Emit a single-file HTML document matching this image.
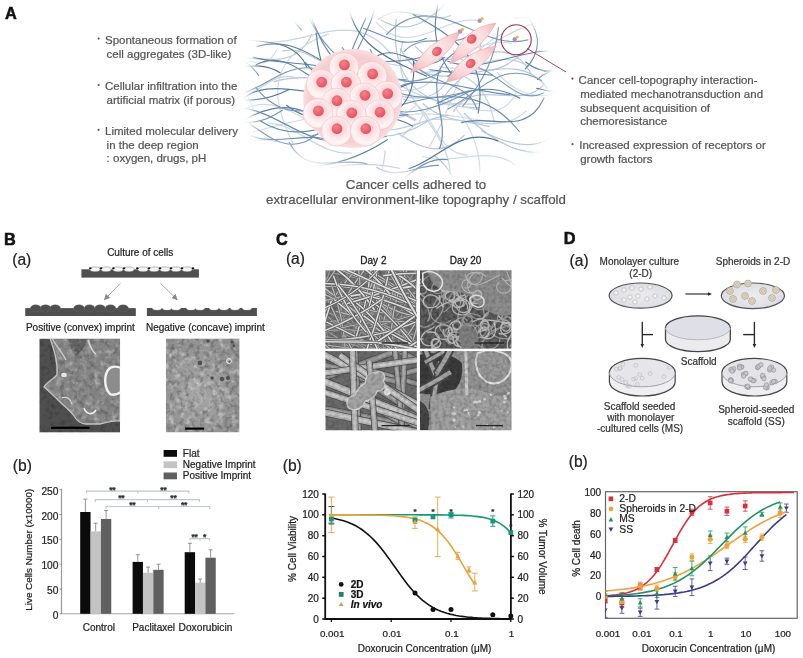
<!DOCTYPE html>
<html><head><meta charset="utf-8"><title>Figure</title>
<style>html,body{margin:0;padding:0;background:#fff;width:803px;height:658px;overflow:hidden}svg{display:block;font-family:"Liberation Sans",Arial,sans-serif}</style></head>
<body>
<svg width="803" height="658" viewBox="0 0 803 658">
<defs><filter id="fblur" x="-10%" y="-10%" width="120%" height="120%"><feGaussianBlur stdDeviation="5"/></filter>
<mask id="cloudmask" maskUnits="userSpaceOnUse" x="0" y="0" width="803" height="230"><polygon points="254,46 290,30 330,22 380,16 420,9 470,10 515,18 540,32 546,70 546,110 540,145 510,165 470,172 420,172 370,168 320,160 285,150 256,138 250,95" fill="#fff" filter="url(#fblur)"/></mask>
<filter id="glow" x="-5%" y="-5%" width="110%" height="110%"><feGaussianBlur stdDeviation="1.2"/></filter>

<radialGradient id="cellg" cx="0.55" cy="0.4" r="0.6">
 <stop offset="0" stop-color="#f9cdd0"/>
 <stop offset="0.45" stop-color="#fbdfe1"/>
 <stop offset="0.8" stop-color="#fff6f6"/>
 <stop offset="1" stop-color="#fde8e9"/>
</radialGradient>
<radialGradient id="nucg" cx="0.4" cy="0.35" r="0.7">
 <stop offset="0" stop-color="#f6828c"/>
 <stop offset="1" stop-color="#e44c5a"/>
</radialGradient>
<radialGradient id="clg" cx="0.5" cy="0.5" r="0.5">
 <stop offset="0" stop-color="#f8d3d5"/>
 <stop offset="0.85" stop-color="#f6cdd0"/>
 <stop offset="1" stop-color="#f9dfe0"/>
</radialGradient>
<radialGradient id="spg" cx="0.45" cy="0.4" r="0.65">
 <stop offset="0" stop-color="#fef0f0"/>
 <stop offset="0.6" stop-color="#fad6d7"/>
 <stop offset="1" stop-color="#f4b8bc"/>
</radialGradient>

<marker id="arrg" markerWidth="6" markerHeight="6" refX="5" refY="3" orient="auto" markerUnits="userSpaceOnUse"><path d="M0,0 L6,3 L0,6 Z" fill="#888"/></marker>

<filter id="semB1" x="0" y="0" width="100%" height="100%">
 <feTurbulence type="fractalNoise" baseFrequency="0.22" numOctaves="3" seed="3" result="n"/>
 <feColorMatrix in="n" type="matrix" values="0 0 0 0 0.5  0 0 0 0 0.5  0 0 0 0 0.5  0.9 0.9 0.9 0 -1.05" result="m"/>
 <feComposite in="m" in2="SourceGraphic" operator="in" result="c"/>
 <feMerge><feMergeNode in="SourceGraphic"/><feMergeNode in="c"/></feMerge>
</filter>
<filter id="semNoise" x="0" y="0" width="100%" height="100%">
 <feTurbulence type="fractalNoise" baseFrequency="0.35" numOctaves="2" seed="9" result="n"/>
 <feColorMatrix in="n" type="saturate" values="0" result="g"/>
 <feComponentTransfer in="g" result="g2"><feFuncA type="linear" slope="0" intercept="0.35"/></feComponentTransfer>
 <feBlend in="SourceGraphic" in2="g2" mode="overlay"/>
</filter>
<clipPath id="cB1"><rect x="39.3" y="338.6" width="80.8" height="94"/></clipPath>
<clipPath id="cB2"><rect x="165.8" y="338.4" width="73.8" height="94"/></clipPath>

<filter id="mottW" x="0" y="0" width="100%" height="100%">
 <feTurbulence type="fractalNoise" baseFrequency="0.16" numOctaves="3" seed="17" result="n"/>
 <feColorMatrix in="n" type="matrix" values="0 0 0 0 1  0 0 0 0 1  0 0 0 0 1  2.6 0 0 0 -1.25" result="m"/>
 <feComposite in="m" in2="SourceGraphic" operator="in"/>
</filter>
<filter id="mottK" x="0" y="0" width="100%" height="100%">
 <feTurbulence type="fractalNoise" baseFrequency="0.2" numOctaves="3" seed="29" result="n"/>
 <feColorMatrix in="n" type="matrix" values="0 0 0 0 0  0 0 0 0 0  0 0 0 0 0  2.4 0 0 0 -1.1" result="m"/>
 <feComposite in="m" in2="SourceGraphic" operator="in"/>
</filter>
<filter id="soft2" x="-2%" y="-2%" width="104%" height="104%"><feGaussianBlur stdDeviation="0.7"/></filter>
<clipPath id="cB1b"><path d="M50,338 C54,350 58,362 57,375 C52,380 46,383 44,387 C50,392 54,396 58,400 C64,406 70,410 74,416 C77,421 80,424 86,424 L100,424 C108,422 114,420 120,421 L121,338 Z"/></clipPath>
<radialGradient id="gB2" cx="0.45" cy="0.55" r="0.6">
 <stop offset="0" stop-color="#a8a8a8"/><stop offset="1" stop-color="#8e8e8e"/></radialGradient>
<clipPath id="cTL"><rect x="325.3" y="270.2" width="91.6" height="78.6"/></clipPath>
<clipPath id="cTR"><rect x="419.8" y="270.2" width="91.8" height="78.6"/></clipPath>
<clipPath id="cBL"><rect x="325.3" y="351.1" width="91.6" height="79.4"/></clipPath>
<clipPath id="cBR"><rect x="419.8" y="351.1" width="91.8" height="79.4"/></clipPath>
<filter id="semN" x="0" y="0" width="100%" height="100%">
 <feTurbulence type="fractalNoise" baseFrequency="0.28" numOctaves="2" seed="4" result="n"/>
 <feColorMatrix in="n" type="matrix" values="0 0 0 0 0  0 0 0 0 0  0 0 0 0 0  0 0 0 -1.2 0.75" result="m"/>
 <feComposite in="m" in2="SourceGraphic" operator="in"/>
</filter>
<filter id="soft" x="-2%" y="-2%" width="104%" height="104%"><feGaussianBlur stdDeviation="0.5"/></filter>
<radialGradient id="dishg" cx="0.5" cy="0.5" r="0.6">
 <stop offset="0" stop-color="#ececf0"/><stop offset="1" stop-color="#dadbe2"/></radialGradient>
<clipPath id="cDb"><rect x="605.5" y="491.7" width="191.7" height="126.6"/></clipPath></defs>
<rect width="803" height="658" fill="#fff"/>
<text x="4.9" y="18.5" font-size="16.3" fill="#111" font-weight="bold" stroke="#111" stroke-width="0.55">A</text>
<circle cx="98.6" cy="38.6" r="1.1" fill="#555"/>
<text x="105.0" y="43.8" font-size="11.5" fill="#555" stroke="#555" stroke-width="0.22">Spontaneous formation of</text>
<text x="106.6" y="57.6" font-size="11.5" fill="#555" stroke="#555" stroke-width="0.22">cell aggregates (3D-like)</text>
<circle cx="98.6" cy="85.0" r="1.1" fill="#555"/>
<text x="105.0" y="90.2" font-size="11.5" fill="#555" stroke="#555" stroke-width="0.22">Cellular infiltration into the</text>
<text x="106.6" y="104.2" font-size="11.5" fill="#555" stroke="#555" stroke-width="0.22">artificial matrix (if porous)</text>
<circle cx="98.6" cy="129.8" r="1.1" fill="#555"/>
<text x="105.0" y="135.0" font-size="11.5" fill="#555" stroke="#555" stroke-width="0.22">Limited molecular delivery</text>
<text x="106.6" y="148.8" font-size="11.5" fill="#555" stroke="#555" stroke-width="0.22">in the deep region</text>
<text x="106.6" y="162.4" font-size="11.5" fill="#555" stroke="#555" stroke-width="0.22">: oxygen, drugs, pH</text>
<circle cx="572.5" cy="78.6" r="1.1" fill="#555"/>
<text x="578.6" y="83.8" font-size="11.5" fill="#555" stroke="#555" stroke-width="0.22">Cancer cell-topography interaction-</text>
<text x="580.2" y="97.8" font-size="11.5" fill="#555" stroke="#555" stroke-width="0.22">mediated mechanotransduction and</text>
<text x="580.2" y="111.5" font-size="11.5" fill="#555" stroke="#555" stroke-width="0.22">subsequent acquisition of</text>
<text x="580.2" y="125.2" font-size="11.5" fill="#555" stroke="#555" stroke-width="0.22">chemoresistance</text>
<circle cx="572.5" cy="144.2" r="1.1" fill="#555"/>
<text x="579.2" y="149.4" font-size="11.5" fill="#555" stroke="#555" stroke-width="0.22">Increased expression of receptors or</text>
<text x="580.2" y="163.1" font-size="11.5" fill="#555" stroke="#555" stroke-width="0.22">growth factors</text>
<text x="416.0" y="188.7" font-size="13.3" fill="#555" text-anchor="middle" stroke="#555" stroke-width="0.22">Cancer cells adhered to</text>
<text x="416.0" y="203.8" font-size="13.3" fill="#555" text-anchor="middle" stroke="#555" stroke-width="0.22">extracellular environment-like topography / scaffold</text>
<g id="fibers" mask="url(#cloudmask)">
<path d="M530.6,72.8 C502.2,21.5 447.7,84.9 415.3,46.4" fill="none" stroke="#b2c4d8" stroke-width="1.2" stroke-opacity="0.95" stroke-linecap="round"/>
<path d="M378.4,19.5 C401.3,0.2 426.5,25.2 450.6,15.6" fill="none" stroke="#c3d2e2" stroke-width="1.2" stroke-opacity="0.95" stroke-linecap="round"/>
<path d="M420.8,73.1 C461.1,66.0 486.6,80.8 494.4,123.1" fill="none" stroke="#c3d2e2" stroke-width="1.2" stroke-opacity="0.95" stroke-linecap="round"/>
<path d="M415.8,119.8 C393.5,105.4 370.1,113.5 346.2,116.4" fill="none" stroke="#b2c4d8" stroke-width="1.2" stroke-opacity="0.95" stroke-linecap="round"/>
<path d="M311.0,119.6 C343.0,96.3 383.5,138.2 415.4,105.9" fill="none" stroke="#cfd9e4" stroke-width="1.2" stroke-opacity="0.95" stroke-linecap="round"/>
<path d="M480.8,21.4 C446.2,11.3 411.7,61.9 375.9,21.8" fill="none" stroke="#cfd9e4" stroke-width="1.2" stroke-opacity="0.95" stroke-linecap="round"/>
<path d="M373.8,132.2 C331.7,102.3 290.0,124.5 246.9,133.2" fill="none" stroke="#cfd9e4" stroke-width="1.2" stroke-opacity="0.95" stroke-linecap="round"/>
<path d="M350.7,65.4 C325.3,74.8 308.4,43.9 282.8,51.1" fill="none" stroke="#b2c4d8" stroke-width="1.2" stroke-opacity="0.95" stroke-linecap="round"/>
<path d="M268.0,123.0 C298.5,124.4 318.4,155.4 351.2,153.0" fill="none" stroke="#c3d2e2" stroke-width="1.2" stroke-opacity="0.95" stroke-linecap="round"/>
<path d="M528.4,66.3 C499.1,47.4 469.9,74.7 439.7,66.7" fill="none" stroke="#c3d2e2" stroke-width="1.2" stroke-opacity="0.95" stroke-linecap="round"/>
<path d="M273.9,81.7 C328.2,66.3 370.0,96.5 415.0,120.5" fill="none" stroke="#b2c4d8" stroke-width="1.2" stroke-opacity="0.95" stroke-linecap="round"/>
<path d="M452.1,70.4 C428.2,135.3 361.7,58.4 331.6,106.6" fill="none" stroke="#b2c4d8" stroke-width="1.2" stroke-opacity="0.95" stroke-linecap="round"/>
<path d="M374.0,68.6 C405.3,91.3 438.4,108.3 480.0,103.3" fill="none" stroke="#c3d2e2" stroke-width="1.2" stroke-opacity="0.95" stroke-linecap="round"/>
<path d="M385.2,150.8 C382.5,185.0 363.6,213.1 350.2,244.3" fill="none" stroke="#c3d2e2" stroke-width="1.2" stroke-opacity="0.95" stroke-linecap="round"/>
<path d="M311.8,34.6 C296.5,67.9 267.5,58.7 240.3,57.8" fill="none" stroke="#b2c4d8" stroke-width="1.2" stroke-opacity="0.95" stroke-linecap="round"/>
<path d="M270.8,42.1 C310.6,43.0 353.7,8.1 390.5,53.4" fill="none" stroke="#c3d2e2" stroke-width="1.2" stroke-opacity="0.95" stroke-linecap="round"/>
<path d="M544.0,84.4 C519.9,112.4 476.4,75.5 453.6,111.4" fill="none" stroke="#b2c4d8" stroke-width="1.2" stroke-opacity="0.95" stroke-linecap="round"/>
<path d="M402.8,41.7 C384.6,100.0 459.6,128.4 449.2,185.8" fill="none" stroke="#c3d2e2" stroke-width="1.2" stroke-opacity="0.95" stroke-linecap="round"/>
<path d="M505.5,122.2 C460.1,122.4 412.2,96.3 368.9,135.0" fill="none" stroke="#cfd9e4" stroke-width="1.2" stroke-opacity="0.95" stroke-linecap="round"/>
<path d="M438.4,108.6 C445.7,80.8 485.9,72.0 480.2,35.8" fill="none" stroke="#b2c4d8" stroke-width="1.2" stroke-opacity="0.95" stroke-linecap="round"/>
<path d="M403.2,66.3 C371.6,61.4 338.1,51.3 322.0,94.2" fill="none" stroke="#c3d2e2" stroke-width="1.2" stroke-opacity="0.95" stroke-linecap="round"/>
<path d="M489.3,126.6 C466.8,120.8 442.2,121.2 423.0,103.7" fill="none" stroke="#b2c4d8" stroke-width="1.2" stroke-opacity="0.95" stroke-linecap="round"/>
<path d="M434.7,155.7 C489.9,198.4 420.4,249.1 443.7,295.3" fill="none" stroke="#b2c4d8" stroke-width="1.2" stroke-opacity="0.95" stroke-linecap="round"/>
<path d="M481.6,131.0 C517.2,148.8 550.4,155.9 572.5,110.2" fill="none" stroke="#b2c4d8" stroke-width="1.2" stroke-opacity="0.95" stroke-linecap="round"/>
<path d="M387.1,129.9 C408.4,130.0 426.9,118.2 448.1,115.1" fill="none" stroke="#b2c4d8" stroke-width="1.2" stroke-opacity="0.95" stroke-linecap="round"/>
<path d="M293.3,143.5 C268.5,95.8 268.5,56.0 328.3,34.1" fill="none" stroke="#cfd9e4" stroke-width="1.2" stroke-opacity="0.95" stroke-linecap="round"/>
<path d="M442.3,94.4 C486.4,134.9 488.7,182.2 465.0,235.2" fill="none" stroke="#cfd9e4" stroke-width="1.2" stroke-opacity="0.95" stroke-linecap="round"/>
<path d="M398.3,133.2 C419.7,148.2 441.2,158.2 464.4,135.3" fill="none" stroke="#b2c4d8" stroke-width="1.2" stroke-opacity="0.95" stroke-linecap="round"/>
<path d="M422.7,156.3 C457.7,169.4 508.3,130.9 531.0,188.9" fill="none" stroke="#cfd9e4" stroke-width="1.2" stroke-opacity="0.95" stroke-linecap="round"/>
<path d="M479.8,107.8 C421.9,107.1 389.7,82.3 396.2,19.1" fill="none" stroke="#b2c4d8" stroke-width="1.2" stroke-opacity="0.95" stroke-linecap="round"/>
<path d="M403.4,99.1 C435.7,104.8 431.7,151.7 467.1,155.2" fill="none" stroke="#cfd9e4" stroke-width="1.2" stroke-opacity="0.95" stroke-linecap="round"/>
<path d="M514.6,18.4 C544.8,11.8 564.3,36.1 590.2,44.4" fill="none" stroke="#cfd9e4" stroke-width="1.2" stroke-opacity="0.95" stroke-linecap="round"/>
<path d="M400.3,48.6 C434.8,113.7 507.9,35.4 547.3,88.2" fill="none" stroke="#b2c4d8" stroke-width="1.2" stroke-opacity="0.95" stroke-linecap="round"/>
<path d="M380.9,19.9 C439.1,53.7 455.5,-48.1 513.1,-20.8" fill="none" stroke="#b2c4d8" stroke-width="1.2" stroke-opacity="0.95" stroke-linecap="round"/>
<path d="M440.5,68.1 C409.8,126.8 342.7,45.2 310.1,101.9" fill="none" stroke="#cfd9e4" stroke-width="1.2" stroke-opacity="0.95" stroke-linecap="round"/>
<path d="M297.8,78.8 C265.6,63.9 242.0,125.1 206.5,89.1" fill="none" stroke="#c3d2e2" stroke-width="1.2" stroke-opacity="0.95" stroke-linecap="round"/>
<path d="M385.8,123.3 C333.6,177.1 283.5,63.3 229.7,121.4" fill="none" stroke="#cfd9e4" stroke-width="1.2" stroke-opacity="0.95" stroke-linecap="round"/>
<path d="M480.6,52.4 C525.7,19.0 571.7,2.5 622.3,44.6" fill="none" stroke="#c3d2e2" stroke-width="1.2" stroke-opacity="0.95" stroke-linecap="round"/>
<path d="M418.9,122.9 C439.1,75.0 495.7,140.8 516.5,91.6" fill="none" stroke="#cfd9e4" stroke-width="1.2" stroke-opacity="0.95" stroke-linecap="round"/>
<path d="M276.2,50.7 C259.0,86.5 223.3,28.4 205.4,64.7" fill="none" stroke="#cfd9e4" stroke-width="1.2" stroke-opacity="0.95" stroke-linecap="round"/>
<path d="M524.3,51.9 C500.5,73.1 476.9,79.8 453.4,50.6" fill="none" stroke="#b2c4d8" stroke-width="1.2" stroke-opacity="0.95" stroke-linecap="round"/>
<path d="M525.9,111.1 C490.2,145.4 436.6,94.2 401.4,137.1" fill="none" stroke="#c3d2e2" stroke-width="1.2" stroke-opacity="0.95" stroke-linecap="round"/>
<path d="M399.7,168.4 C355.8,159.0 314.8,165.7 275.8,190.7" fill="none" stroke="#b2c4d8" stroke-width="1.2" stroke-opacity="0.95" stroke-linecap="round"/>
<path d="M497.0,72.5 C524.2,104.5 556.4,98.0 590.5,84.8" fill="none" stroke="#cfd9e4" stroke-width="1.2" stroke-opacity="0.95" stroke-linecap="round"/>
<path d="M254.2,110.6 C233.9,71.6 241.1,28.1 233.3,-14.2" fill="none" stroke="#cfd9e4" stroke-width="1.2" stroke-opacity="0.95" stroke-linecap="round"/>
<path d="M427.2,121.6 C409.4,133.2 390.4,139.4 368.3,134.8" fill="none" stroke="#b2c4d8" stroke-width="1.2" stroke-opacity="0.95" stroke-linecap="round"/>
<path d="M511.2,43.7 C481.0,34.8 455.9,70.2 423.9,53.8" fill="none" stroke="#cfd9e4" stroke-width="1.2" stroke-opacity="0.95" stroke-linecap="round"/>
<path d="M276.9,142.0 C247.9,129.7 215.6,172.0 187.1,136.5" fill="none" stroke="#c3d2e2" stroke-width="1.2" stroke-opacity="0.95" stroke-linecap="round"/>
<path d="M502.6,33.5 C455.3,56.5 454.1,109.4 428.3,147.9" fill="none" stroke="#cfd9e4" stroke-width="1.2" stroke-opacity="0.95" stroke-linecap="round"/>
<path d="M464.4,113.5 C497.7,148.0 535.1,165.9 583.7,142.0" fill="none" stroke="#b2c4d8" stroke-width="1.2" stroke-opacity="0.95" stroke-linecap="round"/>
<path d="M519.3,131.5 C487.2,90.9 445.9,91.4 400.5,105.0" fill="none" stroke="#6a8db2" stroke-width="1.15" stroke-opacity="1" stroke-linecap="round"/>
<path d="M438.6,165.4 C418.2,164.3 398.4,180.9 376.9,167.5" fill="none" stroke="#6a8db2" stroke-width="1.15" stroke-opacity="1" stroke-linecap="round"/>
<path d="M471.5,90.5 C426.9,113.8 383.3,129.3 346.0,76.4" fill="none" stroke="#7896b8" stroke-width="1.15" stroke-opacity="1" stroke-linecap="round"/>
<path d="M319.5,132.1 C269.4,178.9 235.4,72.6 184.1,117.8" fill="none" stroke="#7896b8" stroke-width="1.15" stroke-opacity="1" stroke-linecap="round"/>
<path d="M477.0,109.2 C466.6,78.1 424.9,87.0 411.7,58.2" fill="none" stroke="#7896b8" stroke-width="1.15" stroke-opacity="1" stroke-linecap="round"/>
<path d="M329.6,118.2 C338.4,84.0 350.5,51.0 365.9,18.1" fill="none" stroke="#6a8db2" stroke-width="1.15" stroke-opacity="1" stroke-linecap="round"/>
<path d="M544.0,98.0 C526.2,137.6 489.4,113.8 461.5,122.7" fill="none" stroke="#5b7fa6" stroke-width="1.15" stroke-opacity="1" stroke-linecap="round"/>
<path d="M544.2,71.4 C571.2,68.9 569.7,31.6 596.9,28.2" fill="none" stroke="#4f7399" stroke-width="1.15" stroke-opacity="1" stroke-linecap="round"/>
<path d="M289.3,142.5 C307.2,177.5 340.9,155.8 367.1,164.1" fill="none" stroke="#7896b8" stroke-width="1.15" stroke-opacity="1" stroke-linecap="round"/>
<path d="M451.8,74.5 C436.6,53.7 431.6,30.8 437.9,5.0" fill="none" stroke="#5b7fa6" stroke-width="1.15" stroke-opacity="1" stroke-linecap="round"/>
<path d="M498.4,27.7 C495.6,57.6 482.4,82.8 462.8,106.1" fill="none" stroke="#7896b8" stroke-width="1.15" stroke-opacity="1" stroke-linecap="round"/>
<path d="M356.8,78.2 C322.5,116.8 255.5,55.6 228.3,120.2" fill="none" stroke="#5b7fa6" stroke-width="1.15" stroke-opacity="1" stroke-linecap="round"/>
<path d="M537.4,79.5 C577.3,44.7 596.8,114.7 634.1,98.3" fill="none" stroke="#6a8db2" stroke-width="1.15" stroke-opacity="1" stroke-linecap="round"/>
<path d="M412.6,126.0 C373.7,102.8 325.4,136.6 286.5,105.3" fill="none" stroke="#4f7399" stroke-width="1.15" stroke-opacity="1" stroke-linecap="round"/>
<path d="M519.9,98.2 C491.5,82.0 464.6,90.1 437.1,103.2" fill="none" stroke="#5b7fa6" stroke-width="1.15" stroke-opacity="1" stroke-linecap="round"/>
<path d="M444.2,57.3 C421.1,78.7 393.1,33.8 369.8,62.8" fill="none" stroke="#4f7399" stroke-width="1.15" stroke-opacity="1" stroke-linecap="round"/>
<path d="M412.9,82.3 C372.9,100.5 336.2,100.7 305.4,62.6" fill="none" stroke="#4f7399" stroke-width="1.15" stroke-opacity="1" stroke-linecap="round"/>
<path d="M344.5,68.4 C305.4,40.7 314.0,-22.9 261.2,-42.0" fill="none" stroke="#5b7fa6" stroke-width="1.15" stroke-opacity="1" stroke-linecap="round"/>
<path d="M361.6,63.5 C384.8,60.0 409.4,64.4 432.0,52.4" fill="none" stroke="#6a8db2" stroke-width="1.15" stroke-opacity="1" stroke-linecap="round"/>
<path d="M363.8,113.9 C405.5,58.6 458.8,91.4 509.7,94.6" fill="none" stroke="#6a8db2" stroke-width="1.15" stroke-opacity="1" stroke-linecap="round"/>
<path d="M536.6,88.3 C571.4,95.9 605.8,104.7 639.3,120.2" fill="none" stroke="#4f7399" stroke-width="1.15" stroke-opacity="1" stroke-linecap="round"/>
<path d="M316.2,32.9 C321.0,88.6 347.7,119.7 408.1,114.9" fill="none" stroke="#5b7fa6" stroke-width="1.15" stroke-opacity="1" stroke-linecap="round"/>
<path d="M413.2,14.5 C452.1,35.6 489.1,57.8 478.2,113.1" fill="none" stroke="#5b7fa6" stroke-width="1.15" stroke-opacity="1" stroke-linecap="round"/>
<path d="M406.4,79.7 C343.9,79.1 313.5,41.2 296.4,-14.6" fill="none" stroke="#7896b8" stroke-width="1.15" stroke-opacity="1" stroke-linecap="round"/>
<path d="M253.1,57.4 C297.8,69.0 351.0,54.9 385.5,101.5" fill="none" stroke="#5b7fa6" stroke-width="1.15" stroke-opacity="1" stroke-linecap="round"/>
<path d="M258.7,75.5 C231.7,33.8 153.0,65.2 144.7,-5.2" fill="none" stroke="#6a8db2" stroke-width="1.15" stroke-opacity="1" stroke-linecap="round"/>
<path d="M447.5,159.7 C411.8,154.8 394.9,205.6 354.8,191.1" fill="none" stroke="#6a8db2" stroke-width="1.15" stroke-opacity="1" stroke-linecap="round"/>
<path d="M468.8,90.8 C416.5,107.2 374.4,94.0 342.2,47.6" fill="none" stroke="#7896b8" stroke-width="1.15" stroke-opacity="1" stroke-linecap="round"/>
<path d="M282.3,110.3 C221.7,151.9 195.5,73.0 145.8,71.4" fill="none" stroke="#7896b8" stroke-width="1.15" stroke-opacity="1" stroke-linecap="round"/>
<path d="M426.5,76.1 C384.5,57.5 341.2,40.0 348.0,-20.0" fill="none" stroke="#4f7399" stroke-width="1.15" stroke-opacity="1" stroke-linecap="round"/>
<path d="M525.8,62.0 C542.7,77.1 567.4,67.9 585.7,80.9" fill="none" stroke="#5b7fa6" stroke-width="1.15" stroke-opacity="1" stroke-linecap="round"/>
<path d="M541.6,80.6 C500.8,57.5 478.2,94.2 448.0,109.0" fill="none" stroke="#7896b8" stroke-width="1.15" stroke-opacity="1" stroke-linecap="round"/>
<path d="M362.5,134.1 C315.6,158.5 283.8,112.4 241.8,108.0" fill="none" stroke="#6a8db2" stroke-width="1.15" stroke-opacity="1" stroke-linecap="round"/>
<path d="M307.1,67.7 C287.1,17.3 203.5,67.3 194.7,-3.3" fill="none" stroke="#4f7399" stroke-width="1.15" stroke-opacity="1" stroke-linecap="round"/>
<path d="M387.4,139.7 C353.4,161.6 317.1,172.4 275.5,164.0" fill="none" stroke="#5b7fa6" stroke-width="1.15" stroke-opacity="1" stroke-linecap="round"/>
<path d="M327.6,125.5 C278.4,84.7 241.7,123.5 201.2,145.6" fill="none" stroke="#5b7fa6" stroke-width="1.15" stroke-opacity="1" stroke-linecap="round"/>
<path d="M257.2,46.4 C293.5,36.0 318.4,60.3 347.2,76.1" fill="none" stroke="#5b7fa6" stroke-width="1.15" stroke-opacity="1" stroke-linecap="round"/>
<path d="M289.3,89.4 C239.3,114.1 203.6,93.2 172.5,53.1" fill="none" stroke="#4f7399" stroke-width="1.15" stroke-opacity="1" stroke-linecap="round"/>
<path d="M386.4,136.5 C361.8,142.5 337.4,126.1 312.0,135.9" fill="none" stroke="#7896b8" stroke-width="1.15" stroke-opacity="1" stroke-linecap="round"/>
<path d="M413.6,61.4 C416.2,103.2 396.0,122.1 354.3,120.8" fill="none" stroke="#4f7399" stroke-width="1.15" stroke-opacity="1" stroke-linecap="round"/>
<path d="M301.3,29.8 C274.0,-5.6 239.2,-14.0 196.8,0.5" fill="none" stroke="#4f7399" stroke-width="1.15" stroke-opacity="1" stroke-linecap="round"/>
<path d="M337.0,101.0 C307.1,115.1 279.2,117.3 255.8,87.3" fill="none" stroke="#7896b8" stroke-width="1.15" stroke-opacity="1" stroke-linecap="round"/>
<path d="M346.6,73.0 C364.7,29.0 404.8,-15.0 345.9,-59.8" fill="none" stroke="#6a8db2" stroke-width="1.15" stroke-opacity="1" stroke-linecap="round"/>
<path d="M318.4,81.5 C299.4,70.3 282.3,52.0 256.1,64.7" fill="none" stroke="#5b7fa6" stroke-width="1.15" stroke-opacity="1" stroke-linecap="round"/>
<path d="M525.3,69.0 C571.6,19.9 468.7,-10.2 508.8,-59.9" fill="none" stroke="#6a8db2" stroke-width="1.15" stroke-opacity="1" stroke-linecap="round"/>
<path d="M314.4,68.5 C274.4,61.0 247.1,113.7 202.9,91.9" fill="none" stroke="#7896b8" stroke-width="1.15" stroke-opacity="1" stroke-linecap="round"/>
<path d="M492.4,75.1 C471.7,73.6 451.0,72.5 429.8,69.8" fill="none" stroke="#5b7fa6" stroke-width="1.15" stroke-opacity="1" stroke-linecap="round"/>
<path d="M280.0,72.8 C256.7,57.3 230.3,74.1 205.6,65.6" fill="none" stroke="#4f7399" stroke-width="1.15" stroke-opacity="1" stroke-linecap="round"/>
<path d="M447.7,76.5 C486.5,40.5 506.9,110.5 543.5,93.1" fill="none" stroke="#7896b8" stroke-width="1.15" stroke-opacity="1" stroke-linecap="round"/>
<path d="M440.8,72.1 C409.6,89.2 385.9,83.2 370.2,49.5" fill="none" stroke="#7896b8" stroke-width="1.15" stroke-opacity="1" stroke-linecap="round"/>
<path d="M386.4,34.7 C435.1,-16.1 479.4,53.6 528.2,39.8" fill="none" stroke="#7896b8" stroke-width="1.15" stroke-opacity="1" stroke-linecap="round"/>
<path d="M468.2,36.2 C448.7,48.0 422.3,31.7 404.0,51.6" fill="none" stroke="#7896b8" stroke-width="1.15" stroke-opacity="1" stroke-linecap="round"/>
<path d="M339.3,145.3 C307.0,121.0 254.6,164.7 229.3,112.6" fill="none" stroke="#6a8db2" stroke-width="1.15" stroke-opacity="1" stroke-linecap="round"/>
<path d="M439.5,148.5 C452.8,116.8 413.0,73.2 461.9,48.4" fill="none" stroke="#6a8db2" stroke-width="1.15" stroke-opacity="1" stroke-linecap="round"/>
<path d="M363.5,28.2 C383.7,35.0 402.7,49.3 426.4,38.2" fill="none" stroke="#6a8db2" stroke-width="1.15" stroke-opacity="1" stroke-linecap="round"/>
<path d="M447.7,61.2 C491.1,77.3 532.8,36.1 577.7,57.1" fill="none" stroke="#5b7fa6" stroke-width="1.15" stroke-opacity="1" stroke-linecap="round"/>
<path d="M376.0,116.1 C337.9,118.8 300.9,146.9 260.4,121.0" fill="none" stroke="#6a8db2" stroke-width="1.15" stroke-opacity="1" stroke-linecap="round"/>
<path d="M497.6,140.9 C460.8,126.0 439.0,158.9 409.0,168.6" fill="none" stroke="#4f7399" stroke-width="1.15" stroke-opacity="1" stroke-linecap="round"/>
</g>
<circle cx="352.7" cy="98.5" r="49.5" fill="url(#clg)"/>
<circle cx="343.9" cy="67.4" r="15" fill="url(#cellg)" stroke="#f0b8bc" stroke-width="0.6"/>
<circle cx="372.1" cy="76.4" r="15" fill="url(#cellg)" stroke="#f0b8bc" stroke-width="0.6"/>
<circle cx="321.2" cy="84.6" r="15" fill="url(#cellg)" stroke="#f0b8bc" stroke-width="0.6"/>
<circle cx="345.9" cy="84.6" r="15" fill="url(#cellg)" stroke="#f0b8bc" stroke-width="0.6"/>
<circle cx="387.2" cy="96.1" r="15" fill="url(#cellg)" stroke="#f0b8bc" stroke-width="0.6"/>
<circle cx="364.5" cy="97.8" r="15" fill="url(#cellg)" stroke="#f0b8bc" stroke-width="0.6"/>
<circle cx="336.5" cy="103.2" r="15" fill="url(#cellg)" stroke="#f0b8bc" stroke-width="0.6"/>
<circle cx="317.9" cy="113.4" r="15" fill="url(#cellg)" stroke="#f0b8bc" stroke-width="0.6"/>
<circle cx="379.5" cy="114.7" r="15" fill="url(#cellg)" stroke="#f0b8bc" stroke-width="0.6"/>
<circle cx="351.3" cy="115.3" r="15" fill="url(#cellg)" stroke="#f0b8bc" stroke-width="0.6"/>
<circle cx="336.5" cy="131.2" r="15" fill="url(#cellg)" stroke="#f0b8bc" stroke-width="0.6"/>
<circle cx="365.3" cy="131.2" r="15" fill="url(#cellg)" stroke="#f0b8bc" stroke-width="0.6"/>
<circle cx="344.4" cy="64.9" r="5.4" fill="url(#nucg)"/>
<circle cx="372.6" cy="73.9" r="5.4" fill="url(#nucg)"/>
<circle cx="321.7" cy="82.1" r="5.4" fill="url(#nucg)"/>
<circle cx="346.4" cy="82.1" r="5.4" fill="url(#nucg)"/>
<circle cx="387.7" cy="93.6" r="5.4" fill="url(#nucg)"/>
<circle cx="365.0" cy="95.3" r="5.4" fill="url(#nucg)"/>
<circle cx="337.0" cy="100.7" r="5.4" fill="url(#nucg)"/>
<circle cx="318.4" cy="110.9" r="5.4" fill="url(#nucg)"/>
<circle cx="351.8" cy="112.8" r="5.4" fill="url(#nucg)"/>
<circle cx="380.0" cy="112.2" r="5.4" fill="url(#nucg)"/>
<circle cx="337.0" cy="128.7" r="5.4" fill="url(#nucg)"/>
<circle cx="365.8" cy="128.7" r="5.4" fill="url(#nucg)"/>
<path d="M410.5,72.5 Q446.5,63.2 460.0,32.0 Q427.3,39.6 410.5,72.5 Z" fill="url(#spg)" stroke="#f0aab0" stroke-width="0.7"/>
<ellipse cx="436.9" cy="51.4" rx="5.2" ry="4.4" fill="url(#nucg)" transform="rotate(-39.3 436.9 51.4)"/>
<path d="M450.0,64.0 Q481.8,50.4 496.0,23.0 Q461.6,27.8 450.0,64.0 Z" fill="url(#spg)" stroke="#f0aab0" stroke-width="0.7"/>
<ellipse cx="471.7" cy="39.1" rx="5.2" ry="4.4" fill="url(#nucg)" transform="rotate(-41.7 471.7 39.1)"/>
<path d="M447.0,82.0 Q479.6,75.7 496.0,46.0 Q461.6,51.3 447.0,82.0 Z" fill="url(#spg)" stroke="#f0aab0" stroke-width="0.7"/>
<ellipse cx="470.6" cy="63.5" rx="5.2" ry="4.4" fill="url(#nucg)" transform="rotate(-36.3 470.6 63.5)"/>
<circle cx="460.0" cy="31.5" r="2.2" fill="#b48fc8"/>
<circle cx="462.5" cy="29.3" r="1.6" fill="#e8c040"/>
<circle cx="479.7" cy="20.7" r="2.2" fill="#b48fc8"/>
<circle cx="482.2" cy="18.5" r="1.6" fill="#e8c040"/>
<circle cx="514.7" cy="39.3" r="2.2" fill="#b48fc8"/>
<circle cx="517.2" cy="37.1" r="1.6" fill="#e8c040"/>
<circle cx="516.2" cy="39.7" r="15" fill="none" stroke="#9a3346" stroke-width="1.1"/>
<line x1="527.2" y1="48.5" x2="566" y2="72" stroke="#9a3346" stroke-width="0.9"/>
<text x="4.0" y="245.4" font-size="16.3" fill="#111" font-weight="bold" stroke="#111" stroke-width="0.55">B</text>
<text x="12.2" y="264.7" font-size="15.6" fill="#222" stroke="#222" stroke-width="0.22">(a)</text>
<text x="140.2" y="256.2" font-size="10" fill="#222" text-anchor="middle" stroke="#222" stroke-width="0.22">Culture of cells</text>
<rect x="81.4" y="269.3" width="117.5" height="8.3" fill="#4f4f4f"/>
<ellipse cx="95" cy="269.3" rx="5.2" ry="2.4" fill="#f4f4f4" stroke="#777" stroke-width="0.5"/>
<ellipse cx="106" cy="269.3" rx="5.2" ry="2.4" fill="#f4f4f4" stroke="#777" stroke-width="0.5"/>
<ellipse cx="118" cy="269.3" rx="5.2" ry="2.4" fill="#f4f4f4" stroke="#777" stroke-width="0.5"/>
<ellipse cx="129" cy="269.3" rx="5.2" ry="2.4" fill="#f4f4f4" stroke="#777" stroke-width="0.5"/>
<ellipse cx="143" cy="269.3" rx="5.2" ry="2.4" fill="#f4f4f4" stroke="#777" stroke-width="0.5"/>
<ellipse cx="154" cy="269.3" rx="5.2" ry="2.4" fill="#f4f4f4" stroke="#777" stroke-width="0.5"/>
<ellipse cx="165" cy="269.3" rx="5.2" ry="2.4" fill="#f4f4f4" stroke="#777" stroke-width="0.5"/>
<ellipse cx="176" cy="269.3" rx="5.2" ry="2.4" fill="#f4f4f4" stroke="#777" stroke-width="0.5"/>
<ellipse cx="187" cy="269.3" rx="5.2" ry="2.4" fill="#f4f4f4" stroke="#777" stroke-width="0.5"/>
<ellipse cx="90.3" cy="268.2" rx="1.3" ry="1.0" fill="#111"/>
<ellipse cx="101" cy="268.2" rx="1.3" ry="1.0" fill="#111"/>
<ellipse cx="113.4" cy="268.2" rx="1.3" ry="1.0" fill="#111"/>
<ellipse cx="124" cy="268.2" rx="1.3" ry="1.0" fill="#111"/>
<ellipse cx="137.3" cy="268.2" rx="1.3" ry="1.0" fill="#111"/>
<ellipse cx="149" cy="268.2" rx="1.3" ry="1.0" fill="#111"/>
<ellipse cx="160" cy="268.2" rx="1.3" ry="1.0" fill="#111"/>
<ellipse cx="171" cy="268.2" rx="1.3" ry="1.0" fill="#111"/>
<ellipse cx="182" cy="268.2" rx="1.3" ry="1.0" fill="#111"/>
<ellipse cx="193" cy="268.2" rx="1.3" ry="1.0" fill="#111"/>
<line x1="120.3" y1="283.4" x2="104.6" y2="299.5" stroke="#999" stroke-width="0.9" marker-end="url(#arrg)"/>
<line x1="160.5" y1="283.4" x2="177" y2="299.5" stroke="#999" stroke-width="0.9" marker-end="url(#arrg)"/>
<rect x="25.2" y="308.1" width="110.6" height="7.9" fill="#4f4f4f"/>
<ellipse cx="35.7" cy="308.4" rx="5.4" ry="3.6" fill="#4f4f4f" stroke="#6a6a6a" stroke-width="0.4"/>
<ellipse cx="45.5" cy="308.4" rx="5.4" ry="3.6" fill="#4f4f4f" stroke="#6a6a6a" stroke-width="0.4"/>
<ellipse cx="55.2" cy="308.4" rx="5.4" ry="3.6" fill="#4f4f4f" stroke="#6a6a6a" stroke-width="0.4"/>
<ellipse cx="79" cy="308.4" rx="5.4" ry="3.6" fill="#4f4f4f" stroke="#6a6a6a" stroke-width="0.4"/>
<ellipse cx="89.5" cy="308.4" rx="5.4" ry="3.6" fill="#4f4f4f" stroke="#6a6a6a" stroke-width="0.4"/>
<ellipse cx="100" cy="308.4" rx="5.4" ry="3.6" fill="#4f4f4f" stroke="#6a6a6a" stroke-width="0.4"/>
<ellipse cx="110.5" cy="308.4" rx="5.4" ry="3.6" fill="#4f4f4f" stroke="#6a6a6a" stroke-width="0.4"/>
<ellipse cx="123.1" cy="308.4" rx="5.4" ry="3.6" fill="#4f4f4f" stroke="#6a6a6a" stroke-width="0.4"/>
<rect x="146.9" y="307.8" width="110" height="8.2" fill="#4f4f4f"/>
<ellipse cx="157" cy="307.8" rx="4.8" ry="2.3" fill="#fff" stroke="#aaa" stroke-width="0.4"/>
<ellipse cx="167" cy="307.8" rx="4.8" ry="2.3" fill="#fff" stroke="#aaa" stroke-width="0.4"/>
<ellipse cx="176" cy="307.8" rx="4.8" ry="2.3" fill="#fff" stroke="#aaa" stroke-width="0.4"/>
<ellipse cx="191" cy="307.8" rx="4.8" ry="2.3" fill="#fff" stroke="#aaa" stroke-width="0.4"/>
<ellipse cx="200" cy="307.8" rx="4.8" ry="2.3" fill="#fff" stroke="#aaa" stroke-width="0.4"/>
<ellipse cx="214" cy="307.8" rx="4.8" ry="2.3" fill="#fff" stroke="#aaa" stroke-width="0.4"/>
<ellipse cx="224" cy="307.8" rx="4.8" ry="2.3" fill="#fff" stroke="#aaa" stroke-width="0.4"/>
<ellipse cx="235" cy="307.8" rx="4.8" ry="2.3" fill="#fff" stroke="#aaa" stroke-width="0.4"/>
<ellipse cx="247" cy="307.8" rx="4.8" ry="2.3" fill="#fff" stroke="#aaa" stroke-width="0.4"/>
<rect x="146" y="304" width="112" height="3.8" fill="#fff"/>
<text x="80.4" y="330.5" font-size="10" fill="#222" text-anchor="middle" stroke="#222" stroke-width="0.22">Positive (convex) imprint</text>
<text x="205.4" y="330.5" font-size="10" fill="#222" text-anchor="middle" stroke="#222" stroke-width="0.22">Negative (concave) imprint</text>
<g clip-path="url(#cB1)"><g filter="url(#soft2)">
<rect x="39.3" y="338.6" width="80.8" height="94" fill="#505050"/>
<path d="M50,338 C54,350 58,362 57,375 C52,380 46,383 44,387 C50,392 54,396 58,400 C64,406 70,410 74,416 C77,421 80,424 86,424 L100,424 C108,422 114,420 120,421 L121,338 Z" fill="#858585"/>
<path d="M68,338 C70,346 72,352 76,356 C82,352 86,344 88,338 Z" fill="#626262"/>
<rect x="39.3" y="338.6" width="80.8" height="94" fill="#fff" filter="url(#mottW)" opacity="0.35" clip-path="url(#cB1b)"/>
<rect x="39.3" y="338.6" width="80.8" height="94" fill="#000" filter="url(#mottK)" opacity="0.25"/>
<path d="M50,338 C54,350 58,362 57,375 C52,380 46,383 44,387 C50,392 54,396 58,400 C64,406 70,410 74,416 C77,421 80,424 86,424 L100,424 C108,422 114,420 120,421 L121,338 Z" fill="none" stroke="#c4c4c4" stroke-width="1.3"/>
<path d="M108,370 C104,376 104,388 110,394 C114,396 118,394 121,392 L121,368 C116,366 111,366 108,370 Z" fill="#8c8c8c" stroke="#f2f2f2" stroke-width="2.4"/>
<ellipse cx="64" cy="375" rx="2.8" ry="2.2" fill="#e6e6e6"/>
<path d="M52,338 C56,346 62,352 66,360" stroke="#c8c8c8" stroke-width="1.4" fill="none"/>
<path d="M88,340 C90,346 92,352 96,354" stroke="#d8d8d8" stroke-width="1.4" fill="none"/>
<path d="M84,408 C86,414 92,416 96,410" stroke="#eee" stroke-width="1.6" fill="none"/>
<path d="M62,398 C66,396 70,398 72,404" stroke="#ddd" stroke-width="1.2" fill="none"/>
</g></g>
<rect x="51" y="426.7" width="38.7" height="2.2" fill="#000"/>
<g clip-path="url(#cB2)"><g filter="url(#soft2)">
<rect x="165.8" y="338.4" width="73.8" height="94" fill="url(#gB2)"/>
<rect x="165.8" y="338.4" width="73.8" height="94" fill="#fff" filter="url(#mottW)" opacity="0.45"/>
<rect x="165.8" y="338.4" width="73.8" height="94" fill="#000" filter="url(#mottK)" opacity="0.3"/>
<circle cx="208" cy="341" r="1.8" fill="#505050"/>
<circle cx="232" cy="342" r="1.6" fill="#505050"/>
<circle cx="234" cy="346" r="1.4" fill="#505050"/>
<circle cx="230" cy="362" r="1.4" fill="#505050"/>
<circle cx="200" cy="363" r="2.4" fill="#505050"/>
<circle cx="212" cy="378" r="1.8" fill="#505050"/>
<circle cx="222" cy="379" r="2.2" fill="#505050"/>
<circle cx="228" cy="378" r="2" fill="#505050"/>
<circle cx="229" cy="361" r="2.4" fill="none" stroke="#eee" stroke-width="1"/>
</g></g>
<rect x="185.1" y="427.5" width="19" height="2.2" fill="#000"/>
<text x="12.8" y="470.6" font-size="15.6" fill="#222" stroke="#222" stroke-width="0.22">(b)</text>
<line x1="61.5" y1="488.7" x2="61.5" y2="613.8" stroke="#999" stroke-width="1.2"/>
<line x1="61.5" y1="613.8" x2="234.3" y2="613.8" stroke="#a4a4a4" stroke-width="1.1"/>
<line x1="59.5" y1="613.8" x2="61.6" y2="613.8" stroke="#777" stroke-width="0.8"/>
<text x="58.4" y="618.8" font-size="10.2" fill="#222" text-anchor="end" stroke="#222" stroke-width="0.22">0</text>
<line x1="59.5" y1="589.0" x2="61.6" y2="589.0" stroke="#777" stroke-width="0.8"/>
<text x="58.4" y="594.0" font-size="10.2" fill="#222" text-anchor="end" stroke="#222" stroke-width="0.22">50</text>
<line x1="59.5" y1="564.2" x2="61.6" y2="564.2" stroke="#777" stroke-width="0.8"/>
<text x="58.4" y="569.2" font-size="10.2" fill="#222" text-anchor="end" stroke="#222" stroke-width="0.22">100</text>
<line x1="59.5" y1="539.3" x2="61.6" y2="539.3" stroke="#777" stroke-width="0.8"/>
<text x="58.4" y="544.3" font-size="10.2" fill="#222" text-anchor="end" stroke="#222" stroke-width="0.22">150</text>
<line x1="59.5" y1="514.5" x2="61.6" y2="514.5" stroke="#777" stroke-width="0.8"/>
<text x="58.4" y="519.5" font-size="10.2" fill="#222" text-anchor="end" stroke="#222" stroke-width="0.22">200</text>
<line x1="59.5" y1="489.7" x2="61.6" y2="489.7" stroke="#777" stroke-width="0.8"/>
<text x="58.4" y="494.7" font-size="10.2" fill="#222" text-anchor="end" stroke="#222" stroke-width="0.22">250</text>
<text transform="translate(28.9,549.7) rotate(-90)" font-size="9.85" fill="#222" stroke="#222" stroke-width="0.22" text-anchor="middle" dominant-baseline="central">Live Cells Number (x10000)</text>
<rect x="80.20" y="512.0" width="10.35" height="101.8" fill="#0b0b0b"/>
<line x1="85.4" y1="512.0" x2="85.4" y2="499.1" stroke="#888" stroke-width="0.9"/>
<line x1="83.4" y1="499.1" x2="87.4" y2="499.1" stroke="#888" stroke-width="0.9"/>
<rect x="90.55" y="531.4" width="10.35" height="82.4" fill="#c3c3c3"/>
<line x1="95.7" y1="531.4" x2="95.7" y2="523.2" stroke="#888" stroke-width="0.9"/>
<line x1="93.7" y1="523.2" x2="97.7" y2="523.2" stroke="#888" stroke-width="0.9"/>
<rect x="100.90" y="519.0" width="10.35" height="94.8" fill="#606060"/>
<line x1="106.1" y1="519.0" x2="106.1" y2="510.5" stroke="#888" stroke-width="0.9"/>
<line x1="104.1" y1="510.5" x2="108.1" y2="510.5" stroke="#888" stroke-width="0.9"/>
<rect x="132.60" y="561.9" width="10.35" height="51.9" fill="#0b0b0b"/>
<line x1="137.8" y1="561.9" x2="137.8" y2="554.7" stroke="#888" stroke-width="0.9"/>
<line x1="135.8" y1="554.7" x2="139.8" y2="554.7" stroke="#888" stroke-width="0.9"/>
<rect x="142.95" y="572.7" width="10.35" height="41.1" fill="#c3c3c3"/>
<line x1="148.1" y1="572.7" x2="148.1" y2="567.1" stroke="#888" stroke-width="0.9"/>
<line x1="146.1" y1="567.1" x2="150.1" y2="567.1" stroke="#888" stroke-width="0.9"/>
<rect x="153.30" y="569.8" width="10.35" height="44.0" fill="#606060"/>
<line x1="158.5" y1="569.8" x2="158.5" y2="564.2" stroke="#888" stroke-width="0.9"/>
<line x1="156.5" y1="564.2" x2="160.5" y2="564.2" stroke="#888" stroke-width="0.9"/>
<rect x="184.70" y="552.2" width="10.35" height="61.6" fill="#0b0b0b"/>
<line x1="189.9" y1="552.2" x2="189.9" y2="543.3" stroke="#888" stroke-width="0.9"/>
<line x1="187.9" y1="543.3" x2="191.9" y2="543.3" stroke="#888" stroke-width="0.9"/>
<rect x="195.05" y="582.7" width="10.35" height="31.1" fill="#c3c3c3"/>
<line x1="200.2" y1="582.7" x2="200.2" y2="579.1" stroke="#888" stroke-width="0.9"/>
<line x1="198.2" y1="579.1" x2="202.2" y2="579.1" stroke="#888" stroke-width="0.9"/>
<rect x="205.40" y="557.7" width="10.35" height="56.1" fill="#606060"/>
<line x1="210.6" y1="557.7" x2="210.6" y2="549.8" stroke="#888" stroke-width="0.9"/>
<line x1="208.6" y1="549.8" x2="212.6" y2="549.8" stroke="#888" stroke-width="0.9"/>
<text x="98.8" y="630.9" font-size="10" fill="#222" text-anchor="middle" stroke="#222" stroke-width="0.22">Control</text>
<text x="153.6" y="630.9" font-size="10" fill="#222" text-anchor="middle" stroke="#222" stroke-width="0.22">Paclitaxel</text>
<text x="205.5" y="630.9" font-size="10.2" fill="#222" text-anchor="middle" stroke="#222" stroke-width="0.22">Doxorubicin</text>
<rect x="163.6" y="450" width="13.4" height="6.8" fill="#0b0b0b"/>
<text x="182.8" y="456.9" font-size="10" fill="#222" stroke="#222" stroke-width="0.22">Flat</text>
<rect x="163.6" y="461.3" width="13.4" height="6.8" fill="#c3c3c3"/>
<text x="182.8" y="468.2" font-size="10" fill="#222" stroke="#222" stroke-width="0.22">Negative Imprint</text>
<rect x="163.6" y="472.5" width="13.4" height="6.8" fill="#606060"/>
<text x="182.8" y="479.4" font-size="10" fill="#222" stroke="#222" stroke-width="0.22">Positive Imprint</text>
<path d="M86.5,493.6 L86.5,491.1 L188.9,491.1 L188.9,493.6 M137.8,491.1 L137.8,493.6" fill="none" stroke="#c0c8d2" stroke-width="1.1"/>
<text x="112.2" y="492.7" font-size="8.6" fill="#2a2a2a" text-anchor="middle" font-weight="bold" stroke="#2a2a2a" stroke-width="0.22" letter-spacing="-0.3">**</text>
<text x="163.4" y="492.7" font-size="8.6" fill="#2a2a2a" text-anchor="middle" font-weight="bold" stroke="#2a2a2a" stroke-width="0.22" letter-spacing="-0.3">**</text>
<path d="M95.2,502.1 L95.2,499.6 L199.4,499.6 L199.4,502.1 M147.4,499.6 L147.4,502.1" fill="none" stroke="#c0c8d2" stroke-width="1.1"/>
<text x="121.3" y="501.2" font-size="8.6" fill="#2a2a2a" text-anchor="middle" font-weight="bold" stroke="#2a2a2a" stroke-width="0.22" letter-spacing="-0.3">**</text>
<text x="173.4" y="501.2" font-size="8.6" fill="#2a2a2a" text-anchor="middle" font-weight="bold" stroke="#2a2a2a" stroke-width="0.22" letter-spacing="-0.3">**</text>
<path d="M106.0,509.0 L106.0,506.5 L209.7,506.5 L209.7,509.0 M158.6,506.5 L158.6,509.0" fill="none" stroke="#c0c8d2" stroke-width="1.1"/>
<text x="132.3" y="508.1" font-size="8.6" fill="#2a2a2a" text-anchor="middle" font-weight="bold" stroke="#2a2a2a" stroke-width="0.22" letter-spacing="-0.3">**</text>
<text x="184.1" y="508.1" font-size="8.6" fill="#2a2a2a" text-anchor="middle" font-weight="bold" stroke="#2a2a2a" stroke-width="0.22" letter-spacing="-0.3">**</text>
<path d="M190,540.5 L190,538.6 L209.5,538.6 L209.5,540.5 M200,538.6 L200,540.5" fill="none" stroke="#c0c8d2" stroke-width="1.1"/>
<text x="194.5" y="540.0" font-size="8.6" fill="#2a2a2a" text-anchor="middle" font-weight="bold" stroke="#2a2a2a" stroke-width="0.22" letter-spacing="-0.3">**</text>
<text x="204.6" y="540.0" font-size="8.6" fill="#2a2a2a" text-anchor="middle" font-weight="bold" stroke="#2a2a2a" stroke-width="0.22">*</text>
<text x="276.0" y="245.2" font-size="16.3" fill="#111" font-weight="bold" stroke="#111" stroke-width="0.55">C</text>
<text x="285.9" y="264.4" font-size="15.6" fill="#222" stroke="#222" stroke-width="0.22">(a)</text>
<text x="373.4" y="264.0" font-size="10" fill="#1a1a1a" text-anchor="middle" stroke="#1a1a1a" stroke-width="0.3">Day 2</text>
<text x="465.5" y="264.0" font-size="10" fill="#1a1a1a" text-anchor="middle" stroke="#1a1a1a" stroke-width="0.3">Day 20</text>
<g clip-path="url(#cTL)"><g filter="url(#soft)">
<rect x="325.3" y="270.2" width="91.6" height="78.6" fill="#747474"/>
<rect x="325.3" y="270.2" width="91.6" height="78.6" fill="#000" filter="url(#semN)" opacity="0.45"/>
<path d="M370.5,303.0 Q376.9,347.1 383.8,391.1" fill="none" stroke="#9c9c9c" stroke-width="1.0"/>
<path d="M325.0,290.0 Q382.4,305.7 419.6,352.0" fill="none" stroke="#9c9c9c" stroke-width="0.9"/>
<path d="M374.7,318.5 Q399.4,337.4 430.4,334.8" fill="none" stroke="#9c9c9c" stroke-width="1.2"/>
<path d="M395.9,254.3 Q382.3,278.9 369.8,304.0" fill="none" stroke="#9c9c9c" stroke-width="0.8"/>
<path d="M308.1,242.8 Q346.1,266.1 381.7,292.9" fill="none" stroke="#9c9c9c" stroke-width="1.1"/>
<path d="M388.5,257.8 Q387.1,309.6 382.2,361.1" fill="none" stroke="#9c9c9c" stroke-width="0.9"/>
<path d="M474.9,339.2 Q421.5,347.5 368.0,340.0" fill="none" stroke="#9c9c9c" stroke-width="0.9"/>
<path d="M301.5,299.9 Q318.2,340.3 353.4,366.3" fill="none" stroke="#9c9c9c" stroke-width="1.0"/>
<path d="M441.2,260.6 Q404.9,253.8 371.5,269.9" fill="none" stroke="#9c9c9c" stroke-width="1.0"/>
<path d="M411.1,268.6 Q360.0,260.4 310.2,274.8" fill="none" stroke="#9c9c9c" stroke-width="0.9"/>
<path d="M300.9,335.7 Q358.7,334.4 407.3,365.6" fill="none" stroke="#9c9c9c" stroke-width="0.9"/>
<path d="M294.1,325.2 Q325.9,337.3 358.7,346.4" fill="none" stroke="#9c9c9c" stroke-width="1.0"/>
<path d="M352.5,248.0 Q403.5,263.9 436.8,305.6" fill="none" stroke="#9c9c9c" stroke-width="1.0"/>
<path d="M303.1,315.9 Q353.2,344.2 392.4,386.5" fill="none" stroke="#9c9c9c" stroke-width="1.2"/>
<path d="M320.1,309.6 Q370.4,328.0 400.6,372.2" fill="none" stroke="#9c9c9c" stroke-width="1.2"/>
<path d="M315.6,309.1 Q350.5,328.6 377.5,358.2" fill="none" stroke="#9c9c9c" stroke-width="0.8"/>
<path d="M332.0,272.9 Q380.9,281.9 427.0,300.6" fill="none" stroke="#9c9c9c" stroke-width="1.0"/>
<path d="M428.2,308.5 Q371.4,331.0 310.7,323.7" fill="none" stroke="#9c9c9c" stroke-width="0.9"/>
<path d="M436.4,277.5 Q401.5,281.0 370.4,297.1" fill="none" stroke="#9c9c9c" stroke-width="1.2"/>
<path d="M376.4,314.6 Q418.6,340.8 457.3,372.1" fill="none" stroke="#9c9c9c" stroke-width="0.8"/>
<path d="M365.2,279.9 Q419.4,276.0 471.0,292.8" fill="none" stroke="#9c9c9c" stroke-width="1.1"/>
<path d="M366.2,229.3 Q367.9,286.3 334.0,332.2" fill="none" stroke="#9c9c9c" stroke-width="0.9"/>
<path d="M413.9,282.5 Q394.5,317.3 399.9,356.7" fill="none" stroke="#9c9c9c" stroke-width="0.9"/>
<path d="M318.0,303.1 Q348.1,297.0 377.3,306.2" fill="none" stroke="#9c9c9c" stroke-width="0.9"/>
<path d="M347.2,238.7 Q311.1,292.1 320.2,355.9" fill="none" stroke="#9c9c9c" stroke-width="1.1"/>
<path d="M395.9,253.9 Q388.8,283.9 363.4,301.4" fill="none" stroke="#9c9c9c" stroke-width="1.2"/>
<path d="M448.1,226.1 Q418.7,267.5 388.1,308.1" fill="none" stroke="#9c9c9c" stroke-width="1.1"/>
<path d="M396.3,231.9 Q414.2,276.7 447.4,311.9" fill="none" stroke="#9c9c9c" stroke-width="1.2"/>
<path d="M433.1,290.6 Q397.1,340.4 350.4,380.3" fill="none" stroke="#9c9c9c" stroke-width="1.1"/>
<path d="M462.5,284.9 Q403.8,286.5 355.1,319.5" fill="none" stroke="#9c9c9c" stroke-width="1.0"/>
<path d="M378.2,270.8 Q374.6,323.2 340.1,362.8" fill="none" stroke="#9c9c9c" stroke-width="1.1"/>
<path d="M451.4,328.8 Q409.5,321.9 368.0,330.6" fill="none" stroke="#9c9c9c" stroke-width="1.0"/>
<path d="M395.3,218.6 Q425.8,268.8 415.7,326.6" fill="none" stroke="#9c9c9c" stroke-width="1.0"/>
<path d="M341.0,281.5 Q339.5,327.3 346.4,372.7" fill="none" stroke="#9c9c9c" stroke-width="1.2"/>
<path d="M285.1,254.2 Q330.4,283.2 357.8,329.5" fill="none" stroke="#9c9c9c" stroke-width="0.9"/>
<path d="M444.9,286.8 Q389.8,312.3 329.8,321.9" fill="none" stroke="#9c9c9c" stroke-width="1.1"/>
<path d="M314.6,301.0 Q353.2,351.7 413.6,372.2" fill="none" stroke="#9c9c9c" stroke-width="1.0"/>
<path d="M364.2,233.1 Q340.6,274.1 340.7,321.4" fill="none" stroke="#9c9c9c" stroke-width="1.1"/>
<path d="M437.6,263.2 Q417.9,290.5 396.1,316.3" fill="none" stroke="#9c9c9c" stroke-width="0.9"/>
<path d="M326.7,292.2 Q366.6,315.4 398.0,349.0" fill="none" stroke="#9c9c9c" stroke-width="1.1"/>
<path d="M394.9,270.2 Q365.8,263.3 337.7,273.4" fill="none" stroke="#9c9c9c" stroke-width="0.8"/>
<path d="M412.7,247.8 Q395.5,305.8 343.8,337.4" fill="none" stroke="#9c9c9c" stroke-width="0.9"/>
<path d="M317.7,302.9 Q333.1,337.2 327.9,374.5" fill="none" stroke="#9c9c9c" stroke-width="0.8"/>
<path d="M386.0,273.7 Q354.0,316.0 345.3,368.3" fill="none" stroke="#9c9c9c" stroke-width="1.2"/>
<path d="M359.2,278.8 Q351.7,314.6 321.9,335.8" fill="none" stroke="#9c9c9c" stroke-width="1.0"/>
<path d="M384.5,291.6 Q398.6,323.3 389.7,356.8" fill="none" stroke="#606060" stroke-width="2.3"/>
<path d="M384.5,291.6 Q398.6,323.3 389.7,356.8" fill="none" stroke="#bdbdbd" stroke-width="1.2"/>
<path d="M370.4,288.8 Q401.1,327.7 434.9,363.9" fill="none" stroke="#606060" stroke-width="2.5"/>
<path d="M370.4,288.8 Q401.1,327.7 434.9,363.9" fill="none" stroke="#bdbdbd" stroke-width="1.3"/>
<path d="M310.5,252.8 Q373.5,262.3 419.5,306.3" fill="none" stroke="#606060" stroke-width="2.7"/>
<path d="M310.5,252.8 Q373.5,262.3 419.5,306.3" fill="none" stroke="#bdbdbd" stroke-width="1.4"/>
<path d="M348.9,285.2 Q387.7,305.2 431.2,304.9" fill="none" stroke="#606060" stroke-width="1.9"/>
<path d="M348.9,285.2 Q387.7,305.2 431.2,304.9" fill="none" stroke="#bdbdbd" stroke-width="1.0"/>
<path d="M383.0,304.4 Q411.2,320.9 443.5,316.1" fill="none" stroke="#606060" stroke-width="2.8"/>
<path d="M383.0,304.4 Q411.2,320.9 443.5,316.1" fill="none" stroke="#bdbdbd" stroke-width="1.5"/>
<path d="M326.8,263.7 Q362.1,280.4 399.8,290.6" fill="none" stroke="#606060" stroke-width="2.1"/>
<path d="M326.8,263.7 Q362.1,280.4 399.8,290.6" fill="none" stroke="#bdbdbd" stroke-width="1.1"/>
<path d="M358.8,233.6 Q328.9,282.8 292.3,327.1" fill="none" stroke="#606060" stroke-width="2.3"/>
<path d="M358.8,233.6 Q328.9,282.8 292.3,327.1" fill="none" stroke="#bdbdbd" stroke-width="1.2"/>
<path d="M377.2,272.0 Q364.3,297.9 360.2,326.6" fill="none" stroke="#606060" stroke-width="2.8"/>
<path d="M377.2,272.0 Q364.3,297.9 360.2,326.6" fill="none" stroke="#bdbdbd" stroke-width="1.5"/>
<path d="M428.4,293.7 Q387.3,291.2 347.0,299.8" fill="none" stroke="#606060" stroke-width="2.5"/>
<path d="M428.4,293.7 Q387.3,291.2 347.0,299.8" fill="none" stroke="#bdbdbd" stroke-width="1.3"/>
<path d="M300.9,281.2 Q340.6,307.1 387.5,313.6" fill="none" stroke="#606060" stroke-width="2.4"/>
<path d="M300.9,281.2 Q340.6,307.1 387.5,313.6" fill="none" stroke="#bdbdbd" stroke-width="1.3"/>
<path d="M357.6,299.2 Q404.7,294.0 450.2,307.4" fill="none" stroke="#606060" stroke-width="2.3"/>
<path d="M357.6,299.2 Q404.7,294.0 450.2,307.4" fill="none" stroke="#bdbdbd" stroke-width="1.2"/>
<path d="M382.3,229.6 Q409.1,270.5 415.1,319.0" fill="none" stroke="#606060" stroke-width="2.6"/>
<path d="M382.3,229.6 Q409.1,270.5 415.1,319.0" fill="none" stroke="#bdbdbd" stroke-width="1.3"/>
<path d="M297.9,289.8 Q350.3,279.4 398.9,301.6" fill="none" stroke="#606060" stroke-width="2.3"/>
<path d="M297.9,289.8 Q350.3,279.4 398.9,301.6" fill="none" stroke="#bdbdbd" stroke-width="1.2"/>
<path d="M299.3,269.2 Q349.5,306.7 398.6,345.6" fill="none" stroke="#606060" stroke-width="2.8"/>
<path d="M299.3,269.2 Q349.5,306.7 398.6,345.6" fill="none" stroke="#bdbdbd" stroke-width="1.5"/>
<path d="M384.4,280.2 Q411.1,302.8 444.0,314.8" fill="none" stroke="#606060" stroke-width="2.8"/>
<path d="M384.4,280.2 Q411.1,302.8 444.0,314.8" fill="none" stroke="#bdbdbd" stroke-width="1.5"/>
<path d="M307.6,332.6 Q347.7,326.0 387.5,334.3" fill="none" stroke="#606060" stroke-width="1.9"/>
<path d="M307.6,332.6 Q347.7,326.0 387.5,334.3" fill="none" stroke="#bdbdbd" stroke-width="1.0"/>
<path d="M319.6,344.3 Q383.2,352.5 446.8,360.4" fill="none" stroke="#606060" stroke-width="1.9"/>
<path d="M319.6,344.3 Q383.2,352.5 446.8,360.4" fill="none" stroke="#bdbdbd" stroke-width="1.0"/>
<path d="M373.4,295.7 Q408.7,333.7 427.2,382.1" fill="none" stroke="#606060" stroke-width="2.4"/>
<path d="M373.4,295.7 Q408.7,333.7 427.2,382.1" fill="none" stroke="#bdbdbd" stroke-width="1.3"/>
<path d="M379.6,226.5 Q366.4,289.7 388.4,350.5" fill="none" stroke="#606060" stroke-width="2.1"/>
<path d="M379.6,226.5 Q366.4,289.7 388.4,350.5" fill="none" stroke="#bdbdbd" stroke-width="1.1"/>
<path d="M371.2,240.7 Q408.5,290.3 446.8,339.1" fill="none" stroke="#606060" stroke-width="2.6"/>
<path d="M371.2,240.7 Q408.5,290.3 446.8,339.1" fill="none" stroke="#bdbdbd" stroke-width="1.3"/>
<path d="M364.1,261.0 Q338.2,287.5 320.0,319.9" fill="none" stroke="#606060" stroke-width="2.6"/>
<path d="M364.1,261.0 Q338.2,287.5 320.0,319.9" fill="none" stroke="#bdbdbd" stroke-width="1.3"/>
<path d="M377.1,287.8 Q411.0,300.9 443.6,317.0" fill="none" stroke="#606060" stroke-width="2.8"/>
<path d="M377.1,287.8 Q411.0,300.9 443.6,317.0" fill="none" stroke="#bdbdbd" stroke-width="1.5"/>
<path d="M395.5,285.1 Q372.2,344.5 372.0,408.3" fill="none" stroke="#606060" stroke-width="2.3"/>
<path d="M395.5,285.1 Q372.2,344.5 372.0,408.3" fill="none" stroke="#bdbdbd" stroke-width="1.2"/>
<path d="M425.2,288.3 Q417.0,336.6 398.5,382.0" fill="none" stroke="#606060" stroke-width="2.3"/>
<path d="M425.2,288.3 Q417.0,336.6 398.5,382.0" fill="none" stroke="#bdbdbd" stroke-width="1.2"/>
<path d="M413.6,227.2 Q366.1,256.2 341.4,306.2" fill="none" stroke="#606060" stroke-width="2.7"/>
<path d="M413.6,227.2 Q366.1,256.2 341.4,306.2" fill="none" stroke="#bdbdbd" stroke-width="1.4"/>
<path d="M466.3,294.7 Q414.4,317.2 359.3,330.4" fill="none" stroke="#606060" stroke-width="2.0"/>
<path d="M466.3,294.7 Q414.4,317.2 359.3,330.4" fill="none" stroke="#bdbdbd" stroke-width="1.0"/>
<path d="M328.5,300.7 Q350.6,348.7 375.5,395.2" fill="none" stroke="#606060" stroke-width="2.5"/>
<path d="M328.5,300.7 Q350.6,348.7 375.5,395.2" fill="none" stroke="#bdbdbd" stroke-width="1.3"/>
<path d="M335.8,311.3 Q377.5,320.2 413.3,343.3" fill="none" stroke="#606060" stroke-width="2.3"/>
<path d="M335.8,311.3 Q377.5,320.2 413.3,343.3" fill="none" stroke="#bdbdbd" stroke-width="1.2"/>
<path d="M373.7,251.6 Q393.5,275.6 406.1,304.0" fill="none" stroke="#606060" stroke-width="2.6"/>
<path d="M373.7,251.6 Q393.5,275.6 406.1,304.0" fill="none" stroke="#bdbdbd" stroke-width="1.3"/>
<path d="M417.1,320.0 Q396.8,358.1 357.5,376.0" fill="none" stroke="#606060" stroke-width="2.4"/>
<path d="M417.1,320.0 Q396.8,358.1 357.5,376.0" fill="none" stroke="#bdbdbd" stroke-width="1.2"/>
<path d="M331.5,285.0 Q345.9,323.0 345.6,363.7" fill="none" stroke="#606060" stroke-width="2.2"/>
<path d="M331.5,285.0 Q345.9,323.0 345.6,363.7" fill="none" stroke="#bdbdbd" stroke-width="1.2"/>
<path d="M358.2,290.5 Q322.5,305.1 283.9,303.8" fill="none" stroke="#606060" stroke-width="2.3"/>
<path d="M358.2,290.5 Q322.5,305.1 283.9,303.8" fill="none" stroke="#bdbdbd" stroke-width="1.2"/>
<path d="M372.8,275.7 Q421.9,299.7 454.5,343.5" fill="none" stroke="#606060" stroke-width="2.3"/>
<path d="M372.8,275.7 Q421.9,299.7 454.5,343.5" fill="none" stroke="#bdbdbd" stroke-width="1.2"/>
<path d="M420.5,245.5 Q395.2,283.6 391.4,329.2" fill="none" stroke="#606060" stroke-width="2.7"/>
<path d="M420.5,245.5 Q395.2,283.6 391.4,329.2" fill="none" stroke="#bdbdbd" stroke-width="1.4"/>
<path d="M343.3,305.1 Q371.5,336.6 406.7,360.2" fill="none" stroke="#606060" stroke-width="2.5"/>
<path d="M343.3,305.1 Q371.5,336.6 406.7,360.2" fill="none" stroke="#bdbdbd" stroke-width="1.3"/>
<path d="M416.7,322.0 Q376.0,318.8 336.4,329.0" fill="none" stroke="#606060" stroke-width="2.2"/>
<path d="M416.7,322.0 Q376.0,318.8 336.4,329.0" fill="none" stroke="#bdbdbd" stroke-width="1.2"/>
<path d="M357.0,260.0 Q363.4,292.4 357.0,324.9" fill="none" stroke="#606060" stroke-width="2.4"/>
<path d="M357.0,260.0 Q363.4,292.4 357.0,324.9" fill="none" stroke="#bdbdbd" stroke-width="1.3"/>
<path d="M298.3,309.4 Q316.5,344.8 351.6,363.4" fill="none" stroke="#606060" stroke-width="2.5"/>
<path d="M298.3,309.4 Q316.5,344.8 351.6,363.4" fill="none" stroke="#bdbdbd" stroke-width="1.3"/>
<path d="M349.7,283.2 Q398.0,318.2 430.2,368.4" fill="none" stroke="#5a5a5a" stroke-width="2.7"/>
<path d="M349.7,283.2 Q398.0,318.2 430.2,368.4" fill="none" stroke="#dedede" stroke-width="1.4"/>
<path d="M314.3,315.8 Q342.9,330.8 372.0,344.6" fill="none" stroke="#5a5a5a" stroke-width="2.7"/>
<path d="M314.3,315.8 Q342.9,330.8 372.0,344.6" fill="none" stroke="#dedede" stroke-width="1.4"/>
<path d="M334.2,299.6 Q375.7,330.7 394.1,379.2" fill="none" stroke="#5a5a5a" stroke-width="2.8"/>
<path d="M334.2,299.6 Q375.7,330.7 394.1,379.2" fill="none" stroke="#dedede" stroke-width="1.5"/>
<path d="M357.8,311.6 Q403.9,346.9 459.9,362.3" fill="none" stroke="#5a5a5a" stroke-width="3.3"/>
<path d="M357.8,311.6 Q403.9,346.9 459.9,362.3" fill="none" stroke="#dedede" stroke-width="1.7"/>
<path d="M458.8,278.7 Q401.0,288.4 343.1,297.2" fill="none" stroke="#5a5a5a" stroke-width="3.3"/>
<path d="M458.8,278.7 Q401.0,288.4 343.1,297.2" fill="none" stroke="#dedede" stroke-width="1.8"/>
<path d="M372.6,255.1 Q368.7,298.4 355.3,339.8" fill="none" stroke="#5a5a5a" stroke-width="2.6"/>
<path d="M372.6,255.1 Q368.7,298.4 355.3,339.8" fill="none" stroke="#dedede" stroke-width="1.4"/>
<path d="M445.9,324.2 Q400.5,351.1 356.9,380.9" fill="none" stroke="#5a5a5a" stroke-width="3.3"/>
<path d="M445.9,324.2 Q400.5,351.1 356.9,380.9" fill="none" stroke="#dedede" stroke-width="1.7"/>
<path d="M358.1,290.5 Q391.6,299.0 420.0,318.4" fill="none" stroke="#5a5a5a" stroke-width="3.1"/>
<path d="M358.1,290.5 Q391.6,299.0 420.0,318.4" fill="none" stroke="#dedede" stroke-width="1.6"/>
<path d="M337.6,288.9 Q373.6,312.3 396.4,348.8" fill="none" stroke="#5a5a5a" stroke-width="3.0"/>
<path d="M337.6,288.9 Q373.6,312.3 396.4,348.8" fill="none" stroke="#dedede" stroke-width="1.6"/>
<path d="M314.0,254.9 Q351.3,274.7 374.5,310.0" fill="none" stroke="#5a5a5a" stroke-width="3.2"/>
<path d="M314.0,254.9 Q351.3,274.7 374.5,310.0" fill="none" stroke="#dedede" stroke-width="1.7"/>
<path d="M420.9,319.9 Q362.3,345.6 298.9,337.8" fill="none" stroke="#5a5a5a" stroke-width="2.6"/>
<path d="M420.9,319.9 Q362.3,345.6 298.9,337.8" fill="none" stroke="#dedede" stroke-width="1.4"/>
<path d="M432.8,302.7 Q406.4,323.2 378.1,340.9" fill="none" stroke="#5a5a5a" stroke-width="3.5"/>
<path d="M432.8,302.7 Q406.4,323.2 378.1,340.9" fill="none" stroke="#dedede" stroke-width="1.8"/>
<path d="M456.9,262.6 Q403.4,287.3 346.9,303.8" fill="none" stroke="#5a5a5a" stroke-width="3.3"/>
<path d="M456.9,262.6 Q403.4,287.3 346.9,303.8" fill="none" stroke="#dedede" stroke-width="1.7"/>
<path d="M369.9,296.2 Q422.9,310.2 468.0,341.2" fill="none" stroke="#5a5a5a" stroke-width="3.2"/>
<path d="M369.9,296.2 Q422.9,310.2 468.0,341.2" fill="none" stroke="#dedede" stroke-width="1.7"/>
<path d="M394.0,244.6 Q385.4,298.3 366.8,349.4" fill="none" stroke="#5a5a5a" stroke-width="2.8"/>
<path d="M394.0,244.6 Q385.4,298.3 366.8,349.4" fill="none" stroke="#dedede" stroke-width="1.5"/>
<path d="M358.7,257.5 Q394.4,267.1 420.9,292.8" fill="none" stroke="#5a5a5a" stroke-width="3.2"/>
<path d="M358.7,257.5 Q394.4,267.1 420.9,292.8" fill="none" stroke="#dedede" stroke-width="1.7"/>
<path d="M383.2,225.7 Q379.5,269.4 367.9,311.6" fill="none" stroke="#5a5a5a" stroke-width="2.6"/>
<path d="M383.2,225.7 Q379.5,269.4 367.9,311.6" fill="none" stroke="#dedede" stroke-width="1.4"/>
<path d="M383.2,275.6 Q421.7,270.6 460.2,276.3" fill="none" stroke="#5a5a5a" stroke-width="3.2"/>
<path d="M383.2,275.6 Q421.7,270.6 460.2,276.3" fill="none" stroke="#dedede" stroke-width="1.7"/>
<path d="M311.7,283.7 Q372.2,281.0 424.4,311.7" fill="none" stroke="#5a5a5a" stroke-width="2.9"/>
<path d="M311.7,283.7 Q372.2,281.0 424.4,311.7" fill="none" stroke="#dedede" stroke-width="1.5"/>
<path d="M418.3,266.1 Q414.3,311.0 419.3,355.8" fill="none" stroke="#5a5a5a" stroke-width="2.8"/>
<path d="M418.3,266.1 Q414.3,311.0 419.3,355.8" fill="none" stroke="#dedede" stroke-width="1.5"/>
<path d="M317.0,340.4 Q372.0,338.0 425.5,351.3" fill="none" stroke="#5a5a5a" stroke-width="3.2"/>
<path d="M317.0,340.4 Q372.0,338.0 425.5,351.3" fill="none" stroke="#dedede" stroke-width="1.7"/>
<path d="M382.6,298.8 Q349.4,322.8 310.5,335.8" fill="none" stroke="#5a5a5a" stroke-width="2.8"/>
<path d="M382.6,298.8 Q349.4,322.8 310.5,335.8" fill="none" stroke="#dedede" stroke-width="1.5"/>
<path d="M322.2,243.5 Q362.2,260.2 389.7,293.7" fill="none" stroke="#5a5a5a" stroke-width="3.3"/>
<path d="M322.2,243.5 Q362.2,260.2 389.7,293.7" fill="none" stroke="#dedede" stroke-width="1.8"/>
<path d="M331.3,301.0 Q321.1,333.9 310.1,366.5" fill="none" stroke="#5a5a5a" stroke-width="3.1"/>
<path d="M331.3,301.0 Q321.1,333.9 310.1,366.5" fill="none" stroke="#dedede" stroke-width="1.6"/>
<path d="M333.4,275.6 Q343.6,307.3 366.0,331.9" fill="none" stroke="#5a5a5a" stroke-width="2.6"/>
<path d="M333.4,275.6 Q343.6,307.3 366.0,331.9" fill="none" stroke="#dedede" stroke-width="1.4"/>
<path d="M377.9,270.1 Q348.6,302.0 307.0,314.0" fill="none" stroke="#5a5a5a" stroke-width="2.6"/>
<path d="M377.9,270.1 Q348.6,302.0 307.0,314.0" fill="none" stroke="#dedede" stroke-width="1.4"/>
<path d="M338.2,285.1 Q381.0,335.5 392.2,400.6" fill="none" stroke="#5a5a5a" stroke-width="3.1"/>
<path d="M338.2,285.1 Q381.0,335.5 392.2,400.6" fill="none" stroke="#dedede" stroke-width="1.6"/>
<path d="M346.7,270.0 Q401.3,295.3 457.2,317.6" fill="none" stroke="#5a5a5a" stroke-width="2.6"/>
<path d="M346.7,270.0 Q401.3,295.3 457.2,317.6" fill="none" stroke="#dedede" stroke-width="1.4"/>
<path d="M312.5,341.6 Q345.5,341.7 378.5,342.6" fill="none" stroke="#5a5a5a" stroke-width="2.9"/>
<path d="M312.5,341.6 Q345.5,341.7 378.5,342.6" fill="none" stroke="#dedede" stroke-width="1.5"/>
<path d="M376.6,236.6 Q397.0,286.7 426.9,331.7" fill="none" stroke="#5a5a5a" stroke-width="3.5"/>
<path d="M376.6,236.6 Q397.0,286.7 426.9,331.7" fill="none" stroke="#dedede" stroke-width="1.9"/>
</g></g>
<g clip-path="url(#cTR)"><g filter="url(#soft)">
<rect x="419.8" y="270.2" width="91.8" height="78.6" fill="#5e5e5e"/>
<rect x="419.8" y="270.2" width="91.8" height="78.6" fill="#000" filter="url(#semN)" opacity="0.4"/>
<path d="M438.5,277.5 L439.3,278.6 L440.1,279.8 L440.9,280.9 L441.5,282.2 L442.1,283.5 L442.5,284.8 L442.9,286.2 L443.2,287.5 L443.5,288.9 L443.8,290.2 L444.0,291.6 L444.0,293.0 L444.0,294.4 L443.9,295.8 L443.7,297.2 L443.6,298.6 L443.4,300.0 L443.3,301.4 L443.3,302.8 L443.3,304.2 L443.2,305.6 L443.2,307.0 L443.0,308.4 L442.7,309.8 L442.3,311.1 L441.7,312.3 L441.0,313.5 L440.2,314.7 L439.4,315.8 L438.6,317.0 L437.7,318.1 L436.9,319.2 L436.0,320.3 L435.1,321.4 L434.1,322.4 L433.0,323.3 L431.9,324.2 L430.8,325.0 L429.6,325.6 L428.3,326.2 L427.0,326.7 L425.6,327.0 L424.2,327.1 L422.8,326.9 L421.5,326.5 L420.3,325.8 L419.2,324.9 L418.3,323.8" fill="none" stroke="#9a9a9a" stroke-width="1.3" stroke-linecap="round" stroke-linejoin="round"/>
<path d="M480.3,316.3 L479.1,315.7 L477.8,315.2 L476.4,314.8 L475.1,314.4 L473.7,314.1 L472.3,313.9 L470.9,313.9 L469.5,314.0 L468.2,314.3 L466.8,314.8 L465.6,315.4 L464.4,316.2 L463.5,317.2 L462.7,318.4 L462.2,319.7 L462.0,321.1 L462.1,322.5 L462.5,323.8 L463.1,325.1 L464.1,326.1 L465.2,326.8 L466.6,327.2 L468.0,327.2 L469.3,326.7 L470.4,325.9 L471.4,324.8 L472.0,323.6 L472.4,322.2 L472.5,320.8 L472.2,319.5 L471.6,318.2 L470.7,317.1 L469.5,316.3 L468.2,315.9 L466.8,315.9 L465.4,316.4 L464.3,317.2 L463.6,318.4 L463.2,319.8 L463.4,321.1 L464.0,322.4 L465.0,323.4 L466.3,323.9 L467.7,324.0 L469.1,323.6 L470.2,322.8 L471.0,321.7 L471.5,320.4" fill="none" stroke="#9a9a9a" stroke-width="1.3" stroke-linecap="round" stroke-linejoin="round"/>
<path d="M478.0,298.1 L478.9,299.2 L479.6,300.4 L480.3,301.6 L481.0,302.9 L481.5,304.1 L482.0,305.4 L482.5,306.8 L482.9,308.1 L483.4,309.4 L483.7,310.8 L484.0,312.1 L484.2,313.5 L484.2,314.9 L484.1,316.3 L484.0,317.7 L483.8,319.1 L483.6,320.5 L483.2,321.9 L482.7,323.2 L482.1,324.4 L481.5,325.7 L480.8,326.9 L480.1,328.1 L479.4,329.3 L478.6,330.5 L477.8,331.6 L476.9,332.7 L476.0,333.8 L475.3,335.0 L474.5,336.1 L473.7,337.3 L473.0,338.5 L472.2,339.7 L471.5,340.9 L470.7,342.0 L469.9,343.2 L469.1,344.3 L468.4,345.5 L467.7,346.7 L467.0,348.0 L466.3,349.2 L465.7,350.4 L465.0,351.7 L464.3,352.9 L463.5,354.0 L462.5,355.0 L461.5,356.0 L460.3,356.7" fill="none" stroke="#9a9a9a" stroke-width="1.3" stroke-linecap="round" stroke-linejoin="round"/>
<path d="M461.2,340.0 L462.6,339.8 L464.0,339.7 L465.4,339.6 L466.8,339.4 L468.2,339.1 L469.5,338.7 L470.8,338.2 L472.1,337.6 L473.4,337.1 L474.6,336.4 L475.8,335.6 L476.8,334.7 L477.8,333.7 L478.5,332.5 L479.1,331.2 L479.3,329.8 L479.2,328.4 L478.6,327.1 L477.7,326.1 L476.5,325.4 L475.2,325.0 L473.8,325.1 L472.4,325.5 L471.2,326.2 L470.2,327.2 L469.5,328.4 L469.0,329.7 L468.9,331.1 L469.0,332.5 L469.5,333.8 L470.1,335.1 L471.0,336.2 L472.0,337.1 L473.3,337.8 L474.6,338.1 L476.0,338.1 L477.4,338.0 L478.8,337.6 L480.1,337.2 L481.4,336.6 L482.6,335.9 L483.7,335.1 L484.7,334.1 L485.5,333.0 L486.1,331.7 L486.4,330.3 L486.5,328.9 L486.2,327.6" fill="none" stroke="#9a9a9a" stroke-width="1.3" stroke-linecap="round" stroke-linejoin="round"/>
<path d="M494.9,291.0 L496.3,291.0 L497.7,291.2 L499.0,291.6 L500.2,292.2 L501.3,293.1 L502.2,294.2 L502.9,295.4 L503.5,296.7 L503.9,298.1 L504.0,299.4 L504.0,300.8 L503.8,302.2 L503.4,303.6 L502.7,304.8 L501.7,305.8 L500.7,306.7 L499.5,307.4 L498.1,307.9 L496.7,308.1 L495.3,308.1 L494.0,307.8 L492.7,307.3 L491.4,306.6 L490.3,305.9 L489.2,305.0 L488.1,304.0 L487.2,303.0 L486.5,301.8 L486.0,300.5 L485.6,299.1 L485.4,297.7 L485.5,296.3 L485.8,295.0 L486.4,293.7 L487.3,292.6 L488.3,291.6 L489.4,290.9 L490.8,290.4 L492.1,290.2 L493.5,290.3 L494.8,290.9 L495.9,291.8 L496.5,293.1 L496.8,294.4 L496.7,295.8 L496.3,297.2 L495.6,298.4 L494.7,299.5" fill="none" stroke="#9a9a9a" stroke-width="1.3" stroke-linecap="round" stroke-linejoin="round"/>
<path d="M444.8,276.0 L445.8,275.0 L446.8,274.0 L447.8,273.0 L448.8,272.0 L449.8,271.1 L450.7,270.0 L451.6,269.0 L452.5,267.9 L453.3,266.7 L454.1,265.6 L454.7,264.3 L455.3,263.0 L455.7,261.7 L455.9,260.3 L455.9,258.9 L455.8,257.5 L455.6,256.1 L455.4,254.7 L455.1,253.4 L454.9,252.0 L454.7,250.6 L454.7,249.2 L454.8,247.8 L455.0,246.4 L455.3,245.1 L455.9,243.8 L456.8,242.7 L457.8,241.7 L458.9,240.9 L460.2,240.4 L461.6,240.2 L463.0,240.5 L464.2,241.3 L465.0,242.4 L465.5,243.7 L465.4,245.1 L464.9,246.4 L464.0,247.5 L462.8,248.2 L461.4,248.4 L460.0,248.1 L458.8,247.4 L458.0,246.3 L457.5,245.0 L457.5,243.6 L458.1,242.3 L458.9,241.2 L460.1,240.4" fill="none" stroke="#9a9a9a" stroke-width="1.3" stroke-linecap="round" stroke-linejoin="round"/>
<path d="M487.0,273.4 L486.8,272.0 L486.9,270.6 L487.4,269.3 L488.1,268.1 L489.0,267.0 L490.2,266.3 L491.5,265.7 L492.8,265.6 L494.2,265.8 L495.5,266.4 L496.6,267.2 L497.4,268.4 L497.8,269.7 L497.8,271.1 L497.4,272.5 L496.6,273.7 L495.6,274.7 L494.4,275.4 L493.2,276.0 L491.8,276.3 L490.4,276.4 L489.0,276.2 L487.6,275.9 L486.3,275.5 L485.1,274.8 L483.8,274.2 L482.6,273.4 L481.5,272.6 L480.4,271.8 L479.3,270.9 L478.3,269.9 L477.4,268.8 L476.6,267.7 L475.8,266.5 L474.9,265.4 L474.0,264.4 L473.0,263.4 L471.9,262.5 L470.8,261.7 L469.6,261.0 L468.3,260.5 L466.9,260.2 L465.5,260.2 L464.1,260.5 L462.8,260.9 L461.5,261.4 L460.2,262.0 L458.9,262.6" fill="none" stroke="#9a9a9a" stroke-width="1.3" stroke-linecap="round" stroke-linejoin="round"/>
<path d="M482.1,345.0 L482.0,346.4 L481.8,347.8 L481.3,349.1 L480.8,350.4 L480.2,351.7 L479.5,352.9 L478.6,354.0 L477.6,354.9 L476.5,355.8 L475.2,356.5 L473.9,356.9 L472.5,357.1 L471.1,357.1 L469.7,357.0 L468.4,356.7 L467.1,356.1 L465.9,355.3 L464.9,354.4 L464.0,353.3 L463.2,352.2 L462.4,351.0 L461.7,349.8 L461.1,348.5 L460.4,347.3 L459.6,346.2 L458.7,345.1 L457.9,344.0 L456.9,342.9 L456.0,341.9 L454.9,340.9 L453.9,340.1 L452.7,339.3 L451.5,338.6 L450.2,337.9 L449.0,337.3 L447.8,336.6 L446.7,335.8 L445.6,334.9 L444.5,334.0 L443.4,333.1 L442.4,332.1 L441.5,331.1 L440.7,329.9 L440.0,328.7 L439.7,327.3 L439.7,325.9 L440.1,324.6 L440.8,323.4" fill="none" stroke="#9a9a9a" stroke-width="1.3" stroke-linecap="round" stroke-linejoin="round"/>
<path d="M497.5,299.5 L498.3,300.7 L498.8,302.0 L499.0,303.4 L499.1,304.8 L499.1,306.2 L499.0,307.6 L499.0,309.0 L498.8,310.4 L498.7,311.7 L498.5,313.1 L498.4,314.5 L498.1,315.9 L497.8,317.3 L497.5,318.6 L497.1,320.0 L496.6,321.3 L496.0,322.6 L495.4,323.8 L494.6,325.0 L493.7,326.1 L492.8,327.1 L491.7,328.0 L490.5,328.8 L489.3,329.4 L488.0,330.0 L486.6,330.2 L485.2,330.2 L483.9,329.9 L482.6,329.2 L481.5,328.4 L480.7,327.2 L480.4,325.8 L480.5,324.5 L481.1,323.2 L482.1,322.2 L483.3,321.5 L484.7,321.3 L486.1,321.5 L487.3,322.1 L488.3,323.1 L489.0,324.3 L489.2,325.7 L489.0,327.1 L488.3,328.4 L487.4,329.3 L486.1,330.0 L484.7,330.3 L483.3,330.2" fill="none" stroke="#9a9a9a" stroke-width="1.3" stroke-linecap="round" stroke-linejoin="round"/>
<path d="M494.1,280.5 L493.8,281.9 L493.7,283.3 L493.6,284.7 L493.6,286.1 L493.5,287.5 L493.5,288.9 L493.3,290.3 L493.2,291.7 L493.0,293.1 L492.8,294.5 L492.6,295.8 L492.3,297.2 L491.9,298.5 L491.3,299.8 L490.6,301.0 L489.8,302.2 L489.0,303.4 L488.2,304.5 L487.3,305.6 L486.3,306.5 L485.3,307.5 L484.1,308.3 L482.9,309.0 L481.6,309.5 L480.2,309.7 L478.8,309.7 L477.5,309.3 L476.1,308.9 L474.9,308.3 L473.7,307.5 L472.6,306.6 L471.7,305.6 L470.8,304.4 L470.2,303.2 L469.9,301.8 L469.9,300.4 L470.2,299.1 L470.9,297.9 L472.0,297.0 L473.3,296.4 L474.7,296.4 L476.0,296.7 L477.2,297.4 L478.2,298.5 L478.7,299.8 L478.8,301.2 L478.4,302.5 L477.6,303.6" fill="none" stroke="#9a9a9a" stroke-width="1.3" stroke-linecap="round" stroke-linejoin="round"/>
<path d="M490.5,284.4 L491.7,283.8 L493.0,283.2 L494.2,282.5 L495.3,281.7 L496.4,280.8 L497.4,279.8 L498.2,278.7 L498.9,277.4 L499.3,276.1 L499.4,274.7 L499.4,273.3 L499.1,271.9 L498.7,270.6 L498.0,269.3 L497.2,268.2 L496.2,267.2 L495.1,266.4 L493.9,265.7 L492.6,265.2 L491.2,264.9 L489.8,264.8 L488.4,264.8 L487.0,264.8 L485.6,264.9 L484.2,264.9 L482.8,264.8 L481.4,264.5 L480.1,264.1 L478.8,263.6 L477.5,263.1 L476.2,262.5 L475.0,261.7 L473.8,260.9 L472.8,260.1 L471.7,259.2 L470.6,258.3 L469.5,257.4 L468.5,256.5 L467.6,255.4 L466.7,254.3 L465.9,253.2 L465.1,252.0 L464.2,250.9 L463.3,249.8 L462.4,248.8 L461.4,247.9 L460.3,247.0 L459.2,246.1" fill="none" stroke="#9a9a9a" stroke-width="1.3" stroke-linecap="round" stroke-linejoin="round"/>
<path d="M482.2,272.1 L482.7,270.8 L483.1,269.5 L483.4,268.1 L483.6,266.7 L483.5,265.3 L483.3,264.0 L482.8,262.7 L482.0,261.5 L481.1,260.5 L479.9,259.7 L478.6,259.1 L477.3,258.9 L475.9,259.0 L474.5,259.5 L473.3,260.2 L472.3,261.2 L471.5,262.3 L470.9,263.6 L470.6,264.9 L470.5,266.3 L470.7,267.7 L471.1,269.0 L471.8,270.3 L472.6,271.4 L473.6,272.4 L474.8,273.1 L476.1,273.5 L477.5,273.6 L478.9,273.3 L480.2,272.6 L481.3,271.8 L482.1,270.7 L482.6,269.4 L482.7,268.0 L482.5,266.6 L482.0,265.3 L481.3,264.1 L480.5,262.9 L479.5,261.9 L478.4,261.1 L477.2,260.3 L475.9,259.8 L474.6,259.4 L473.2,259.1 L471.8,259.0 L470.4,259.1 L469.0,259.3 L467.7,259.7" fill="none" stroke="#9a9a9a" stroke-width="1.3" stroke-linecap="round" stroke-linejoin="round"/>
<path d="M466.1,343.1 L464.7,343.1 L463.3,343.0 L462.0,342.6 L460.8,342.0 L459.6,341.1 L458.6,340.2 L457.7,339.1 L456.9,337.9 L456.4,336.7 L456.0,335.3 L456.0,333.9 L456.1,332.5 L456.5,331.2 L457.0,329.9 L457.8,328.7 L458.8,327.7 L459.9,326.9 L461.1,326.2 L462.4,325.7 L463.8,325.3 L465.2,325.0 L466.6,324.9 L468.0,324.9 L469.4,324.9 L470.7,325.2 L472.1,325.6 L473.3,326.3 L474.3,327.2 L475.2,328.3 L475.9,329.6 L476.4,330.9 L476.6,332.2 L476.8,333.6 L476.7,335.0 L476.4,336.4 L475.9,337.7 L475.2,338.9 L474.4,340.1 L473.5,341.1 L472.5,342.1 L471.4,342.9 L470.2,343.6 L468.9,344.2 L467.5,344.6 L466.2,344.9 L464.8,345.0 L463.4,345.0 L462.0,344.8" fill="none" stroke="#9a9a9a" stroke-width="1.3" stroke-linecap="round" stroke-linejoin="round"/>
<path d="M439.3,278.3 L440.6,278.8 L441.8,279.6 L442.9,280.5 L443.8,281.5 L444.5,282.7 L445.0,284.0 L445.2,285.4 L445.1,286.8 L444.8,288.2 L444.2,289.4 L443.4,290.6 L442.5,291.6 L441.3,292.5 L440.1,293.1 L438.7,293.4 L437.3,293.5 L435.9,293.3 L434.6,292.8 L433.4,292.1 L432.5,291.0 L431.9,289.7 L431.7,288.4 L431.9,287.0 L432.4,285.7 L433.1,284.5 L434.1,283.5 L435.3,282.7 L436.6,282.1 L437.9,281.7 L439.3,281.4 L440.7,281.4 L442.0,281.7 L443.3,282.2 L444.5,283.0 L445.4,284.0 L446.1,285.2 L446.5,286.6 L446.6,288.0 L446.5,289.4 L446.2,290.7 L445.7,292.1 L445.1,293.3 L444.2,294.4 L443.3,295.5 L442.3,296.4 L441.1,297.2 L439.9,297.8 L438.6,298.4" fill="none" stroke="#9a9a9a" stroke-width="1.3" stroke-linecap="round" stroke-linejoin="round"/>
<path d="M458.7,270.8 L459.1,272.2 L459.7,273.5 L460.5,274.6 L461.6,275.5 L462.8,276.1 L464.1,276.6 L465.5,276.8 L466.9,276.7 L468.3,276.3 L469.5,275.8 L470.7,275.0 L471.7,274.0 L472.5,272.8 L473.1,271.6 L473.7,270.3 L474.0,268.9 L474.1,267.5 L474.1,266.1 L474.0,264.7 L473.7,263.4 L473.3,262.0 L472.9,260.7 L472.5,259.4 L472.1,258.0 L471.7,256.7 L471.3,255.3 L471.1,253.9 L471.1,252.5 L471.2,251.1 L471.4,249.7 L471.8,248.4 L472.4,247.2 L473.3,246.0 L474.2,245.0 L475.2,244.0 L476.2,243.1 L477.3,242.2 L478.4,241.3 L479.5,240.4 L480.6,239.5 L481.7,238.8 L482.9,238.0 L484.1,237.2 L485.1,236.3 L486.2,235.3 L487.0,234.3 L487.7,233.0 L488.2,231.7" fill="none" stroke="#9a9a9a" stroke-width="1.3" stroke-linecap="round" stroke-linejoin="round"/>
<path d="M427.4,321.4 L428.3,320.3 L429.0,319.1 L429.3,317.7 L429.5,316.3 L429.4,314.9 L429.3,313.5 L429.0,312.2 L428.7,310.8 L428.3,309.5 L427.8,308.1 L427.2,306.9 L426.5,305.7 L425.6,304.6 L424.7,303.6 L423.7,302.6 L422.8,301.5 L421.9,300.4 L420.9,299.4 L420.1,298.3 L419.2,297.2 L418.5,296.0 L417.9,294.7 L417.5,293.4 L417.3,292.0 L417.4,290.6 L417.8,289.2 L418.4,288.0 L419.3,286.9 L420.5,286.1 L421.8,285.6 L423.2,285.6 L424.5,286.1 L425.6,287.0 L426.3,288.2 L426.6,289.6 L426.4,291.0 L425.8,292.2 L424.8,293.2 L423.5,293.8 L422.1,293.9 L420.7,293.5 L419.6,292.7 L418.7,291.6 L418.4,290.3 L418.5,288.9 L419.0,287.6 L420.0,286.6 L421.3,286.0" fill="none" stroke="#9a9a9a" stroke-width="1.3" stroke-linecap="round" stroke-linejoin="round"/>
<path d="M510.2,346.6 L510.9,345.4 L511.6,344.2 L512.4,343.1 L513.2,341.9 L514.1,340.9 L515.1,339.9 L516.1,338.9 L517.1,337.9 L518.1,337.0 L519.2,336.1 L520.4,335.3 L521.6,334.7 L522.9,334.0 L524.2,333.5 L525.5,333.1 L526.9,332.7 L528.2,332.3 L529.6,331.9 L530.9,331.6 L532.3,331.4 L533.7,331.3 L535.1,331.3 L536.5,331.3 L537.9,331.3 L539.3,331.4 L540.7,331.4 L542.1,331.3 L543.5,331.1 L544.9,330.9 L546.2,330.5 L547.6,330.1 L548.9,329.5 L550.1,328.9 L551.3,328.1 L552.4,327.3 L553.6,326.5 L554.6,325.6 L555.7,324.7 L556.7,323.8 L557.7,322.7 L558.5,321.6 L559.3,320.4 L559.8,319.1 L560.2,317.8 L560.4,316.4 L560.6,315.0 L560.6,313.6 L560.5,312.2" fill="none" stroke="#9a9a9a" stroke-width="1.3" stroke-linecap="round" stroke-linejoin="round"/>
<path d="M494.2,304.4 L494.5,305.8 L495.1,307.0 L496.0,308.1 L497.2,308.9 L498.5,309.3 L499.9,309.4 L501.3,309.1 L502.5,308.4 L503.5,307.5 L504.2,306.3 L504.6,304.9 L504.6,303.5 L504.2,302.2 L503.4,301.1 L502.2,300.3 L500.8,299.9 L499.4,300.0 L498.1,300.4 L497.0,301.3 L496.1,302.3 L495.4,303.6 L495.1,304.9 L495.0,306.3 L495.1,307.7 L495.4,309.1 L496.0,310.3 L496.8,311.5 L497.7,312.5 L498.9,313.3 L500.2,313.8 L501.6,313.9 L502.9,313.7 L504.2,313.0 L505.2,312.0 L505.7,310.8 L506.0,309.4 L505.9,308.0 L505.5,306.6 L504.8,305.4 L503.8,304.4 L502.6,303.7 L501.3,303.3 L499.9,303.2 L498.5,303.4 L497.2,304.0 L496.1,304.8 L495.0,305.7 L494.1,306.8" fill="none" stroke="#9a9a9a" stroke-width="1.3" stroke-linecap="round" stroke-linejoin="round"/>
<path d="M491.7,328.3 L491.1,327.0 L490.2,325.9 L489.2,325.0 L487.9,324.3 L486.6,323.9 L485.2,323.7 L483.8,323.7 L482.4,323.8 L481.1,324.2 L479.8,324.7 L478.5,325.4 L477.4,326.1 L476.2,327.0 L475.2,327.9 L474.4,329.1 L473.8,330.3 L473.4,331.7 L473.2,333.0 L473.1,334.4 L473.2,335.8 L473.4,337.2 L473.8,338.6 L474.4,339.8 L475.2,341.0 L476.0,342.1 L477.0,343.2 L477.9,344.2 L478.9,345.2 L479.9,346.1 L481.1,346.9 L482.3,347.7 L483.5,348.3 L484.8,348.9 L486.1,349.3 L487.5,349.5 L488.9,349.5 L490.3,349.3 L491.6,348.9 L493.0,348.4 L494.2,347.9 L495.4,347.1 L496.5,346.3 L497.5,345.3 L498.4,344.2 L499.0,342.9 L499.4,341.6 L499.7,340.2 L499.8,338.8" fill="none" stroke="#9a9a9a" stroke-width="1.3" stroke-linecap="round" stroke-linejoin="round"/>
<path d="M490.2,307.7 L491.4,307.0 L492.5,306.0 L493.5,305.1 L494.4,304.0 L495.3,302.9 L496.0,301.7 L496.6,300.5 L497.1,299.2 L497.6,297.9 L498.0,296.5 L498.4,295.2 L498.8,293.8 L499.2,292.5 L499.5,291.1 L499.6,289.7 L499.7,288.3 L499.8,286.9 L499.7,285.5 L499.7,284.1 L499.5,282.7 L499.0,281.4 L498.5,280.1 L497.8,278.9 L497.1,277.7 L496.2,276.6 L495.1,275.7 L493.9,275.0 L492.6,274.5 L491.3,274.1 L489.9,273.9 L488.5,273.9 L487.1,273.9 L485.7,274.1 L484.4,274.6 L483.1,275.3 L482.1,276.3 L481.5,277.5 L481.2,278.9 L481.5,280.2 L482.1,281.4 L483.2,282.3 L484.5,282.8 L485.9,282.8 L487.3,282.4 L488.4,281.5 L489.2,280.4 L489.6,279.0 L489.5,277.6" fill="none" stroke="#9a9a9a" stroke-width="1.3" stroke-linecap="round" stroke-linejoin="round"/>
<path d="M488.5,296.7 L487.1,296.7 L485.8,296.9 L484.4,297.1 L483.0,297.4 L481.6,297.7 L480.3,298.1 L479.0,298.6 L477.7,299.3 L476.6,300.0 L475.5,300.9 L474.4,301.8 L473.4,302.7 L472.4,303.7 L471.4,304.7 L470.6,305.9 L469.9,307.1 L469.5,308.4 L469.2,309.8 L469.1,311.2 L469.4,312.6 L469.9,313.9 L470.6,315.1 L471.5,316.1 L472.6,317.0 L473.8,317.8 L475.1,318.3 L476.5,318.6 L477.9,318.7 L479.3,318.7 L480.7,318.5 L482.0,318.1 L483.3,317.6 L484.6,317.0 L485.8,316.3 L486.8,315.4 L487.7,314.3 L488.3,313.0 L488.6,311.6 L488.8,310.2 L488.6,308.9 L488.1,307.5 L487.4,306.3 L486.4,305.3 L485.2,304.6 L483.9,304.1 L482.5,304.0 L481.1,304.1 L479.8,304.5" fill="none" stroke="#9a9a9a" stroke-width="1.3" stroke-linecap="round" stroke-linejoin="round"/>
<path d="M445.1,284.0 L446.2,284.8 L447.3,285.7 L448.4,286.6 L449.3,287.7 L450.0,288.8 L450.7,290.1 L451.1,291.4 L451.2,292.8 L451.2,294.2 L450.8,295.6 L450.1,296.8 L449.0,297.7 L447.8,298.3 L446.4,298.5 L445.0,298.4 L443.7,297.9 L442.6,297.0 L441.9,295.8 L441.6,294.4 L441.6,293.0 L442.0,291.6 L442.7,290.4 L443.6,289.4 L444.8,288.7 L446.2,288.4 L447.6,288.4 L449.0,288.8 L450.2,289.4 L451.3,290.2 L452.3,291.2 L453.1,292.4 L453.8,293.6 L454.1,295.0 L454.2,296.4 L454.2,297.8 L453.9,299.1 L453.5,300.5 L453.0,301.8 L452.4,303.1 L451.7,304.3 L451.0,305.5 L450.2,306.6 L449.2,307.6 L448.2,308.6 L447.2,309.5 L446.1,310.4 L444.9,311.2 L443.7,311.9" fill="none" stroke="#9a9a9a" stroke-width="1.3" stroke-linecap="round" stroke-linejoin="round"/>
<path d="M454.0,304.7 L452.6,304.6 L451.2,304.4 L449.8,304.0 L448.6,303.4 L447.3,302.7 L446.3,301.8 L445.4,300.7 L444.8,299.5 L444.4,298.1 L444.2,296.7 L444.3,295.3 L444.7,294.0 L445.4,292.8 L446.3,291.7 L447.4,290.9 L448.6,290.2 L449.9,289.7 L451.3,289.5 L452.7,289.6 L454.1,289.9 L455.3,290.6 L456.3,291.5 L457.2,292.6 L457.9,293.9 L458.3,295.2 L458.4,296.6 L458.3,298.0 L457.9,299.3 L457.2,300.5 L456.1,301.5 L454.9,302.1 L453.5,302.4 L452.1,302.1 L450.9,301.4 L450.0,300.4 L449.5,299.1 L449.4,297.7 L449.8,296.3 L450.5,295.2 L451.6,294.3 L452.9,293.8 L454.3,293.7 L455.7,294.0 L457.0,294.7 L457.9,295.6 L458.6,296.9 L458.9,298.2 L458.8,299.6" fill="none" stroke="#9a9a9a" stroke-width="1.3" stroke-linecap="round" stroke-linejoin="round"/>
<path d="M449.1,339.0 L450.5,339.1 L451.9,338.9 L453.2,338.4 L454.3,337.6 L455.2,336.5 L455.7,335.2 L455.9,333.8 L455.7,332.4 L455.0,331.1 L454.0,330.2 L452.8,329.6 L451.4,329.5 L450.0,329.8 L448.9,330.6 L448.1,331.8 L447.7,333.1 L447.8,334.5 L448.4,335.8 L449.4,336.8 L450.6,337.5 L452.0,337.7 L453.4,337.4 L454.6,336.7 L455.5,335.7 L456.1,334.4 L456.3,333.0 L456.1,331.6 L455.5,330.3 L454.7,329.2 L453.6,328.4 L452.3,327.8 L450.9,327.6 L449.5,327.7 L448.2,328.1 L447.0,328.9 L446.0,329.8 L445.2,331.0 L444.7,332.3 L444.5,333.7 L444.5,335.1 L444.7,336.5 L445.1,337.8 L445.6,339.1 L446.2,340.4 L446.9,341.6 L447.8,342.6 L448.9,343.6 L450.1,344.3" fill="none" stroke="#9a9a9a" stroke-width="1.3" stroke-linecap="round" stroke-linejoin="round"/>
<path d="M468.7,303.5 L470.0,303.2 L471.4,302.8 L472.7,302.6 L474.1,302.4 L475.5,302.3 L476.9,302.1 L478.3,301.9 L479.7,301.8 L481.1,301.7 L482.5,301.7 L483.9,301.6 L485.3,301.5 L486.7,301.2 L488.0,300.8 L489.3,300.2 L490.4,299.4 L491.4,298.4 L492.2,297.3 L492.9,296.1 L493.2,294.7 L493.2,293.3 L493.0,291.9 L492.4,290.6 L491.7,289.4 L490.8,288.4 L489.7,287.4 L488.6,286.7 L487.3,286.1 L485.9,285.8 L484.5,285.5 L483.1,285.5 L481.7,285.6 L480.4,286.0 L479.1,286.6 L477.9,287.2 L476.7,288.0 L475.6,288.8 L474.5,289.7 L473.4,290.6 L472.4,291.6 L471.5,292.6 L470.5,293.6 L469.4,294.5 L468.3,295.4 L467.1,296.1 L465.9,296.8 L464.7,297.5 L463.4,298.1" fill="none" stroke="#9a9a9a" stroke-width="1.3" stroke-linecap="round" stroke-linejoin="round"/>
<path d="M508.0,339.8 L509.1,338.9 L510.0,337.8 L510.8,336.7 L511.5,335.4 L512.0,334.1 L512.4,332.8 L512.7,331.4 L512.7,330.0 L512.6,328.6 L512.2,327.3 L511.6,326.0 L510.9,324.8 L510.1,323.6 L509.2,322.6 L508.2,321.6 L507.1,320.8 L505.9,320.1 L504.5,319.7 L503.1,319.5 L501.7,319.5 L500.3,319.7 L499.0,320.1 L497.7,320.7 L496.5,321.4 L495.4,322.3 L494.3,323.1 L493.4,324.1 L492.5,325.3 L491.9,326.5 L491.5,327.9 L491.3,329.2 L491.3,330.6 L491.6,332.0 L492.2,333.3 L493.0,334.4 L494.0,335.4 L495.2,336.2 L496.4,336.9 L497.7,337.4 L499.0,337.8 L500.4,338.1 L501.8,338.3 L503.2,338.5 L504.6,338.6 L506.0,338.7 L507.4,338.8 L508.8,339.0 L510.1,339.2" fill="none" stroke="#9a9a9a" stroke-width="1.3" stroke-linecap="round" stroke-linejoin="round"/>
<path d="M425.0,297.1 L423.8,296.5 L422.6,295.7 L421.4,295.0 L420.3,294.1 L419.1,293.3 L418.0,292.5 L416.8,291.8 L415.6,291.1 L414.3,290.5 L413.0,290.0 L411.7,289.5 L410.4,289.1 L409.0,288.8 L407.6,288.5 L406.2,288.3 L404.9,288.1 L403.5,287.9 L402.1,287.9 L400.7,287.9 L399.3,288.1 L397.9,288.4 L396.6,288.9 L395.4,289.6 L394.3,290.4 L393.3,291.4 L392.5,292.6 L392.1,293.9 L391.8,295.3 L391.9,296.7 L392.2,298.1 L392.8,299.3 L393.5,300.5 L394.5,301.5 L395.7,302.3 L396.9,302.9 L398.3,303.1 L399.7,302.9 L401.1,302.5 L402.3,301.8 L403.3,300.8 L404.0,299.7 L404.5,298.3 L404.8,297.0 L404.7,295.6 L404.4,294.2 L403.9,292.9 L403.3,291.7 L402.4,290.6" fill="none" stroke="#9a9a9a" stroke-width="1.3" stroke-linecap="round" stroke-linejoin="round"/>
<path d="M483.2,303.9 L484.6,304.4 L485.9,304.9 L487.2,305.4 L488.5,305.8 L489.8,306.3 L491.1,306.8 L492.4,307.3 L493.7,307.8 L495.0,308.4 L496.2,309.1 L497.4,309.9 L498.5,310.8 L499.4,311.8 L500.2,313.0 L500.8,314.2 L501.4,315.5 L501.8,316.8 L502.2,318.2 L502.3,319.6 L502.4,321.0 L502.4,322.4 L502.1,323.8 L501.6,325.1 L500.9,326.3 L500.1,327.4 L499.1,328.4 L498.0,329.3 L496.8,330.0 L495.6,330.8 L494.4,331.5 L493.2,332.2 L492.1,333.0 L490.9,333.8 L489.8,334.6 L488.8,335.6 L487.8,336.6 L486.8,337.6 L485.8,338.6 L484.8,339.5 L483.7,340.5 L482.6,341.3 L481.4,342.0 L480.1,342.5 L478.7,342.8 L477.3,342.9 L475.9,342.9 L474.6,342.6 L473.2,342.2" fill="none" stroke="#9a9a9a" stroke-width="1.3" stroke-linecap="round" stroke-linejoin="round"/>
<path d="M507.9,327.3 L509.2,326.6 L510.2,325.7 L511.1,324.6 L511.6,323.3 L511.8,321.9 L511.6,320.6 L511.0,319.3 L510.2,318.2 L509.1,317.3 L507.8,316.8 L506.4,316.7 L505.0,317.1 L503.9,317.9 L503.1,319.0 L502.6,320.4 L502.5,321.7 L502.8,323.1 L503.6,324.3 L504.7,325.2 L505.9,325.8 L507.3,326.1 L508.7,326.0 L510.0,325.4 L511.1,324.6 L511.9,323.5 L512.5,322.2 L512.6,320.8 L512.3,319.4 L511.6,318.2 L510.5,317.3 L509.2,316.8 L507.8,316.9 L506.5,317.3 L505.3,318.2 L504.6,319.3 L504.1,320.7 L504.1,322.1 L504.5,323.4 L505.3,324.6 L506.4,325.4 L507.7,325.9 L509.1,325.8 L510.4,325.3 L511.5,324.3 L512.2,323.1 L512.5,321.7 L512.5,320.3 L512.2,319.0" fill="none" stroke="#9a9a9a" stroke-width="1.3" stroke-linecap="round" stroke-linejoin="round"/>
<path d="M505.3,323.5 L504.1,322.6 L503.2,321.6 L502.4,320.4 L502.0,319.1 L502.0,317.7 L502.4,316.3 L503.1,315.1 L504.1,314.1 L505.3,313.4 L506.6,313.0 L508.0,312.9 L509.4,313.1 L510.6,313.8 L511.7,314.7 L512.5,315.8 L512.9,317.2 L512.9,318.6 L512.7,319.9 L512.2,321.3 L511.5,322.5 L510.7,323.6 L509.7,324.6 L508.6,325.4 L507.3,326.1 L506.0,326.6 L504.7,327.0 L503.3,327.3 L501.9,327.6 L500.6,327.9 L499.2,328.2 L497.8,328.5 L496.5,328.9 L495.2,329.4 L493.9,330.0 L492.7,330.6 L491.4,331.3 L490.3,332.0 L489.1,332.9 L488.1,333.8 L487.1,334.8 L486.3,335.9 L485.5,337.1 L484.8,338.3 L484.2,339.6 L483.6,340.8 L483.1,342.1 L482.6,343.4 L482.1,344.7" fill="none" stroke="#9a9a9a" stroke-width="1.3" stroke-linecap="round" stroke-linejoin="round"/>
<path d="M437.7,274.6 L436.3,274.6 L434.9,274.6 L433.5,274.6 L432.1,274.8 L430.8,275.2 L429.5,275.7 L428.2,276.3 L427.0,277.0 L425.9,277.8 L424.7,278.6 L423.7,279.6 L422.7,280.5 L421.7,281.6 L420.9,282.7 L420.1,283.9 L419.5,285.1 L418.9,286.4 L418.5,287.7 L418.2,289.1 L418.0,290.5 L417.9,291.9 L417.9,293.3 L417.9,294.7 L417.9,296.1 L417.9,297.5 L417.8,298.9 L417.7,300.3 L417.6,301.7 L417.4,303.0 L417.0,304.4 L416.5,305.7 L415.8,306.9 L414.9,307.9 L413.8,308.8 L412.6,309.5 L411.3,310.1 L410.0,310.6 L408.7,311.2 L407.4,311.7 L406.1,312.2 L404.9,312.9 L403.6,313.5 L402.4,314.2 L401.2,315.0 L400.1,315.8 L399.0,316.6 L397.9,317.6 L397.0,318.6" fill="none" stroke="#9a9a9a" stroke-width="1.3" stroke-linecap="round" stroke-linejoin="round"/>
<path d="M456.8,282.9 L456.1,284.1 L455.4,285.3 L454.6,286.4 L453.7,287.5 L452.7,288.5 L451.6,289.4 L450.5,290.3 L449.4,291.2 L448.3,292.0 L447.2,292.8 L446.0,293.6 L444.8,294.3 L443.5,294.9 L442.3,295.5 L441.0,296.1 L439.8,296.8 L438.7,297.7 L437.7,298.7 L436.8,299.8 L436.1,300.9 L435.3,302.1 L434.7,303.4 L434.0,304.6 L433.4,305.8 L432.7,307.1 L432.2,308.4 L431.6,309.7 L431.1,311.0 L430.8,312.3 L430.7,313.7 L430.8,315.1 L431.3,316.4 L431.9,317.7 L432.8,318.8 L433.7,319.8 L434.8,320.7 L435.9,321.6 L437.2,322.2 L438.5,322.6 L439.9,323.0 L441.3,323.1 L442.7,323.2 L444.1,323.1 L445.4,322.9 L446.8,322.6 L448.1,322.0 L449.3,321.3 L450.4,320.5" fill="none" stroke="#9a9a9a" stroke-width="1.3" stroke-linecap="round" stroke-linejoin="round"/>
<path d="M471.0,330.6 L469.8,331.3 L468.6,332.0 L467.3,332.6 L466.0,333.2 L464.7,333.6 L463.3,333.7 L461.9,333.7 L460.5,333.5 L459.2,333.1 L457.9,332.5 L456.7,331.7 L455.7,330.8 L454.8,329.7 L454.0,328.6 L453.5,327.2 L453.3,325.9 L453.5,324.5 L454.0,323.2 L455.0,322.2 L456.2,321.5 L457.6,321.3 L459.0,321.6 L460.2,322.3 L461.1,323.4 L461.5,324.7 L461.5,326.1 L461.0,327.5 L460.1,328.5 L458.9,329.3 L457.6,329.5 L456.2,329.3 L455.0,328.6 L454.1,327.6 L453.6,326.2 L453.5,324.8 L453.8,323.5 L454.4,322.2 L455.2,321.1 L456.2,320.1 L457.4,319.3 L458.6,318.6 L459.9,318.1 L461.3,317.8 L462.7,317.9 L464.0,318.2 L465.3,318.8 L466.3,319.7 L467.2,320.8" fill="none" stroke="#9a9a9a" stroke-width="1.3" stroke-linecap="round" stroke-linejoin="round"/>
<path d="M471.1,325.8 L469.7,325.8 L468.3,325.7 L466.9,325.6 L465.5,325.4 L464.2,325.2 L462.8,324.8 L461.5,324.2 L460.4,323.4 L459.4,322.4 L458.7,321.2 L458.2,319.9 L458.0,318.5 L458.0,317.1 L458.1,315.7 L458.4,314.3 L458.7,313.0 L459.0,311.6 L459.3,310.2 L459.5,308.8 L459.7,307.5 L459.9,306.1 L460.1,304.7 L460.4,303.3 L460.6,301.9 L460.8,300.5 L460.9,299.2 L461.0,297.8 L460.9,296.4 L460.7,295.0 L460.4,293.6 L460.1,292.2 L459.9,290.8 L459.6,289.5 L459.2,288.1 L458.9,286.8 L458.4,285.5 L457.8,284.2 L457.1,283.0 L456.2,281.9 L455.2,280.9 L454.1,280.1 L452.9,279.4 L451.6,278.8 L450.2,278.5 L448.8,278.4 L447.4,278.4 L446.0,278.7 L444.7,279.1" fill="none" stroke="#9a9a9a" stroke-width="1.3" stroke-linecap="round" stroke-linejoin="round"/>
<path d="M431.6,348.2 L433.0,348.5 L434.4,348.4 L435.8,348.3 L437.1,347.9 L438.3,347.2 L439.4,346.3 L440.2,345.2 L440.6,343.8 L440.6,342.5 L440.0,341.2 L439.1,340.1 L437.9,339.4 L436.5,339.2 L435.1,339.3 L433.8,339.9 L432.9,340.9 L432.3,342.2 L432.1,343.6 L432.5,344.9 L433.2,346.1 L434.3,347.0 L435.6,347.5 L437.0,347.5 L438.3,346.9 L439.4,346.1 L440.1,344.9 L440.5,343.6 L440.5,342.2 L440.0,340.9 L439.0,339.8 L437.9,339.1 L436.5,338.6 L435.1,338.7 L433.8,339.1 L432.7,339.9 L431.8,341.0 L431.3,342.3 L431.2,343.7 L431.4,345.1 L431.8,346.4 L432.5,347.7 L433.3,348.8" fill="none" stroke="#bcbcbc" stroke-width="1.3" stroke-linecap="round" stroke-linejoin="round"/>
<path d="M511.0,293.9 L512.4,294.3 L513.8,294.4 L515.2,294.3 L516.5,294.1 L517.9,293.7 L519.2,293.2 L520.4,292.6 L521.6,291.9 L522.8,291.1 L523.9,290.3 L525.0,289.3 L525.9,288.3 L526.8,287.2 L527.6,286.1 L528.3,284.8 L528.8,283.5 L529.1,282.2 L529.1,280.8 L528.9,279.4 L528.3,278.1 L527.5,276.9 L526.5,276.0 L525.3,275.3 L523.9,275.0 L522.5,275.0 L521.2,275.4 L520.0,276.2 L519.1,277.3 L518.5,278.5 L518.2,279.9 L518.2,281.3 L518.4,282.7 L519.0,283.9 L519.9,285.0 L521.1,285.8 L522.4,286.3 L523.7,286.7 L525.1,286.7 L526.5,286.5 L527.8,286.0 L529.0,285.3 L530.1,284.4" fill="none" stroke="#bcbcbc" stroke-width="1.3" stroke-linecap="round" stroke-linejoin="round"/>
<path d="M482.0,323.9 L482.2,322.6 L482.5,321.2 L482.8,319.8 L483.2,318.5 L483.8,317.2 L484.5,316.0 L485.4,314.9 L486.3,313.8 L487.2,312.8 L488.3,311.9 L489.3,311.0 L490.5,310.2 L491.7,309.5 L493.1,309.1 L494.4,308.8 L495.8,308.6 L497.2,308.6 L498.6,308.7 L500.0,308.9 L501.3,309.3 L502.7,309.7 L504.0,310.2 L505.3,310.7 L506.6,311.2 L507.9,311.8 L509.1,312.4 L510.4,313.0 L511.6,313.6 L512.8,314.4 L513.9,315.3 L515.0,316.1 L516.2,316.9 L517.3,317.8 L518.4,318.6 L519.6,319.4 L520.8,320.0 L522.1,320.6 L523.4,321.0 L524.8,321.4 L526.1,321.7 L527.5,321.9 L528.9,322.1" fill="none" stroke="#bcbcbc" stroke-width="1.3" stroke-linecap="round" stroke-linejoin="round"/>
<path d="M478.0,292.9 L479.0,293.8 L479.8,294.9 L480.5,296.2 L480.9,297.5 L481.0,298.9 L480.7,300.3 L480.1,301.5 L479.1,302.6 L477.9,303.2 L476.6,303.6 L475.2,303.6 L473.8,303.3 L472.6,302.6 L471.6,301.6 L471.0,300.4 L470.7,299.0 L470.7,297.6 L471.0,296.2 L471.7,295.0 L472.6,293.9 L473.6,293.0 L474.8,292.3 L476.1,291.7 L477.5,291.4 L478.8,291.0 L480.2,290.8 L481.6,290.7 L483.0,290.8 L484.4,290.9 L485.8,291.3 L487.1,291.7 L488.4,292.3 L489.6,293.0 L490.7,293.9 L491.7,294.8 L492.6,295.9 L493.5,297.0 L494.2,298.2 L494.9,299.4 L495.4,300.7 L495.8,302.0 L496.1,303.4" fill="none" stroke="#bcbcbc" stroke-width="1.3" stroke-linecap="round" stroke-linejoin="round"/>
<path d="M454.7,298.2 L453.8,299.2 L453.1,300.4 L452.8,301.8 L452.8,303.2 L453.2,304.6 L453.9,305.8 L454.9,306.8 L456.1,307.5 L457.5,307.7 L458.9,307.6 L460.2,307.1 L461.3,306.3 L462.4,305.4 L463.2,304.3 L463.7,303.0 L463.9,301.6 L463.6,300.2 L462.9,299.0 L461.9,298.1 L460.6,297.6 L459.2,297.6 L457.8,298.1 L456.7,298.9 L455.8,300.0 L455.3,301.3 L455.2,302.7 L455.6,304.0 L456.4,305.2 L457.4,306.1 L458.7,306.7 L460.1,306.9 L461.5,306.7 L462.8,306.2 L463.9,305.4 L464.9,304.4 L465.6,303.2 L465.9,301.8 L466.1,300.4 L466.0,299.0 L465.7,297.7 L465.3,296.3 L464.8,295.0" fill="none" stroke="#bcbcbc" stroke-width="1.3" stroke-linecap="round" stroke-linejoin="round"/>
<path d="M447.5,338.8 L446.2,339.2 L444.8,339.4 L443.4,339.5 L442.0,339.3 L440.6,338.9 L439.4,338.3 L438.2,337.5 L437.2,336.6 L436.3,335.5 L435.7,334.2 L435.3,332.9 L435.1,331.5 L435.3,330.1 L435.7,328.8 L436.5,327.6 L437.4,326.6 L438.6,325.8 L439.9,325.3 L441.2,324.9 L442.6,324.8 L444.0,324.8 L445.4,324.9 L446.8,325.3 L448.1,325.8 L449.3,326.5 L450.3,327.4 L451.2,328.5 L451.9,329.8 L452.2,331.1 L452.1,332.5 L451.8,333.9 L451.2,335.1 L450.2,336.1 L448.9,336.7 L447.5,336.8 L446.1,336.6 L444.9,335.9 L443.9,334.9 L443.3,333.7 L443.1,332.3 L443.2,330.9 L443.8,329.6" fill="none" stroke="#bcbcbc" stroke-width="1.3" stroke-linecap="round" stroke-linejoin="round"/>
<path d="M483.2,320.3 L484.6,320.3 L486.0,320.2 L487.4,320.2 L488.8,320.2 L490.2,320.4 L491.6,320.5 L493.0,320.7 L494.4,320.9 L495.8,321.0 L497.2,321.3 L498.5,321.5 L499.9,321.7 L501.3,322.0 L502.7,322.3 L504.0,322.6 L505.4,323.0 L506.7,323.4 L508.1,323.7 L509.4,324.2 L510.7,324.7 L512.0,325.3 L513.3,325.8 L514.6,326.3 L515.8,327.0 L517.0,327.6 L518.2,328.4 L519.4,329.2 L520.5,330.0 L521.7,330.8 L522.9,331.6 L524.0,332.4 L525.0,333.3 L526.1,334.2 L527.3,335.0 L528.5,335.6 L529.8,336.2 L531.1,336.6 L532.5,337.0 L533.8,337.4 L535.2,337.7 L536.6,337.9 L538.0,338.1" fill="none" stroke="#bcbcbc" stroke-width="1.3" stroke-linecap="round" stroke-linejoin="round"/>
<path d="M420.3,279.7 L418.9,279.5 L417.5,279.2 L416.2,278.7 L414.9,278.2 L413.6,277.6 L412.4,276.9 L411.3,276.1 L410.2,275.2 L409.2,274.2 L408.2,273.2 L407.2,272.3 L406.2,271.3 L405.3,270.2 L404.3,269.2 L403.3,268.2 L402.2,267.4 L401.0,266.6 L399.7,266.1 L398.3,265.8 L396.9,265.7 L395.6,265.8 L394.2,266.0 L392.8,266.3 L391.5,266.8 L390.2,267.3 L389.0,268.1 L387.9,268.9 L387.0,270.0 L386.2,271.2 L385.7,272.4 L385.3,273.8 L385.2,275.2 L385.3,276.6 L385.7,277.9 L386.2,279.2 L386.9,280.5 L387.7,281.6 L388.5,282.7 L389.5,283.7 L390.6,284.6 L391.8,285.3 L393.1,285.9" fill="none" stroke="#bcbcbc" stroke-width="1.3" stroke-linecap="round" stroke-linejoin="round"/>
<path d="M464.8,328.3 L464.5,329.7 L463.9,330.9 L463.3,332.2 L462.5,333.4 L461.6,334.4 L460.5,335.3 L459.4,336.1 L458.1,336.7 L456.7,337.0 L455.3,337.0 L453.9,336.8 L452.6,336.4 L451.4,335.7 L450.4,334.7 L449.6,333.5 L449.0,332.3 L448.7,330.9 L448.6,329.5 L448.8,328.1 L449.2,326.8 L449.7,325.5 L450.5,324.3 L451.4,323.2 L452.4,322.3 L453.6,321.6 L454.9,321.1 L456.3,320.9 L457.7,321.2 L458.9,321.8 L459.9,322.8 L460.6,324.1 L460.9,325.4 L460.7,326.8 L460.0,328.0 L458.9,329.0 L457.6,329.5 L456.2,329.5 L454.9,329.0 L453.8,328.2 L453.0,327.0 L452.7,325.7 L452.7,324.3" fill="none" stroke="#bcbcbc" stroke-width="1.3" stroke-linecap="round" stroke-linejoin="round"/>
<path d="M456.2,332.3 L454.8,332.0 L453.4,332.1 L452.1,332.4 L450.8,333.0 L449.7,333.9 L448.9,335.0 L448.2,336.3 L447.8,337.6 L447.7,339.0 L448.0,340.4 L448.7,341.6 L449.7,342.6 L450.9,343.2 L452.3,343.3 L453.7,342.9 L454.8,342.2 L455.7,341.1 L456.3,339.8 L456.4,338.4 L456.1,337.1 L455.3,335.9 L454.3,335.0 L453.0,334.4 L451.6,334.4 L450.2,334.8 L449.1,335.6 L448.3,336.8 L448.0,338.1 L448.1,339.5 L448.6,340.8 L449.5,341.9 L450.7,342.6 L452.1,342.9 L453.5,342.6 L454.7,342.0 L455.6,340.9 L456.2,339.7 L456.4,338.3 L456.0,336.9 L455.3,335.7 L454.1,334.9 L452.8,334.5" fill="none" stroke="#bcbcbc" stroke-width="1.3" stroke-linecap="round" stroke-linejoin="round"/>
<path d="M434.0,327.0 L432.9,327.8 L431.6,328.5 L430.4,329.1 L429.1,329.6 L427.8,330.2 L426.6,330.9 L425.5,331.8 L424.5,332.7 L423.5,333.7 L422.7,334.9 L422.0,336.1 L421.5,337.4 L421.3,338.8 L421.4,340.2 L421.8,341.5 L422.6,342.7 L423.5,343.7 L424.7,344.5 L425.9,345.1 L427.3,345.5 L428.7,345.7 L430.1,345.7 L431.5,345.7 L432.9,345.4 L434.2,345.1 L435.4,344.4 L436.6,343.6 L437.6,342.6 L438.4,341.5 L438.9,340.2 L439.1,338.8 L439.0,337.4 L438.5,336.1 L437.8,334.9 L436.8,333.9 L435.7,333.1 L434.4,332.5 L433.1,332.1 L431.7,332.0 L430.3,332.0 L428.9,332.0 L427.5,332.0" fill="none" stroke="#bcbcbc" stroke-width="1.3" stroke-linecap="round" stroke-linejoin="round"/>
<path d="M506.5,336.2 L505.2,335.5 L504.0,334.8 L503.0,333.9 L502.0,332.8 L501.3,331.6 L500.8,330.3 L500.6,328.9 L500.7,327.5 L501.0,326.2 L501.6,324.9 L502.4,323.8 L503.5,322.9 L504.8,322.4 L506.2,322.3 L507.6,322.7 L508.7,323.5 L509.5,324.6 L510.1,325.9 L510.2,327.3 L509.9,328.7 L509.1,329.8 L508.0,330.7 L506.7,331.1 L505.3,331.0 L503.9,330.5 L502.8,329.7 L502.0,328.5 L501.7,327.2 L501.8,325.8 L502.4,324.5 L503.3,323.5 L504.5,322.8 L505.9,322.4 L507.3,322.3 L508.7,322.4 L510.0,322.9 L511.2,323.6 L512.3,324.4 L513.3,325.4 L514.2,326.5 L515.0,327.7 L515.7,328.8" fill="none" stroke="#bcbcbc" stroke-width="1.3" stroke-linecap="round" stroke-linejoin="round"/>
<path d="M484.3,276.6 L483.0,277.2 L481.6,277.4 L480.2,277.4 L478.8,277.0 L477.5,276.6 L476.3,275.9 L475.3,274.9 L474.4,273.8 L473.9,272.5 L473.7,271.1 L473.7,269.7 L473.8,268.3 L474.0,266.9 L474.4,265.6 L474.9,264.3 L475.4,263.0 L476.0,261.7 L476.5,260.4 L476.9,259.0 L477.3,257.7 L477.5,256.3 L477.7,254.9 L477.8,253.5 L477.8,252.1 L477.6,250.7 L477.3,249.4 L476.8,248.1 L476.2,246.8 L475.6,245.6 L475.0,244.3 L474.4,243.0 L473.9,241.7 L473.6,240.4 L473.4,239.0 L473.3,237.6 L473.3,236.2 L473.2,234.8 L473.2,233.4 L473.3,232.0 L473.6,230.6 L474.0,229.3 L474.6,228.0" fill="none" stroke="#bcbcbc" stroke-width="1.3" stroke-linecap="round" stroke-linejoin="round"/>
<path d="M448.6,299.9 L449.7,300.8 L450.8,301.6 L452.2,302.0 L453.6,302.2 L454.9,302.0 L456.2,301.5 L457.4,300.7 L458.2,299.5 L458.6,298.2 L458.7,296.8 L458.3,295.4 L457.7,294.2 L456.9,293.1 L455.8,292.1 L454.6,291.5 L453.3,291.0 L451.9,290.8 L450.5,290.8 L449.1,291.2 L447.9,291.8 L446.8,292.7 L446.0,293.8 L445.5,295.1 L445.4,296.5 L445.9,297.9 L446.7,299.0 L447.8,299.8 L449.2,300.2 L450.6,300.2 L451.9,299.8 L453.1,299.0 L454.0,298.0 L454.7,296.7 L454.9,295.4 L454.7,294.0 L454.0,292.8 L452.9,291.8 L451.6,291.4 L450.2,291.3 L448.9,291.6 L447.6,292.4 L446.7,293.4" fill="none" stroke="#bcbcbc" stroke-width="1.3" stroke-linecap="round" stroke-linejoin="round"/>
<path d="M421.0,294.1 L419.6,294.1 L418.2,294.2 L416.8,294.4 L415.5,294.8 L414.2,295.5 L413.2,296.4 L412.3,297.5 L411.6,298.7 L410.9,300.0 L410.5,301.3 L410.2,302.7 L410.0,304.1 L409.9,305.5 L410.0,306.8 L410.1,308.2 L410.2,309.6 L410.3,311.0 L410.4,312.4 L410.4,313.8 L410.5,315.2 L410.7,316.6 L410.9,318.0 L411.1,319.4 L411.4,320.8 L411.6,322.1 L411.8,323.5 L412.0,324.9 L412.1,326.3 L412.2,327.7 L412.3,329.1 L412.5,330.5 L412.8,331.9 L413.2,333.2 L413.8,334.5 L414.5,335.7 L415.4,336.8 L416.5,337.6 L417.7,338.3 L419.1,338.7 L420.4,339.0 L421.8,339.1 L423.2,339.0" fill="none" stroke="#bcbcbc" stroke-width="1.3" stroke-linecap="round" stroke-linejoin="round"/>
<path d="M507.8,303.9 L509.1,304.5 L510.2,305.3 L511.3,306.1 L512.4,307.0 L513.5,307.9 L514.5,308.9 L515.5,309.9 L516.3,311.0 L517.1,312.2 L517.7,313.4 L518.2,314.7 L518.6,316.1 L518.9,317.4 L519.0,318.8 L519.0,320.2 L518.9,321.6 L518.7,323.0 L518.4,324.4 L518.0,325.7 L517.5,327.0 L516.8,328.3 L516.1,329.5 L515.2,330.6 L514.3,331.6 L513.3,332.6 L512.3,333.6 L511.4,334.7 L510.5,335.8 L509.7,336.9 L509.1,338.1 L508.5,339.4 L508.0,340.7 L507.6,342.1 L507.4,343.5 L507.3,344.9 L507.4,346.3 L507.6,347.6 L507.8,349.0 L508.1,350.4 L508.5,351.8 L508.9,353.1 L509.3,354.4" fill="none" stroke="#bcbcbc" stroke-width="1.3" stroke-linecap="round" stroke-linejoin="round"/>
<path d="M490.3,285.5 L491.3,284.5 L492.3,283.6 L493.5,282.8 L494.7,282.1 L495.9,281.5 L497.2,281.0 L498.6,280.6 L500.0,280.5 L501.4,280.6 L502.7,280.9 L504.0,281.4 L505.2,282.2 L506.3,283.1 L507.1,284.2 L507.7,285.5 L508.0,286.8 L508.0,288.2 L507.6,289.6 L507.1,290.9 L506.3,292.0 L505.2,292.9 L504.0,293.6 L502.7,294.1 L501.3,294.4 L499.9,294.4 L498.6,294.0 L497.3,293.3 L496.3,292.3 L495.6,291.1 L495.4,289.8 L495.5,288.4 L496.0,287.1 L497.0,286.1 L498.2,285.4 L499.6,285.2 L501.0,285.4 L502.3,285.9 L503.4,286.8 L504.2,287.9 L504.8,289.2 L505.0,290.6 L505.0,292.0" fill="none" stroke="#bcbcbc" stroke-width="1.3" stroke-linecap="round" stroke-linejoin="round"/>
<path d="M434.1,276.3 L435.4,275.7 L436.5,274.9 L437.5,273.9 L438.2,272.7 L438.6,271.3 L438.6,269.9 L438.3,268.6 L437.7,267.3 L436.9,266.2 L435.8,265.3 L434.5,264.7 L433.2,264.5 L431.8,264.6 L430.5,265.2 L429.5,266.2 L428.8,267.4 L428.3,268.7 L428.3,270.1 L428.7,271.4 L429.5,272.6 L430.6,273.4 L431.9,273.9 L433.3,273.9 L434.6,273.4 L435.8,272.6 L436.7,271.5 L437.4,270.3 L437.8,269.0 L437.9,267.6 L437.8,266.2 L437.4,264.9 L436.7,263.6 L435.8,262.5 L434.8,261.6 L433.6,260.9 L432.3,260.3 L431.0,260.0 L429.6,259.9 L428.2,260.2 L426.9,260.8 L425.9,261.8 L425.1,262.9" fill="none" stroke="#bcbcbc" stroke-width="1.3" stroke-linecap="round" stroke-linejoin="round"/>
<path d="M453.3,337.2 L453.1,338.5 L453.1,339.9 L453.3,341.3 L453.8,342.6 L454.5,343.9 L455.4,344.9 L456.5,345.8 L457.7,346.4 L459.1,346.7 L460.5,346.6 L461.8,346.2 L463.0,345.4 L464.0,344.5 L464.7,343.3 L465.1,341.9 L465.0,340.5 L464.4,339.2 L463.5,338.1 L462.3,337.5 L460.9,337.2 L459.6,337.5 L458.3,338.1 L457.4,339.2 L456.9,340.5 L456.7,341.9 L456.9,343.3 L457.5,344.5 L458.4,345.6 L459.5,346.5 L460.8,347.1 L462.1,347.5 L463.5,347.6 L464.9,347.6 L466.3,347.5 L467.7,347.2 L469.1,346.8 L470.4,346.4 L471.6,345.8 L472.8,345.0 L473.8,344.0 L474.5,342.8 L474.8,341.5" fill="none" stroke="#bcbcbc" stroke-width="1.3" stroke-linecap="round" stroke-linejoin="round"/>
<path d="M487.3,283.4 L486.7,282.2 L486.0,281.0 L485.0,279.9 L483.9,279.1 L482.7,278.5 L481.3,278.0 L480.0,277.9 L478.6,278.1 L477.3,278.5 L476.1,279.3 L475.2,280.4 L474.7,281.7 L474.6,283.1 L475.1,284.4 L475.9,285.6 L477.0,286.5 L478.2,287.1 L479.6,287.4 L481.0,287.4 L482.3,286.9 L483.4,286.0 L484.2,284.9 L484.6,283.5 L484.7,282.1 L484.3,280.8 L483.6,279.6 L482.5,278.7 L481.2,278.2 L479.8,278.0 L478.4,278.3 L477.1,278.8 L476.1,279.7 L475.3,280.9 L474.9,282.2 L475.0,283.6 L475.5,284.9 L476.4,286.0 L477.7,286.7 L479.0,286.9 L480.4,286.7 L481.7,286.1 L482.7,285.2" fill="none" stroke="#bcbcbc" stroke-width="1.3" stroke-linecap="round" stroke-linejoin="round"/>
<path d="M454.6,286.5 L454.4,285.2 L453.9,283.9 L453.1,282.7 L452.1,281.7 L451.0,280.9 L449.7,280.3 L448.3,280.0 L446.9,279.9 L445.5,280.0 L444.2,280.5 L443.0,281.3 L442.0,282.2 L441.2,283.4 L440.7,284.7 L440.5,286.1 L440.5,287.5 L441.0,288.8 L441.7,290.0 L442.8,290.9 L444.0,291.5 L445.4,292.0 L446.8,292.1 L448.2,291.9 L449.5,291.5 L450.6,290.7 L451.6,289.7 L452.3,288.5 L452.7,287.1 L452.7,285.7 L452.3,284.4 L451.5,283.2 L450.4,282.4 L449.1,281.9 L447.7,281.8 L446.3,282.0 L445.1,282.7 L444.0,283.6 L443.4,284.9 L443.1,286.2 L443.2,287.6 L443.7,288.9 L444.5,290.1" fill="none" stroke="#bcbcbc" stroke-width="1.3" stroke-linecap="round" stroke-linejoin="round"/>
<path d="M456.7,306.8 L457.1,308.2 L457.7,309.4 L458.6,310.5 L459.6,311.4 L460.9,312.1 L462.2,312.5 L463.6,312.6 L465.0,312.4 L466.3,311.9 L467.5,311.2 L468.5,310.3 L469.3,309.1 L469.7,307.8 L469.9,306.4 L469.8,305.0 L469.4,303.6 L468.7,302.4 L467.8,301.3 L466.7,300.4 L465.5,299.8 L464.2,299.3 L462.8,299.0 L461.4,298.9 L460.0,299.0 L458.7,299.3 L457.3,299.7 L456.0,300.1 L454.6,300.5 L453.3,300.9 L451.9,301.2 L450.6,301.6 L449.2,301.9 L447.9,302.4 L446.6,302.8 L445.3,303.3 L444.0,303.9 L442.8,304.6 L441.6,305.3 L440.3,306.0 L439.1,306.7 L437.9,307.4 L436.8,308.2" fill="none" stroke="#bcbcbc" stroke-width="1.3" stroke-linecap="round" stroke-linejoin="round"/>
<path d="M499.0,275.0 L499.1,273.6 L498.8,272.2 L498.2,270.9 L497.4,269.8 L496.3,268.9 L495.0,268.4 L493.6,268.2 L492.3,268.5 L491.0,269.2 L490.1,270.2 L489.6,271.5 L489.5,272.9 L490.0,274.3 L490.8,275.4 L492.0,276.1 L493.4,276.4 L494.8,276.3 L496.1,275.8 L497.2,275.0 L498.0,273.8 L498.3,272.4 L498.1,271.0 L497.5,269.8 L496.6,268.8 L495.3,268.2 L493.9,268.0 L492.6,268.4 L491.4,269.1 L490.5,270.2 L489.9,271.4 L489.6,272.8 L489.7,274.2 L490.0,275.6 L490.6,276.8 L491.5,277.9 L492.5,278.9 L493.7,279.6 L495.0,280.2 L496.3,280.7 L497.7,280.9 L499.1,281.0 L500.5,280.9" fill="none" stroke="#bcbcbc" stroke-width="1.3" stroke-linecap="round" stroke-linejoin="round"/>
<path d="M474.5,300.5 L473.9,301.7 L473.3,303.0 L472.7,304.3 L472.2,305.6 L471.7,306.9 L471.1,308.2 L470.5,309.4 L469.8,310.6 L469.0,311.8 L468.1,312.8 L467.0,313.7 L465.7,314.3 L464.3,314.7 L463.0,314.8 L461.6,314.8 L460.2,314.7 L458.8,314.4 L457.4,314.1 L456.1,313.5 L455.0,312.8 L453.9,311.9 L453.1,310.7 L452.5,309.5 L452.3,308.1 L452.4,306.7 L452.7,305.3 L453.3,304.1 L454.1,302.9 L455.2,302.0 L456.4,301.3 L457.7,300.8 L459.0,300.5 L460.4,300.3 L461.8,300.5 L463.2,300.8 L464.4,301.4 L465.5,302.3 L466.4,303.4 L467.1,304.6 L467.5,306.0 L467.6,307.4 L467.5,308.7" fill="none" stroke="#bcbcbc" stroke-width="1.3" stroke-linecap="round" stroke-linejoin="round"/>
<path d="M480.8,337.5 L482.2,337.8 L483.6,337.8 L485.0,337.5 L486.2,336.8 L487.3,335.9 L488.2,334.9 L488.8,333.6 L489.1,332.3 L489.0,330.9 L488.5,329.6 L487.7,328.4 L486.5,327.6 L485.2,327.1 L483.8,327.0 L482.5,327.4 L481.4,328.3 L480.6,329.4 L480.1,330.8 L480.1,332.2 L480.3,333.5 L480.9,334.8 L481.7,335.9 L482.7,336.9 L483.9,337.7 L485.2,338.2 L486.6,338.5 L488.0,338.7 L489.4,338.5 L490.7,338.2 L491.9,337.5 L493.0,336.6 L493.9,335.5 L494.6,334.3 L495.0,333.0 L495.3,331.6 L495.4,330.2 L495.4,328.8 L495.2,327.4 L494.9,326.0 L494.7,324.7 L494.4,323.3 L494.2,321.9" fill="none" stroke="#bcbcbc" stroke-width="1.3" stroke-linecap="round" stroke-linejoin="round"/>
<path d="M443.2,307.2 L442.7,305.9 L442.0,304.7 L441.4,303.4 L440.6,302.2 L439.9,301.1 L439.1,299.9 L438.3,298.7 L437.4,297.7 L436.4,296.7 L435.2,296.0 L433.9,295.4 L432.5,295.1 L431.2,294.9 L429.8,294.9 L428.4,295.2 L427.1,295.7 L425.9,296.5 L424.8,297.4 L424.0,298.5 L423.5,299.8 L423.3,301.2 L423.3,302.6 L423.8,303.9 L424.5,305.1 L425.4,306.2 L426.6,306.9 L427.9,307.4 L429.3,307.6 L430.7,307.7 L432.1,307.6 L433.5,307.3 L434.8,306.9 L436.1,306.4 L437.2,305.5 L438.2,304.5 L439.0,303.4 L439.6,302.1 L439.9,300.8 L440.1,299.4 L439.9,298.0 L439.5,296.6 L439.0,295.3" fill="none" stroke="#bcbcbc" stroke-width="1.3" stroke-linecap="round" stroke-linejoin="round"/>
<path d="M506.3,320.3 L504.9,320.2 L503.5,319.8 L502.3,319.3 L501.1,318.5 L500.0,317.6 L499.1,316.5 L498.5,315.3 L498.2,313.9 L498.4,312.5 L499.0,311.2 L499.9,310.2 L501.1,309.4 L502.4,308.9 L503.8,308.8 L505.2,308.9 L506.5,309.3 L507.8,309.9 L508.9,310.7 L509.8,311.8 L510.6,312.9 L511.3,314.2 L511.7,315.5 L512.0,316.8 L512.2,318.2 L512.3,319.6 L512.3,321.0 L512.3,322.4 L512.3,323.8 L512.2,325.2 L512.0,326.6 L511.7,328.0 L511.3,329.3 L510.6,330.5 L509.7,331.6 L508.6,332.4 L507.3,333.1 L506.0,333.5 L504.6,333.8 L503.2,333.9 L501.8,334.0 L500.4,333.8 L499.1,333.3" fill="none" stroke="#bcbcbc" stroke-width="1.3" stroke-linecap="round" stroke-linejoin="round"/>
<path d="M464.5,294.8 L463.3,295.5 L461.9,295.9 L460.6,296.1 L459.2,296.1 L457.8,295.7 L456.5,295.1 L455.4,294.3 L454.5,293.3 L453.7,292.1 L453.2,290.8 L452.8,289.4 L452.7,288.0 L452.8,286.7 L453.2,285.3 L453.8,284.0 L454.6,282.9 L455.5,281.8 L456.6,280.9 L457.8,280.3 L459.1,279.8 L460.5,279.4 L461.9,279.2 L463.2,279.0 L464.6,278.9 L466.0,278.8 L467.4,278.7 L468.8,278.6 L470.2,278.5 L471.6,278.4 L473.0,278.3 L474.4,278.0 L475.8,277.8 L477.2,277.5 L478.5,277.2 L479.9,276.9 L481.2,276.5 L482.5,276.1 L483.9,275.5 L485.1,275.0 L486.4,274.4 L487.7,273.9 L489.0,273.3" fill="none" stroke="#bcbcbc" stroke-width="1.3" stroke-linecap="round" stroke-linejoin="round"/>
<path d="M473.2,321.5 L474.5,320.9 L475.8,320.3 L477.1,319.8 L478.4,319.4 L479.8,319.1 L481.2,319.0 L482.6,319.0 L483.9,319.2 L485.3,319.7 L486.5,320.3 L487.5,321.3 L488.3,322.5 L488.6,323.8 L488.7,325.2 L488.4,326.6 L487.7,327.8 L486.6,328.6 L485.2,329.0 L483.8,329.0 L482.5,328.5 L481.5,327.6 L480.7,326.4 L480.4,325.0 L480.5,323.6 L481.1,322.4 L482.1,321.4 L483.4,320.8 L484.7,320.6 L486.1,321.0 L487.3,321.8 L488.1,322.9 L488.5,324.3 L488.4,325.7 L488.0,327.0 L487.3,328.2 L486.2,329.2 L485.0,329.9 L483.7,330.4 L482.4,330.8 L481.0,331.1 L479.6,331.2 L478.2,331.2" fill="none" stroke="#bcbcbc" stroke-width="1.3" stroke-linecap="round" stroke-linejoin="round"/>
<path d="M464.0,290.5 L462.6,290.5 L461.2,290.5 L459.8,290.7 L458.4,290.9 L457.0,291.0 L455.6,291.2 L454.2,291.2 L452.8,291.3 L451.4,291.3 L450.0,291.2 L448.6,290.9 L447.3,290.6 L446.0,290.1 L444.7,289.5 L443.6,288.6 L442.5,287.7 L441.6,286.7 L440.7,285.6 L440.0,284.4 L439.4,283.2 L438.9,281.8 L438.8,280.4 L438.8,279.0 L439.0,277.7 L439.5,276.3 L440.2,275.1 L441.2,274.1 L442.3,273.3 L443.6,272.7 L445.0,272.4 L446.4,272.4 L447.7,272.8 L448.9,273.5 L450.0,274.4 L450.7,275.6 L450.9,277.0 L450.7,278.4 L450.0,279.6 L449.0,280.6 L447.8,281.2 L446.4,281.4 L445.0,281.2" fill="none" stroke="#bcbcbc" stroke-width="1.3" stroke-linecap="round" stroke-linejoin="round"/>
<path d="M427.8,270.2 L511.8,270.2 L511.8,314.2 C503.8,318.2 493.8,314.2 485.8,310.2 C477.8,306.2 473.8,298.2 465.8,294.2 C455.8,290.2 443.8,292.2 435.8,286.2 C429.8,280.2 427.8,274.2 427.8,270.2 Z" fill="#8d8d8d" opacity="0.93"/>
<path d="M459.8,328.2 C465.8,322.2 475.8,326.2 477.8,336.2 C479.8,344.2 477.8,349.2 475.8,349.2 L461.8,349.2 C459.8,342.2 457.8,334.2 459.8,328.2 Z" fill="#808080" opacity="0.9"/>
<rect x="419.8" y="270.2" width="91.8" height="78.6" fill="#000" filter="url(#semN)" opacity="0.3"/>
<path d="M479.4,274.1 L478.1,273.4 L476.8,273.0 L475.4,272.7 L474.1,272.6 L472.7,272.6 L471.3,272.9 L470.0,273.4 L468.8,274.1 L467.8,275.1 L467.0,276.3 L466.7,277.7 L466.7,279.1 L467.1,280.4 L467.8,281.6 L468.8,282.6 L470.0,283.4 L471.3,284.0 L472.6,284.2 L474.0,284.3 L475.4,284.1 L476.8,283.8 L478.1,283.3 L479.2,282.4 L480.2,281.4 L481.0,280.3 L481.6,279.0 L482.1,277.7 L482.4,276.4 L482.7,275.0 L482.9,273.6" fill="none" stroke="#b2b2b2" stroke-width="1.1" stroke-linecap="round" stroke-linejoin="round"/>
<path d="M476.8,291.3 L475.6,291.9 L474.2,292.4 L472.9,292.7 L471.5,292.9 L470.1,292.9 L468.7,292.6 L467.4,292.2 L466.1,291.6 L465.0,290.8 L463.9,289.8 L463.1,288.8 L462.4,287.5 L462.0,286.2 L461.9,284.8 L462.1,283.4 L462.7,282.1 L463.6,281.0 L464.7,280.2 L466.0,279.7 L467.4,279.7 L468.7,280.1 L469.8,281.0 L470.6,282.2 L470.9,283.6 L470.7,284.9 L470.1,286.2 L469.1,287.2 L467.9,287.8 L466.5,288.0 L465.1,287.7" fill="none" stroke="#b2b2b2" stroke-width="1.1" stroke-linecap="round" stroke-linejoin="round"/>
<path d="M505.2,280.7 L506.6,280.4 L508.0,280.2 L509.4,279.9 L510.7,279.6 L512.0,279.1 L513.3,278.5 L514.6,277.9 L515.8,277.2 L517.0,276.5 L518.1,275.7 L519.2,274.8 L520.3,273.9 L521.2,272.8 L521.9,271.6 L522.4,270.3 L522.9,269.0 L523.2,267.6 L523.4,266.3 L523.7,264.9 L524.0,263.5 L524.3,262.1 L524.6,260.8 L525.0,259.4 L525.5,258.1 L526.0,256.8 L526.7,255.6 L527.5,254.4 L528.3,253.3 L529.3,252.3 L530.3,251.3" fill="none" stroke="#b2b2b2" stroke-width="1.1" stroke-linecap="round" stroke-linejoin="round"/>
<path d="M478.1,290.0 L479.4,290.5 L480.5,291.4 L481.3,292.5 L481.8,293.9 L481.8,295.3 L481.5,296.6 L480.9,297.9 L479.9,298.8 L478.6,299.4 L477.2,299.7 L475.9,299.4 L474.6,298.7 L473.7,297.7 L473.1,296.4 L472.9,295.0 L473.1,293.7 L473.8,292.4 L474.8,291.5 L476.1,290.9 L477.5,290.8 L478.8,291.2 L480.0,292.0 L480.9,293.1 L481.4,294.4 L481.6,295.8 L481.4,297.2 L480.8,298.4 L479.7,299.3 L478.4,299.9 L477.0,299.9" fill="none" stroke="#b2b2b2" stroke-width="1.1" stroke-linecap="round" stroke-linejoin="round"/>
<path d="M502.2,278.0 L503.2,279.1 L504.1,280.1 L505.1,281.1 L506.0,282.2 L507.0,283.1 L508.1,284.1 L509.2,285.0 L510.3,285.8 L511.4,286.6 L512.7,287.2 L514.0,287.8 L515.3,288.2 L516.7,288.5 L518.1,288.5 L519.5,288.4 L520.8,288.0 L522.1,287.4 L523.3,286.8 L524.6,286.1 L525.7,285.3 L526.9,284.5 L527.9,283.6 L528.9,282.6 L529.6,281.4 L530.2,280.1 L530.7,278.8 L531.0,277.4 L531.2,276.1 L531.3,274.7 L531.2,273.3" fill="none" stroke="#b2b2b2" stroke-width="1.1" stroke-linecap="round" stroke-linejoin="round"/>
<path d="M506.9,271.9 L507.4,273.2 L507.9,274.5 L508.4,275.8 L508.9,277.1 L509.4,278.4 L509.8,279.8 L510.3,281.1 L510.7,282.4 L511.0,283.8 L511.2,285.2 L511.3,286.6 L511.1,288.0 L510.6,289.3 L509.8,290.4 L508.9,291.4 L507.7,292.2 L506.4,292.7 L505.0,292.9 L503.6,293.0 L502.2,292.9 L500.8,292.5 L499.6,291.9 L498.4,291.1 L497.6,290.0 L497.0,288.7 L496.7,287.3 L496.8,285.9 L497.2,284.6 L498.0,283.4 L499.1,282.5" fill="none" stroke="#b2b2b2" stroke-width="1.1" stroke-linecap="round" stroke-linejoin="round"/>
<path d="M499.7,275.1 L498.5,275.7 L497.2,276.3 L496.0,277.0 L494.7,277.6 L493.5,278.3 L492.3,279.0 L491.0,279.6 L489.8,280.2 L488.5,280.8 L487.3,281.4 L486.0,282.0 L484.7,282.6 L483.4,283.2 L482.1,283.7 L480.8,284.2 L479.5,284.6 L478.1,284.8 L476.7,284.9 L475.3,284.7 L473.9,284.4 L472.6,284.0 L471.3,283.5 L470.1,282.8 L469.0,282.0 L468.0,280.9 L467.2,279.8 L466.6,278.5 L466.1,277.2 L465.7,275.9 L465.5,274.5" fill="none" stroke="#b2b2b2" stroke-width="1.1" stroke-linecap="round" stroke-linejoin="round"/>
<path d="M485.5,276.4 L484.6,275.4 L483.5,274.5 L482.4,273.7 L481.1,273.0 L479.8,272.6 L478.4,272.3 L477.0,272.3 L475.7,272.5 L474.4,273.0 L473.2,273.8 L472.2,274.8 L471.3,275.9 L470.5,277.0 L469.8,278.2 L469.1,279.4 L468.4,280.7 L467.9,282.0 L467.5,283.3 L467.3,284.7 L467.4,286.1 L467.6,287.5 L468.0,288.8 L468.6,290.1 L469.4,291.3 L470.3,292.3 L471.4,293.2 L472.6,293.9 L474.0,294.2 L475.4,294.1 L476.7,293.8" fill="none" stroke="#b2b2b2" stroke-width="1.1" stroke-linecap="round" stroke-linejoin="round"/>
<path d="M422.8,273.2 C431.8,268.2 445.8,276.2 441.8,286.2 C437.8,294.2 425.8,292.2 422.8,282.2 Z" fill="none" stroke="#e2e2e2" stroke-width="1.6"/>
<path d="M469.8,298.2 C475.8,292.2 485.8,296.2 483.8,304.2 C479.8,310.2 469.8,306.2 469.8,298.2 Z" fill="none" stroke="#dcdcdc" stroke-width="1.4"/>
</g></g>
<g clip-path="url(#cBL)"><g filter="url(#soft)">
<rect x="325.3" y="351.1" width="91.6" height="79.4" fill="#6a6a6a"/>
<line x1="284.6" y1="328.3" x2="402.1" y2="404.5" stroke="#505050" stroke-width="7.0"/>
<line x1="284.6" y1="328.3" x2="402.1" y2="404.5" stroke="#8c8c8c" stroke-width="5.4"/>
<line x1="284.6" y1="328.3" x2="402.1" y2="404.5" stroke="#a2a2a2" stroke-width="2.4"/>
<line x1="349.3" y1="388.4" x2="484.4" y2="351.6" stroke="#505050" stroke-width="6.4"/>
<line x1="349.3" y1="388.4" x2="484.4" y2="351.6" stroke="#8c8c8c" stroke-width="4.8"/>
<line x1="349.3" y1="388.4" x2="484.4" y2="351.6" stroke="#a2a2a2" stroke-width="2.2"/>
<line x1="341.5" y1="320.3" x2="465.0" y2="386.4" stroke="#505050" stroke-width="7.0"/>
<line x1="341.5" y1="320.3" x2="465.0" y2="386.4" stroke="#8c8c8c" stroke-width="5.4"/>
<line x1="341.5" y1="320.3" x2="465.0" y2="386.4" stroke="#a2a2a2" stroke-width="2.4"/>
<line x1="303.1" y1="404.0" x2="440.5" y2="430.9" stroke="#505050" stroke-width="5.9"/>
<line x1="303.1" y1="404.0" x2="440.5" y2="430.9" stroke="#8c8c8c" stroke-width="4.3"/>
<line x1="303.1" y1="404.0" x2="440.5" y2="430.9" stroke="#a2a2a2" stroke-width="1.9"/>
<line x1="308.6" y1="352.2" x2="443.0" y2="391.4" stroke="#505050" stroke-width="6.3"/>
<line x1="308.6" y1="352.2" x2="443.0" y2="391.4" stroke="#8c8c8c" stroke-width="4.7"/>
<line x1="308.6" y1="352.2" x2="443.0" y2="391.4" stroke="#a2a2a2" stroke-width="2.1"/>
<line x1="264.5" y1="351.4" x2="400.9" y2="382.6" stroke="#505050" stroke-width="6.4"/>
<line x1="264.5" y1="351.4" x2="400.9" y2="382.6" stroke="#8c8c8c" stroke-width="4.8"/>
<line x1="264.5" y1="351.4" x2="400.9" y2="382.6" stroke="#a2a2a2" stroke-width="2.2"/>
<line x1="309.0" y1="383.3" x2="440.3" y2="334.7" stroke="#505050" stroke-width="6.8"/>
<line x1="309.0" y1="383.3" x2="440.3" y2="334.7" stroke="#8c8c8c" stroke-width="5.2"/>
<line x1="309.0" y1="383.3" x2="440.3" y2="334.7" stroke="#a2a2a2" stroke-width="2.3"/>
<line x1="332.6" y1="383.8" x2="454.1" y2="453.3" stroke="#505050" stroke-width="5.7"/>
<line x1="332.6" y1="383.8" x2="454.1" y2="453.3" stroke="#8c8c8c" stroke-width="4.1"/>
<line x1="332.6" y1="383.8" x2="454.1" y2="453.3" stroke="#a2a2a2" stroke-width="1.9"/>
<line x1="344.0" y1="388.1" x2="474.6" y2="438.6" stroke="#505050" stroke-width="7.1"/>
<line x1="344.0" y1="388.1" x2="474.6" y2="438.6" stroke="#8c8c8c" stroke-width="5.5"/>
<line x1="344.0" y1="388.1" x2="474.6" y2="438.6" stroke="#a2a2a2" stroke-width="2.5"/>
<line x1="354.8" y1="346.1" x2="358.6" y2="435.5" stroke="#505050" stroke-width="6.5"/>
<line x1="354.8" y1="346.1" x2="358.6" y2="435.5" stroke="#9a9a9a" stroke-width="4.9"/>
<line x1="354.8" y1="346.1" x2="358.6" y2="435.5" stroke="#b0b0b0" stroke-width="2.2"/>
<line x1="405.1" y1="346.1" x2="400.7" y2="435.5" stroke="#505050" stroke-width="6.1"/>
<line x1="405.1" y1="346.1" x2="400.7" y2="435.5" stroke="#9a9a9a" stroke-width="4.5"/>
<line x1="405.1" y1="346.1" x2="400.7" y2="435.5" stroke="#b0b0b0" stroke-width="2.0"/>
<line x1="394.6" y1="346.1" x2="402.8" y2="435.5" stroke="#505050" stroke-width="6.0"/>
<line x1="394.6" y1="346.1" x2="402.8" y2="435.5" stroke="#9a9a9a" stroke-width="4.4"/>
<line x1="394.6" y1="346.1" x2="402.8" y2="435.5" stroke="#b0b0b0" stroke-width="2.0"/>
<line x1="284.7" y1="333.5" x2="425.9" y2="408.7" stroke="#505050" stroke-width="7.6"/>
<line x1="284.7" y1="333.5" x2="425.9" y2="408.7" stroke="#b4b4b4" stroke-width="6.0"/>
<line x1="284.7" y1="333.5" x2="425.9" y2="408.7" stroke="#cdcdcd" stroke-width="2.7"/>
<line x1="311.1" y1="376.1" x2="459.5" y2="436.1" stroke="#505050" stroke-width="8.1"/>
<line x1="311.1" y1="376.1" x2="459.5" y2="436.1" stroke="#b4b4b4" stroke-width="6.5"/>
<line x1="311.1" y1="376.1" x2="459.5" y2="436.1" stroke="#cdcdcd" stroke-width="2.9"/>
<line x1="287.0" y1="404.5" x2="443.6" y2="437.7" stroke="#505050" stroke-width="7.6"/>
<line x1="287.0" y1="404.5" x2="443.6" y2="437.7" stroke="#b4b4b4" stroke-width="6.0"/>
<line x1="287.0" y1="404.5" x2="443.6" y2="437.7" stroke="#cdcdcd" stroke-width="2.7"/>
<line x1="316.1" y1="374.2" x2="474.5" y2="352.0" stroke="#505050" stroke-width="7.1"/>
<line x1="316.1" y1="374.2" x2="474.5" y2="352.0" stroke="#b4b4b4" stroke-width="5.5"/>
<line x1="316.1" y1="374.2" x2="474.5" y2="352.0" stroke="#cdcdcd" stroke-width="2.5"/>
<line x1="339.8" y1="355.2" x2="470.8" y2="447.0" stroke="#505050" stroke-width="7.1"/>
<line x1="339.8" y1="355.2" x2="470.8" y2="447.0" stroke="#b4b4b4" stroke-width="5.5"/>
<line x1="339.8" y1="355.2" x2="470.8" y2="447.0" stroke="#cdcdcd" stroke-width="2.5"/>
<line x1="269.2" y1="374.4" x2="421.4" y2="423.8" stroke="#505050" stroke-width="7.1"/>
<line x1="269.2" y1="374.4" x2="421.4" y2="423.8" stroke="#b4b4b4" stroke-width="5.5"/>
<line x1="269.2" y1="374.4" x2="421.4" y2="423.8" stroke="#cdcdcd" stroke-width="2.5"/>
<line x1="352.3" y1="346.1" x2="355.3" y2="435.5" stroke="#505050" stroke-width="7.1"/>
<line x1="352.3" y1="346.1" x2="355.3" y2="435.5" stroke="#b0b0b0" stroke-width="5.5"/>
<line x1="352.3" y1="346.1" x2="355.3" y2="435.5" stroke="#c8c8c8" stroke-width="2.5"/>
<line x1="369.3" y1="361.1" x2="375.3" y2="435.5" stroke="#505050" stroke-width="6.6"/>
<line x1="369.3" y1="361.1" x2="375.3" y2="435.5" stroke="#aaaaaa" stroke-width="5.0"/>
<line x1="369.3" y1="361.1" x2="375.3" y2="435.5" stroke="#c2c2c2" stroke-width="2.2"/>
<path d="M347.3,405.1 C345.3,399.1 351.3,395.1 355.3,395.1 C357.3,389.1 361.3,385.1 365.3,383.1 C365.3,377.1 369.3,371.1 375.3,373.1 C381.3,369.1 387.3,375.1 383.3,381.1 C387.3,385.1 383.3,391.1 377.3,391.1 C375.3,397.1 369.3,401.1 365.3,401.1 C363.3,407.1 357.3,411.1 351.3,409.1 C349.3,409.1 347.3,407.1 347.3,405.1 Z" fill="#a4a4a4" stroke="#d4d4d4" stroke-width="1.3"/>
<circle cx="387.3" cy="392.1" r="3.3" fill="#e0e0e0"/>
<rect x="325.3" y="351.1" width="91.6" height="79.4" fill="#000" filter="url(#semN)" opacity="0.3"/>
</g></g>
<g clip-path="url(#cBR)"><g filter="url(#soft)">
<rect x="419.8" y="351.1" width="91.8" height="79.4" fill="#949494"/>
<path d="M419.8,355.1 C429.8,351.1 453.8,353.1 461.8,363.1 C463.8,375.1 459.8,385.1 453.8,391.1 C441.8,395.1 427.8,395.1 419.8,393.1 Z" fill="#3c3c3c"/>
<path d="M419.8,401.1 C427.8,405.1 431.8,415.1 427.8,430.1 L419.8,430.1 Z" fill="#454545"/>
<path d="M416.5,326.6 Q427.3,355.2 438.9,383.4" fill="none" stroke="#4a4a4a" stroke-width="7.7"/>
<path d="M416.5,326.6 Q427.3,355.2 438.9,383.4" fill="none" stroke="#a8a8a8" stroke-width="4.0"/>
<path d="M440.3,361.4 Q435.2,385.2 432.2,409.4" fill="none" stroke="#4a4a4a" stroke-width="7.6"/>
<path d="M440.3,361.4 Q435.2,385.2 432.2,409.4" fill="none" stroke="#a8a8a8" stroke-width="4.0"/>
<path d="M453.8,346.4 Q439.1,353.9 424.9,362.4" fill="none" stroke="#4a4a4a" stroke-width="6.2"/>
<path d="M453.8,346.4 Q439.1,353.9 424.9,362.4" fill="none" stroke="#a8a8a8" stroke-width="3.3"/>
<path d="M462.7,324.4 Q451.4,350.3 436.3,374.2" fill="none" stroke="#4a4a4a" stroke-width="8.2"/>
<path d="M462.7,324.4 Q451.4,350.3 436.3,374.2" fill="none" stroke="#a8a8a8" stroke-width="4.3"/>
<path d="M450.8,372.0 Q427.6,386.5 403.0,398.1" fill="none" stroke="#4a4a4a" stroke-width="7.6"/>
<path d="M450.8,372.0 Q427.6,386.5 403.0,398.1" fill="none" stroke="#a8a8a8" stroke-width="4.0"/>
<path d="M429.8,397.1 C443.8,391.1 457.8,387.1 471.8,389.1 C489.8,393.1 505.8,397.1 511.8,403.1 L511.8,430.1 L431.8,430.1 Z" fill="#a2a2a2"/>
<path d="M477.8,353.1 C489.8,347.1 511.8,351.1 511.8,365.1 C509.8,381.1 495.8,387.1 485.8,381.1 C475.8,375.1 473.8,361.1 477.8,353.1 Z" fill="#9a9a9a" stroke="#e2e2e2" stroke-width="2"/>
<path d="M465.8,351.1 L466.8,395.1" stroke="#cfcfcf" stroke-width="3"/>
<circle cx="479.7" cy="401.2" r="1.4" fill="#d8d8d8"/>
<circle cx="464.4" cy="410.2" r="1.0" fill="#d8d8d8"/>
<circle cx="508.5" cy="393.2" r="1.5" fill="#d8d8d8"/>
<circle cx="486.8" cy="424.9" r="1.3" fill="#d8d8d8"/>
<circle cx="504.6" cy="396.3" r="1.4" fill="#d8d8d8"/>
<circle cx="455.2" cy="427.2" r="0.9" fill="#d8d8d8"/>
<circle cx="507.8" cy="412.4" r="1.3" fill="#d8d8d8"/>
<circle cx="452.4" cy="413.5" r="0.8" fill="#d8d8d8"/>
<circle cx="484.6" cy="398.9" r="1.4" fill="#d8d8d8"/>
<circle cx="463.3" cy="426.5" r="1.7" fill="#d8d8d8"/>
<circle cx="468.3" cy="413.1" r="1.1" fill="#d8d8d8"/>
<circle cx="479.5" cy="412.3" r="1.6" fill="#d8d8d8"/>
<circle cx="505.5" cy="397.7" r="1.8" fill="#d8d8d8"/>
<circle cx="476.5" cy="402.3" r="1.7" fill="#d8d8d8"/>
<circle cx="478.4" cy="415.0" r="1.2" fill="#d8d8d8"/>
<circle cx="474.7" cy="402.0" r="1.6" fill="#d8d8d8"/>
<circle cx="454.0" cy="407.6" r="1.0" fill="#d8d8d8"/>
<circle cx="454.3" cy="420.2" r="1.8" fill="#d8d8d8"/>
<circle cx="494.3" cy="426.9" r="1.5" fill="#d8d8d8"/>
<circle cx="490.9" cy="394.7" r="1.0" fill="#d8d8d8"/>
<circle cx="504.4" cy="402.3" r="1.3" fill="#d8d8d8"/>
<circle cx="469.2" cy="414.7" r="0.8" fill="#d8d8d8"/>
<circle cx="454.2" cy="413.7" r="1.8" fill="#d8d8d8"/>
<circle cx="466.6" cy="410.2" r="1.4" fill="#d8d8d8"/>
<circle cx="501.4" cy="410.7" r="0.9" fill="#d8d8d8"/>
<rect x="419.8" y="351.1" width="91.8" height="79.4" fill="#000" filter="url(#semN)" opacity="0.4"/>
</g></g>
<line x1="381.6" y1="343" x2="408.2" y2="343" stroke="#222" stroke-width="1.3"/>
<line x1="474.6" y1="343" x2="504" y2="343" stroke="#222" stroke-width="1.3"/>
<line x1="381.6" y1="425.6" x2="409.7" y2="425.6" stroke="#222" stroke-width="1.3"/>
<line x1="476" y1="425.6" x2="503" y2="425.6" stroke="#222" stroke-width="1.3"/>
<text x="282.7" y="470.5" font-size="15.6" fill="#222" stroke="#222" stroke-width="0.22">(b)</text>
<line x1="325.2" y1="493.5" x2="325.2" y2="619.8" stroke="#111" stroke-width="1.8"/>
<line x1="510.9" y1="493.5" x2="510.9" y2="619.8" stroke="#111" stroke-width="1.8"/>
<line x1="325.2" y1="619" x2="510.9" y2="619" stroke="#111" stroke-width="1.8"/>
<line x1="322.2" y1="619.0" x2="325.2" y2="619.0" stroke="#111" stroke-width="1.5"/>
<line x1="510.9" y1="619.0" x2="513.9" y2="619.0" stroke="#111" stroke-width="1.5"/>
<text x="318.9" y="622.6" font-size="10" fill="#222" text-anchor="end" stroke="#222" stroke-width="0.22">0</text>
<text x="517.5" y="622.6" font-size="10" fill="#222" stroke="#222" stroke-width="0.22">0</text>
<line x1="322.2" y1="598.2" x2="325.2" y2="598.2" stroke="#111" stroke-width="1.5"/>
<line x1="510.9" y1="598.2" x2="513.9" y2="598.2" stroke="#111" stroke-width="1.5"/>
<text x="318.9" y="601.8" font-size="10" fill="#222" text-anchor="end" stroke="#222" stroke-width="0.22">20</text>
<text x="517.5" y="601.8" font-size="10" fill="#222" stroke="#222" stroke-width="0.22">20</text>
<line x1="322.2" y1="577.3" x2="325.2" y2="577.3" stroke="#111" stroke-width="1.5"/>
<line x1="510.9" y1="577.3" x2="513.9" y2="577.3" stroke="#111" stroke-width="1.5"/>
<text x="318.9" y="580.9" font-size="10" fill="#222" text-anchor="end" stroke="#222" stroke-width="0.22">40</text>
<text x="517.5" y="580.9" font-size="10" fill="#222" stroke="#222" stroke-width="0.22">40</text>
<line x1="322.2" y1="556.5" x2="325.2" y2="556.5" stroke="#111" stroke-width="1.5"/>
<line x1="510.9" y1="556.5" x2="513.9" y2="556.5" stroke="#111" stroke-width="1.5"/>
<text x="318.9" y="560.1" font-size="10" fill="#222" text-anchor="end" stroke="#222" stroke-width="0.22">60</text>
<text x="517.5" y="560.1" font-size="10" fill="#222" stroke="#222" stroke-width="0.22">60</text>
<line x1="322.2" y1="535.7" x2="325.2" y2="535.7" stroke="#111" stroke-width="1.5"/>
<line x1="510.9" y1="535.7" x2="513.9" y2="535.7" stroke="#111" stroke-width="1.5"/>
<text x="318.9" y="539.3" font-size="10" fill="#222" text-anchor="end" stroke="#222" stroke-width="0.22">80</text>
<text x="517.5" y="539.3" font-size="10" fill="#222" stroke="#222" stroke-width="0.22">80</text>
<line x1="322.2" y1="514.8" x2="325.2" y2="514.8" stroke="#111" stroke-width="1.5"/>
<line x1="510.9" y1="514.8" x2="513.9" y2="514.8" stroke="#111" stroke-width="1.5"/>
<text x="318.9" y="518.4" font-size="10" fill="#222" text-anchor="end" stroke="#222" stroke-width="0.22">100</text>
<text x="517.5" y="518.4" font-size="10" fill="#222" stroke="#222" stroke-width="0.22">100</text>
<line x1="322.2" y1="494.0" x2="325.2" y2="494.0" stroke="#111" stroke-width="1.5"/>
<line x1="510.9" y1="494.0" x2="513.9" y2="494.0" stroke="#111" stroke-width="1.5"/>
<text x="318.9" y="497.6" font-size="10" fill="#222" text-anchor="end" stroke="#222" stroke-width="0.22">120</text>
<text x="517.5" y="497.6" font-size="10" fill="#222" stroke="#222" stroke-width="0.22">120</text>
<line x1="331.4" y1="619" x2="331.4" y2="622" stroke="#111" stroke-width="1.3"/>
<text x="332.2" y="636.8" font-size="9.8" fill="#222" text-anchor="middle" stroke="#222" stroke-width="0.22">0.001</text>
<line x1="391.2" y1="619" x2="391.2" y2="622" stroke="#111" stroke-width="1.3"/>
<text x="392.0" y="636.8" font-size="9.8" fill="#222" text-anchor="middle" stroke="#222" stroke-width="0.22">0.01</text>
<line x1="451.0" y1="619" x2="451.0" y2="622" stroke="#111" stroke-width="1.3"/>
<text x="451.8" y="636.8" font-size="9.8" fill="#222" text-anchor="middle" stroke="#222" stroke-width="0.22">0.1</text>
<line x1="510.8" y1="619" x2="510.8" y2="622" stroke="#111" stroke-width="1.3"/>
<text x="511.6" y="636.8" font-size="9.8" fill="#222" text-anchor="middle" stroke="#222" stroke-width="0.22">1</text>
<text x="424.6" y="651.6" font-size="10" fill="#222" text-anchor="middle" stroke="#222" stroke-width="0.22">Doxorucin Concentration (μM)</text>
<text transform="translate(292.3,549.0) rotate(-90)" font-size="10" fill="#222" stroke="#222" stroke-width="0.22" text-anchor="middle" dominant-baseline="central">% Cell Viability</text>
<text transform="translate(542.6,556.6) rotate(90)" font-size="10" fill="#222" stroke="#222" stroke-width="0.22" text-anchor="middle" dominant-baseline="central">% Tumor Volume</text>
<path d="M331.4,523.2 L331.4,506.5 M328.4,523.2 L334.4,523.2 M328.4,506.5 L334.4,506.5" stroke="#333" stroke-width="0.9" fill="none"/>
<path d="M331.4,532.5 L331.4,497.1 M328.4,532.5 L334.4,532.5 M328.4,497.1 L334.4,497.1" stroke="#eaa33c" stroke-width="0.9" fill="none"/>
<path d="M415.0,528.4 L415.0,516.9 M412.0,528.4 L418.0,528.4 M412.0,516.9 L418.0,516.9" stroke="#eaa33c" stroke-width="0.9" fill="none"/>
<path d="M437.7,556.5 L437.7,497.1 M434.7,556.5 L440.7,556.5 M434.7,497.1 L440.7,497.1" stroke="#eaa33c" stroke-width="0.9" fill="none"/>
<path d="M457.8,559.6 L457.8,552.3 M455.4,559.6 L460.2,559.6 M455.4,552.3 L460.2,552.3" stroke="#eaa33c" stroke-width="0.9" fill="none"/>
<path d="M469.0,572.1 L469.0,566.9 M466.6,572.1 L471.4,572.1 M466.6,566.9 L471.4,566.9" stroke="#eaa33c" stroke-width="0.9" fill="none"/>
<path d="M474.8,590.9 L474.8,573.2 M471.8,590.9 L477.8,590.9 M471.8,573.2 L477.8,573.2" stroke="#eaa33c" stroke-width="0.9" fill="none"/>
<path d="M451.0,518.0 L451.0,512.7 M448.4,518.0 L453.6,518.0 M448.4,512.7 L453.6,512.7" stroke="#14977b" stroke-width="0.9" fill="none"/>
<path d="M492.8,526.3 L492.8,515.9 M490.2,526.3 L495.4,526.3 M490.2,515.9 L495.4,515.9" stroke="#14977b" stroke-width="0.9" fill="none"/>
<path d="M331.4,524.2 L331.4,514.8 M328.8,524.2 L334.0,524.2 M328.8,514.8 L334.0,514.8" stroke="#14977b" stroke-width="0.9" fill="none"/>
<path d="M331.4,518.0 L334.4,518.5 L337.5,519.2 L340.5,519.9 L343.6,520.8 L346.6,521.8 L349.6,522.9 L352.7,524.3 L355.7,525.8 L358.8,527.6 L361.8,529.5 L364.8,531.8 L367.9,534.3 L370.9,537.0 L374.0,540.1 L377.0,543.4 L380.1,546.9 L383.1,550.8 L386.1,554.8 L389.2,558.9 L392.2,563.2 L395.3,567.5 L398.3,571.8 L401.3,576.1 L404.4,580.2 L407.4,584.2 L410.5,587.9 L413.5,591.4 L416.5,594.6 L419.6,597.6 L422.6,600.3 L425.7,602.7 L428.7,604.9 L431.7,606.8 L434.8,608.5 L437.8,609.9 L440.9,611.2 L443.9,612.3 L446.9,613.3 L450.0,614.1 L453.0,614.8 L456.1,615.5 L459.1,616.0 L462.1,616.4 L465.2,616.8 L468.2,617.2 L471.3,617.4 L474.3,617.7 L477.4,617.9 L480.4,618.0 L483.4,618.2 L486.5,618.3 L489.5,618.4 L492.6,618.5 L495.6,618.6 L498.6,618.6 L501.7,618.7 L504.7,618.7 L507.8,618.8 L510.8,618.8" fill="none" stroke="#111" stroke-width="1.6"/>
<path d="M331.4,514.8 L335.1,514.8 L338.7,514.8 L342.4,514.8 L346.0,514.8 L349.7,514.8 L353.4,514.8 L357.0,514.8 L360.7,514.8 L364.4,514.8 L368.0,514.8 L371.7,514.8 L375.3,514.8 L379.0,514.8 L382.7,514.8 L386.3,514.8 L390.0,514.8 L393.6,514.8 L397.3,514.8 L401.0,514.8 L404.6,514.8 L408.3,514.8 L411.9,514.8 L415.6,514.8 L419.3,514.9 L422.9,514.9 L426.6,514.9 L430.3,514.9 L433.9,514.9 L437.6,514.9 L441.2,514.9 L444.9,515.0 L448.6,515.0 L452.2,515.1 L455.9,515.2 L459.5,515.3 L463.2,515.4 L466.9,515.6 L470.5,515.8 L474.2,516.2 L477.8,516.6 L481.5,517.1 L485.2,517.8 L488.8,518.8 L492.5,520.0 L496.2,521.5 L499.8,523.4 L503.5,525.9 L507.1,528.9 L510.8,532.6" fill="none" stroke="#14977b" stroke-width="1.6"/>
<path d="M331.4,514.8 L334.3,514.9 L337.3,514.9 L340.2,514.9 L343.1,514.9 L346.0,514.9 L349.0,514.9 L351.9,514.9 L354.8,514.9 L357.7,514.9 L360.7,515.0 L363.6,515.0 L366.5,515.0 L369.4,515.0 L372.4,515.1 L375.3,515.1 L378.2,515.2 L381.1,515.3 L384.1,515.4 L387.0,515.5 L389.9,515.6 L392.9,515.8 L395.8,516.0 L398.7,516.3 L401.6,516.6 L404.6,516.9 L407.5,517.3 L410.4,517.9 L413.3,518.5 L416.3,519.2 L419.2,520.1 L422.1,521.1 L425.0,522.4 L428.0,523.8 L430.9,525.5 L433.8,527.5 L436.8,529.8 L439.7,532.4 L442.6,535.4 L445.5,538.8 L448.5,542.5 L451.4,546.5 L454.3,550.9 L457.2,555.6 L460.2,560.4 L463.1,565.4 L466.0,570.3 L468.9,575.3 L471.9,580.0 L474.8,584.6" fill="none" stroke="#eaa33c" stroke-width="1.6"/>
<circle cx="415.0" cy="593.0" r="2.5" fill="#111"/>
<circle cx="433.0" cy="609.6" r="2.5" fill="#111"/>
<circle cx="451.0" cy="609.6" r="2.5" fill="#111"/>
<circle cx="492.8" cy="614.8" r="2.5" fill="#111"/>
<circle cx="510.8" cy="615.9" r="2.5" fill="#111"/>
<rect x="329.0" y="516.6" width="4.8" height="4.8" fill="#14977b"/>
<rect x="412.6" y="517.6" width="4.8" height="4.8" fill="#14977b"/>
<rect x="430.6" y="514.5" width="4.8" height="4.8" fill="#14977b"/>
<rect x="448.6" y="512.4" width="4.8" height="4.8" fill="#14977b"/>
<rect x="490.4" y="518.7" width="4.8" height="4.8" fill="#14977b"/>
<rect x="508.4" y="530.1" width="4.8" height="4.8" fill="#14977b"/>
<path d="M331.4,512.2 L333.9,516.7 L328.9,516.7 Z" fill="#eaa33c"/>
<path d="M415.0,519.5 L417.5,523.9 L412.5,523.9 Z" fill="#eaa33c"/>
<path d="M437.7,526.8 L440.2,531.2 L435.3,531.2 Z" fill="#eaa33c"/>
<path d="M457.8,553.9 L460.3,558.3 L455.3,558.3 Z" fill="#eaa33c"/>
<path d="M469.0,567.4 L471.5,571.9 L466.5,571.9 Z" fill="#eaa33c"/>
<path d="M474.8,579.9 L477.3,584.4 L472.3,584.4 Z" fill="#eaa33c"/>
<text x="415.0" y="514.2" font-size="8" fill="#222" text-anchor="middle" font-weight="bold" stroke="#222" stroke-width="0.22">*</text>
<text x="433.0" y="514.2" font-size="8" fill="#222" text-anchor="middle" font-weight="bold" stroke="#222" stroke-width="0.22">*</text>
<text x="451.0" y="514.2" font-size="8" fill="#222" text-anchor="middle" font-weight="bold" stroke="#222" stroke-width="0.22">*</text>
<text x="492.8" y="514.2" font-size="8" fill="#222" text-anchor="middle" font-weight="bold" stroke="#222" stroke-width="0.22">*</text>
<text x="510.8" y="528.7" font-size="8" fill="#222" text-anchor="middle" font-weight="bold" stroke="#222" stroke-width="0.22">*</text>
<circle cx="341.2" cy="584.4" r="2.4" fill="#111"/>
<rect x="338.8" y="592.0" width="4.8" height="4.8" fill="#1d8068"/>
<path d="M341.2,601.9 L343.5,606.0 L338.9,606.0 Z" fill="#c9a04a"/>
<text x="350.8" y="588.2" font-size="10" fill="#111" font-weight="bold" stroke="#111" stroke-width="0.22">2D</text>
<text x="350.8" y="598.1" font-size="10" fill="#111" font-weight="bold" stroke="#111" stroke-width="0.22">3D</text>
<text x="350.8" y="607.8" font-size="10" fill="#111" font-weight="bold" font-style="italic" stroke="#111" stroke-width="0.22">In vivo</text>
<text x="563.8" y="244.2" font-size="16.3" fill="#111" font-weight="bold" stroke="#111" stroke-width="0.55">D</text>
<text x="569.6" y="266.0" font-size="15.6" fill="#222" stroke="#222" stroke-width="0.22">(a)</text>
<text x="639.3" y="265.2" font-size="10" fill="#333" text-anchor="middle" stroke="#333" stroke-width="0.22">Monolayer culture</text>
<text x="640.7" y="277.4" font-size="10" fill="#333" text-anchor="middle" stroke="#333" stroke-width="0.22">(2-D)</text>
<text x="753.0" y="265.3" font-size="10" fill="#333" text-anchor="middle" stroke="#333" stroke-width="0.22">Spheroids in 2-D</text>
<ellipse cx="640.6" cy="295.6" rx="31.5" ry="12.6" fill="url(#dishg)" stroke="#555" stroke-width="1.2"/>
<circle cx="616" cy="293" r="2.2" fill="#f4f4f6" stroke="#c2bcae" stroke-width="0.8"/>
<circle cx="624" cy="290" r="2.2" fill="#f4f4f6" stroke="#c2bcae" stroke-width="0.8"/>
<circle cx="632" cy="288" r="2.2" fill="#f4f4f6" stroke="#c2bcae" stroke-width="0.8"/>
<circle cx="641" cy="289" r="2.2" fill="#f4f4f6" stroke="#c2bcae" stroke-width="0.8"/>
<circle cx="650" cy="287" r="2.2" fill="#f4f4f6" stroke="#c2bcae" stroke-width="0.8"/>
<circle cx="630" cy="297" r="2.2" fill="#f4f4f6" stroke="#c2bcae" stroke-width="0.8"/>
<circle cx="638" cy="296" r="2.2" fill="#f4f4f6" stroke="#c2bcae" stroke-width="0.8"/>
<circle cx="647" cy="299" r="2.2" fill="#f4f4f6" stroke="#c2bcae" stroke-width="0.8"/>
<circle cx="655" cy="296" r="2.2" fill="#f4f4f6" stroke="#c2bcae" stroke-width="0.8"/>
<circle cx="664" cy="298" r="2.2" fill="#f4f4f6" stroke="#c2bcae" stroke-width="0.8"/>
<circle cx="624" cy="300" r="2.2" fill="#f4f4f6" stroke="#c2bcae" stroke-width="0.8"/>
<circle cx="635" cy="302" r="2.2" fill="#f4f4f6" stroke="#c2bcae" stroke-width="0.8"/>
<ellipse cx="752.9" cy="295.8" rx="31.6" ry="12.8" fill="url(#dishg)" stroke="#555" stroke-width="1.2"/>
<circle cx="737" cy="284.5" r="3.4" fill="#e0d9c8" stroke="#b3a78e" stroke-width="0.8"/>
<circle cx="737" cy="284.5" r="1.5" fill="none" stroke="#bcae94" stroke-width="0.6"/>
<circle cx="748" cy="283.5" r="3.4" fill="#e0d9c8" stroke="#b3a78e" stroke-width="0.8"/>
<circle cx="748" cy="283.5" r="1.5" fill="none" stroke="#bcae94" stroke-width="0.6"/>
<circle cx="730" cy="291" r="3.4" fill="#e0d9c8" stroke="#b3a78e" stroke-width="0.8"/>
<circle cx="730" cy="291" r="1.5" fill="none" stroke="#bcae94" stroke-width="0.6"/>
<circle cx="745" cy="296" r="3.4" fill="#e0d9c8" stroke="#b3a78e" stroke-width="0.8"/>
<circle cx="745" cy="296" r="1.5" fill="none" stroke="#bcae94" stroke-width="0.6"/>
<circle cx="763" cy="291" r="3.4" fill="#e0d9c8" stroke="#b3a78e" stroke-width="0.8"/>
<circle cx="763" cy="291" r="1.5" fill="none" stroke="#bcae94" stroke-width="0.6"/>
<circle cx="776" cy="290" r="3.4" fill="#e0d9c8" stroke="#b3a78e" stroke-width="0.8"/>
<circle cx="776" cy="290" r="1.5" fill="none" stroke="#bcae94" stroke-width="0.6"/>
<circle cx="733" cy="299" r="3.4" fill="#e0d9c8" stroke="#b3a78e" stroke-width="0.8"/>
<circle cx="733" cy="299" r="1.5" fill="none" stroke="#bcae94" stroke-width="0.6"/>
<circle cx="752" cy="301" r="3.4" fill="#e0d9c8" stroke="#b3a78e" stroke-width="0.8"/>
<circle cx="752" cy="301" r="1.5" fill="none" stroke="#bcae94" stroke-width="0.6"/>
<circle cx="772" cy="298" r="3.4" fill="#e0d9c8" stroke="#b3a78e" stroke-width="0.8"/>
<circle cx="772" cy="298" r="1.5" fill="none" stroke="#bcae94" stroke-width="0.6"/>
<line x1="685.3" y1="294" x2="709" y2="294" stroke="#222" stroke-width="1.1"/>
<path d="M708,292.2 L712,294 L708,295.8 Z" fill="#222"/>
<line x1="642.3" y1="321.8" x2="642.3" y2="345" stroke="#2a2a2a" stroke-width="1.35"/>
<path d="M640.5,344 L642.3,348 L644.0999999999999,344 Z" fill="#2a2a2a"/>
<line x1="642.3" y1="334.6" x2="653" y2="334.6" stroke="#2a2a2a" stroke-width="1.4"/>
<line x1="754.4" y1="321.8" x2="754.4" y2="345" stroke="#2a2a2a" stroke-width="1.35"/>
<path d="M752.6,344 L754.4,348 L756.1999999999999,344 Z" fill="#2a2a2a"/>
<line x1="743.2" y1="334.6" x2="754.4" y2="334.6" stroke="#2a2a2a" stroke-width="1.4"/>
<path d="M665.5,327.8 L665.5,339.6 A32.4,12.0 0 0 0 730.3,339.6 L730.3,327.8 Z" fill="#ececef" stroke="#444" stroke-width="1.3"/>
<ellipse cx="697.9" cy="327.8" rx="32.4" ry="12.0" fill="#dfe0e7"/>
<path d="M665.5,327.8 A32.4,12.0 0 0 0 730.3,327.8" fill="none" stroke="#b0b0b8" stroke-width="0.9"/>
<path d="M665.5,327.8 A32.4,12.0 0 0 1 730.3,327.8" fill="none" stroke="#444" stroke-width="1.3"/>
<text x="698.7" y="365.3" font-size="10" fill="#333" text-anchor="middle" stroke="#333" stroke-width="0.22">Scaffold</text>
<path d="M609.4,372.6 L609.4,381.8 A32.9,14.2 0 0 0 675.2,381.8 L675.2,372.6 Z" fill="#efeff1" stroke="#444" stroke-width="1.2"/>
<ellipse cx="642.3" cy="372.6" rx="32.9" ry="14.2" fill="#e6e6ea"/>
<path d="M609.4,372.6 A32.9,14.2 0 0 0 675.2,372.6" fill="none" stroke="#9a9aa2" stroke-width="0.9"/>
<path d="M609.4,372.6 A32.9,14.2 0 0 1 675.2,372.6" fill="none" stroke="#444" stroke-width="1.2"/>
<circle cx="627.5" cy="385.7" r="1.9" fill="none" stroke="#bcbcc2" stroke-width="0.7"/>
<circle cx="622.1" cy="379.5" r="1.9" fill="none" stroke="#bcbcc2" stroke-width="0.7"/>
<circle cx="619.9" cy="368.5" r="1.9" fill="none" stroke="#bcbcc2" stroke-width="0.7"/>
<circle cx="669.3" cy="367.6" r="1.9" fill="none" stroke="#bcbcc2" stroke-width="0.7"/>
<circle cx="650.0" cy="373.6" r="1.9" fill="none" stroke="#bcbcc2" stroke-width="0.7"/>
<circle cx="639.8" cy="374.5" r="1.9" fill="none" stroke="#bcbcc2" stroke-width="0.7"/>
<circle cx="625.7" cy="382.5" r="1.9" fill="none" stroke="#bcbcc2" stroke-width="0.7"/>
<circle cx="620.1" cy="368.2" r="1.9" fill="none" stroke="#bcbcc2" stroke-width="0.7"/>
<circle cx="616.4" cy="369.0" r="1.9" fill="none" stroke="#bcbcc2" stroke-width="0.7"/>
<circle cx="637.3" cy="384.2" r="1.9" fill="none" stroke="#bcbcc2" stroke-width="0.7"/>
<circle cx="635.8" cy="365.3" r="1.9" fill="none" stroke="#bcbcc2" stroke-width="0.7"/>
<circle cx="629.3" cy="386.4" r="1.9" fill="none" stroke="#bcbcc2" stroke-width="0.7"/>
<circle cx="618.7" cy="377.5" r="1.9" fill="none" stroke="#bcbcc2" stroke-width="0.7"/>
<circle cx="635.7" cy="378.5" r="1.9" fill="none" stroke="#bcbcc2" stroke-width="0.7"/>
<circle cx="633.6" cy="379.2" r="1.9" fill="none" stroke="#bcbcc2" stroke-width="0.7"/>
<circle cx="642.2" cy="378.2" r="1.9" fill="none" stroke="#bcbcc2" stroke-width="0.7"/>
<circle cx="664.0" cy="376.6" r="1.9" fill="none" stroke="#bcbcc2" stroke-width="0.7"/>
<circle cx="623.0" cy="364.1" r="1.9" fill="none" stroke="#bcbcc2" stroke-width="0.7"/>
<path d="M722.0,372.6 L722.0,381.8 A32.4,14.2 0 0 0 786.8,381.8 L786.8,372.6 Z" fill="#eeeef0" stroke="#444" stroke-width="1.2"/>
<ellipse cx="754.4" cy="372.6" rx="32.4" ry="14.2" fill="#e4e4e8"/>
<path d="M722.0,372.6 A32.4,14.2 0 0 0 786.8,372.6" fill="none" stroke="#9a9aa2" stroke-width="0.9"/>
<path d="M722.0,372.6 A32.4,14.2 0 0 1 786.8,372.6" fill="none" stroke="#444" stroke-width="1.2"/>
<circle cx="732.9" cy="370.6" r="2.2" fill="#c6c6cc" stroke="#8e8e98" stroke-width="0.6"/>
<circle cx="733.7" cy="368.7" r="2.2" fill="#c6c6cc" stroke="#8e8e98" stroke-width="0.6"/>
<circle cx="730.8" cy="369.5" r="2.2" fill="#c6c6cc" stroke="#8e8e98" stroke-width="0.6"/>
<circle cx="732.0" cy="371.1" r="2.2" fill="#c6c6cc" stroke="#8e8e98" stroke-width="0.6"/>
<circle cx="741.8" cy="366.9" r="2.2" fill="#c6c6cc" stroke="#8e8e98" stroke-width="0.6"/>
<circle cx="741.3" cy="367.1" r="2.2" fill="#c6c6cc" stroke="#8e8e98" stroke-width="0.6"/>
<circle cx="739.4" cy="366.3" r="2.2" fill="#c6c6cc" stroke="#8e8e98" stroke-width="0.6"/>
<circle cx="739.5" cy="368.0" r="2.2" fill="#c6c6cc" stroke="#8e8e98" stroke-width="0.6"/>
<circle cx="757.6" cy="367.6" r="2.2" fill="#c6c6cc" stroke="#8e8e98" stroke-width="0.6"/>
<circle cx="757.6" cy="367.2" r="2.2" fill="#c6c6cc" stroke="#8e8e98" stroke-width="0.6"/>
<circle cx="758.8" cy="366.2" r="2.2" fill="#c6c6cc" stroke="#8e8e98" stroke-width="0.6"/>
<circle cx="761.0" cy="364.8" r="2.2" fill="#c6c6cc" stroke="#8e8e98" stroke-width="0.6"/>
<circle cx="769.6" cy="370.0" r="2.2" fill="#c6c6cc" stroke="#8e8e98" stroke-width="0.6"/>
<circle cx="771.5" cy="367.0" r="2.2" fill="#c6c6cc" stroke="#8e8e98" stroke-width="0.6"/>
<circle cx="773.6" cy="370.1" r="2.2" fill="#c6c6cc" stroke="#8e8e98" stroke-width="0.6"/>
<circle cx="769.8" cy="368.2" r="2.2" fill="#c6c6cc" stroke="#8e8e98" stroke-width="0.6"/>
<circle cx="743.4" cy="374.3" r="2.2" fill="#c6c6cc" stroke="#8e8e98" stroke-width="0.6"/>
<circle cx="745.5" cy="373.8" r="2.2" fill="#c6c6cc" stroke="#8e8e98" stroke-width="0.6"/>
<circle cx="745.9" cy="373.4" r="2.2" fill="#c6c6cc" stroke="#8e8e98" stroke-width="0.6"/>
<circle cx="743.6" cy="376.1" r="2.2" fill="#c6c6cc" stroke="#8e8e98" stroke-width="0.6"/>
<circle cx="762.6" cy="376.7" r="2.2" fill="#c6c6cc" stroke="#8e8e98" stroke-width="0.6"/>
<circle cx="763.4" cy="376.9" r="2.2" fill="#c6c6cc" stroke="#8e8e98" stroke-width="0.6"/>
<circle cx="762.5" cy="375.3" r="2.2" fill="#c6c6cc" stroke="#8e8e98" stroke-width="0.6"/>
<circle cx="764.0" cy="378.7" r="2.2" fill="#c6c6cc" stroke="#8e8e98" stroke-width="0.6"/>
<circle cx="754.1" cy="380.6" r="2.2" fill="#c6c6cc" stroke="#8e8e98" stroke-width="0.6"/>
<circle cx="751.4" cy="379.5" r="2.2" fill="#c6c6cc" stroke="#8e8e98" stroke-width="0.6"/>
<circle cx="752.8" cy="380.6" r="2.2" fill="#c6c6cc" stroke="#8e8e98" stroke-width="0.6"/>
<circle cx="750.3" cy="379.0" r="2.2" fill="#c6c6cc" stroke="#8e8e98" stroke-width="0.6"/>
<circle cx="773.4" cy="381.5" r="2.2" fill="#c6c6cc" stroke="#8e8e98" stroke-width="0.6"/>
<circle cx="775.4" cy="381.5" r="2.2" fill="#c6c6cc" stroke="#8e8e98" stroke-width="0.6"/>
<circle cx="771.9" cy="382.7" r="2.2" fill="#c6c6cc" stroke="#8e8e98" stroke-width="0.6"/>
<circle cx="773.7" cy="381.6" r="2.2" fill="#c6c6cc" stroke="#8e8e98" stroke-width="0.6"/>
<circle cx="730.8" cy="379.7" r="2.2" fill="#c6c6cc" stroke="#8e8e98" stroke-width="0.6"/>
<circle cx="731.5" cy="381.0" r="2.2" fill="#c6c6cc" stroke="#8e8e98" stroke-width="0.6"/>
<circle cx="730.3" cy="380.2" r="2.2" fill="#c6c6cc" stroke="#8e8e98" stroke-width="0.6"/>
<circle cx="730.6" cy="380.7" r="2.2" fill="#c6c6cc" stroke="#8e8e98" stroke-width="0.6"/>
<circle cx="747.0" cy="386.2" r="2.2" fill="#c6c6cc" stroke="#8e8e98" stroke-width="0.6"/>
<circle cx="748.3" cy="387.5" r="2.2" fill="#c6c6cc" stroke="#8e8e98" stroke-width="0.6"/>
<circle cx="747.0" cy="386.9" r="2.2" fill="#c6c6cc" stroke="#8e8e98" stroke-width="0.6"/>
<circle cx="747.7" cy="386.2" r="2.2" fill="#c6c6cc" stroke="#8e8e98" stroke-width="0.6"/>
<circle cx="766.9" cy="387.7" r="2.2" fill="#c6c6cc" stroke="#8e8e98" stroke-width="0.6"/>
<circle cx="766.9" cy="387.6" r="2.2" fill="#c6c6cc" stroke="#8e8e98" stroke-width="0.6"/>
<circle cx="765.5" cy="387.5" r="2.2" fill="#c6c6cc" stroke="#8e8e98" stroke-width="0.6"/>
<circle cx="766.4" cy="384.9" r="2.2" fill="#c6c6cc" stroke="#8e8e98" stroke-width="0.6"/>
<text x="639.5" y="409.6" font-size="10" fill="#333" text-anchor="middle" stroke="#333" stroke-width="0.22">Scaffold seeded</text>
<text x="640.8" y="420.8" font-size="10" fill="#333" text-anchor="middle" stroke="#333" stroke-width="0.22">with monolayer</text>
<text x="640.1" y="432.0" font-size="10" fill="#333" text-anchor="middle" stroke="#333" stroke-width="0.22">-cultured cells (MS)</text>
<text x="756.3" y="413.3" font-size="10" fill="#333" text-anchor="middle" stroke="#333" stroke-width="0.22">Spheroid-seeded</text>
<text x="756.2" y="424.5" font-size="10" fill="#333" text-anchor="middle" stroke="#333" stroke-width="0.22">scaffold (SS)</text>
<text x="568.7" y="467.4" font-size="15.6" fill="#222" stroke="#222" stroke-width="0.22">(b)</text>
<rect x="605.5" y="491.7" width="191.7" height="126.6" fill="none" stroke="#666" stroke-width="1.2"/>
<text x="601.2" y="600.2" font-size="10" fill="#222" text-anchor="end" stroke="#222" stroke-width="0.22">0</text>
<text x="601.2" y="579.4" font-size="10" fill="#222" text-anchor="end" stroke="#222" stroke-width="0.22">20</text>
<text x="601.2" y="558.6" font-size="10" fill="#222" text-anchor="end" stroke="#222" stroke-width="0.22">40</text>
<text x="601.2" y="537.7" font-size="10" fill="#222" text-anchor="end" stroke="#222" stroke-width="0.22">60</text>
<text x="601.2" y="516.9" font-size="10" fill="#222" text-anchor="end" stroke="#222" stroke-width="0.22">80</text>
<text x="601.2" y="496.1" font-size="10" fill="#222" text-anchor="end" stroke="#222" stroke-width="0.22">100</text>
<text x="607.9" y="637.4" font-size="9.8" fill="#222" text-anchor="middle" stroke="#222" stroke-width="0.22">0.001</text>
<text x="641.9" y="637.4" font-size="9.8" fill="#222" text-anchor="middle" stroke="#222" stroke-width="0.22">0.01</text>
<text x="676.0" y="637.4" font-size="9.8" fill="#222" text-anchor="middle" stroke="#222" stroke-width="0.22">0.1</text>
<text x="710.7" y="637.4" font-size="9.8" fill="#222" text-anchor="middle" stroke="#222" stroke-width="0.22">1</text>
<text x="746.0" y="637.4" font-size="9.8" fill="#222" text-anchor="middle" stroke="#222" stroke-width="0.22">10</text>
<text x="782.9" y="637.4" font-size="9.8" fill="#222" text-anchor="middle" stroke="#222" stroke-width="0.22">100</text>
<text x="708.5" y="651.6" font-size="10" fill="#222" text-anchor="middle" stroke="#222" stroke-width="0.22">Doxorucin Concentration (μM)</text>
<text transform="translate(576.6,548.5) rotate(-90)" font-size="10" fill="#222" stroke="#222" stroke-width="0.22" text-anchor="middle" dominant-baseline="central">% Cell death</text>
<g clip-path="url(#cDb)">
<path d="M605.2,602.8 L605.2,596.6 M602.8,602.8 L607.6,602.8 M602.8,596.6 L607.6,596.6" stroke="#d8303c" stroke-width="0.8" fill="none"/>
<path d="M621.9,607.0 L621.9,598.7 M619.5,607.0 L624.3,607.0 M619.5,598.7 L624.3,598.7" stroke="#d8303c" stroke-width="0.8" fill="none"/>
<path d="M640.2,589.3 L640.2,583.1 M637.8,589.3 L642.6,589.3 M637.8,583.1 L642.6,583.1" stroke="#d8303c" stroke-width="0.8" fill="none"/>
<path d="M656.9,571.6 L656.9,567.5 M654.5,571.6 L659.3,571.6 M654.5,567.5 L659.3,567.5" stroke="#d8303c" stroke-width="0.8" fill="none"/>
<path d="M675.2,542.5 L675.2,538.3 M672.8,542.5 L677.6,542.5 M672.8,538.3 L677.6,538.3" stroke="#d8303c" stroke-width="0.8" fill="none"/>
<path d="M691.9,515.4 L691.9,509.2 M689.5,515.4 L694.3,515.4 M689.5,509.2 L694.3,509.2" stroke="#d8303c" stroke-width="0.8" fill="none"/>
<path d="M710.2,509.2 L710.2,496.7 M707.8,509.2 L712.6,509.2 M707.8,496.7 L712.6,496.7" stroke="#d8303c" stroke-width="0.8" fill="none"/>
<path d="M726.9,515.4 L726.9,507.1 M724.5,515.4 L729.3,515.4 M724.5,507.1 L729.3,507.1" stroke="#d8303c" stroke-width="0.8" fill="none"/>
<path d="M745.2,511.2 L745.2,500.8 M742.8,511.2 L747.6,511.2 M742.8,500.8 L747.6,500.8" stroke="#d8303c" stroke-width="0.8" fill="none"/>
<path d="M605.2,599.7 L605.2,593.5 M602.8,599.7 L607.6,599.7 M602.8,593.5 L607.6,593.5" stroke="#f0a23a" stroke-width="0.8" fill="none"/>
<path d="M621.9,607.0 L621.9,596.6 M619.5,607.0 L624.3,607.0 M619.5,596.6 L624.3,596.6" stroke="#f0a23a" stroke-width="0.8" fill="none"/>
<path d="M640.2,590.4 L640.2,582.0 M637.8,590.4 L642.6,590.4 M637.8,582.0 L642.6,582.0" stroke="#f0a23a" stroke-width="0.8" fill="none"/>
<path d="M656.9,591.4 L656.9,585.1 M654.5,591.4 L659.3,591.4 M654.5,585.1 L659.3,585.1" stroke="#f0a23a" stroke-width="0.8" fill="none"/>
<path d="M675.2,581.0 L675.2,572.7 M672.8,581.0 L677.6,581.0 M672.8,572.7 L677.6,572.7" stroke="#f0a23a" stroke-width="0.8" fill="none"/>
<path d="M691.9,560.2 L691.9,553.9 M689.5,560.2 L694.3,560.2 M689.5,553.9 L694.3,553.9" stroke="#f0a23a" stroke-width="0.8" fill="none"/>
<path d="M710.2,543.5 L710.2,535.2 M707.8,543.5 L712.6,543.5 M707.8,535.2 L712.6,535.2" stroke="#f0a23a" stroke-width="0.8" fill="none"/>
<path d="M726.9,548.7 L726.9,542.5 M724.5,548.7 L729.3,548.7 M724.5,542.5 L729.3,542.5" stroke="#f0a23a" stroke-width="0.8" fill="none"/>
<path d="M745.2,542.5 L745.2,536.2 M742.8,542.5 L747.6,542.5 M742.8,536.2 L747.6,536.2" stroke="#f0a23a" stroke-width="0.8" fill="none"/>
<path d="M761.9,540.4 L761.9,534.1 M759.5,540.4 L764.3,540.4 M759.5,534.1 L764.3,534.1" stroke="#f0a23a" stroke-width="0.8" fill="none"/>
<path d="M780.2,517.5 L780.2,509.2 M777.8,517.5 L782.6,517.5 M777.8,509.2 L782.6,509.2" stroke="#f0a23a" stroke-width="0.8" fill="none"/>
<path d="M605.2,597.6 L605.2,591.4 M602.8,597.6 L607.6,597.6 M602.8,591.4 L607.6,591.4" stroke="#1f9466" stroke-width="0.8" fill="none"/>
<path d="M621.9,604.9 L621.9,592.4 M619.5,604.9 L624.3,604.9 M619.5,592.4 L624.3,592.4" stroke="#1f9466" stroke-width="0.8" fill="none"/>
<path d="M640.2,607.0 L640.2,598.7 M637.8,607.0 L642.6,607.0 M637.8,598.7 L642.6,598.7" stroke="#1f9466" stroke-width="0.8" fill="none"/>
<path d="M656.9,597.6 L656.9,589.3 M654.5,597.6 L659.3,597.6 M654.5,589.3 L659.3,589.3" stroke="#1f9466" stroke-width="0.8" fill="none"/>
<path d="M675.2,579.9 L675.2,567.5 M672.8,579.9 L677.6,579.9 M672.8,567.5 L677.6,567.5" stroke="#1f9466" stroke-width="0.8" fill="none"/>
<path d="M691.9,575.8 L691.9,561.2 M689.5,575.8 L694.3,575.8 M689.5,561.2 L694.3,561.2" stroke="#1f9466" stroke-width="0.8" fill="none"/>
<path d="M710.2,539.3 L710.2,531.0 M707.8,539.3 L712.6,539.3 M707.8,531.0 L712.6,531.0" stroke="#1f9466" stroke-width="0.8" fill="none"/>
<path d="M726.9,541.4 L726.9,533.1 M724.5,541.4 L729.3,541.4 M724.5,533.1 L729.3,533.1" stroke="#1f9466" stroke-width="0.8" fill="none"/>
<path d="M745.2,539.3 L745.2,526.9 M742.8,539.3 L747.6,539.3 M742.8,526.9 L747.6,526.9" stroke="#1f9466" stroke-width="0.8" fill="none"/>
<path d="M761.9,516.4 L761.9,512.3 M759.5,516.4 L764.3,516.4 M759.5,512.3 L764.3,512.3" stroke="#1f9466" stroke-width="0.8" fill="none"/>
<path d="M780.2,511.2 L780.2,502.9 M777.8,511.2 L782.6,511.2 M777.8,502.9 L782.6,502.9" stroke="#1f9466" stroke-width="0.8" fill="none"/>
<path d="M605.2,617.4 L605.2,602.8 M602.8,617.4 L607.6,617.4 M602.8,602.8 L607.6,602.8" stroke="#3c3c8c" stroke-width="0.8" fill="none"/>
<path d="M621.9,613.3 L621.9,602.8 M619.5,613.3 L624.3,613.3 M619.5,602.8 L624.3,602.8" stroke="#3c3c8c" stroke-width="0.8" fill="none"/>
<path d="M640.2,616.4 L640.2,608.1 M637.8,616.4 L642.6,616.4 M637.8,608.1 L642.6,608.1" stroke="#3c3c8c" stroke-width="0.8" fill="none"/>
<path d="M656.9,609.1 L656.9,594.5 M654.5,609.1 L659.3,609.1 M654.5,594.5 L659.3,594.5" stroke="#3c3c8c" stroke-width="0.8" fill="none"/>
<path d="M675.2,596.6 L675.2,586.2 M672.8,596.6 L677.6,596.6 M672.8,586.2 L677.6,586.2" stroke="#3c3c8c" stroke-width="0.8" fill="none"/>
<path d="M691.9,595.6 L691.9,578.9 M689.5,595.6 L694.3,595.6 M689.5,578.9 L694.3,578.9" stroke="#3c3c8c" stroke-width="0.8" fill="none"/>
<path d="M710.2,570.6 L710.2,556.0 M707.8,570.6 L712.6,570.6 M707.8,556.0 L712.6,556.0" stroke="#3c3c8c" stroke-width="0.8" fill="none"/>
<path d="M726.9,564.3 L726.9,558.1 M724.5,564.3 L729.3,564.3 M724.5,558.1 L729.3,558.1" stroke="#3c3c8c" stroke-width="0.8" fill="none"/>
<path d="M745.2,569.5 L745.2,557.0 M742.8,569.5 L747.6,569.5 M742.8,557.0 L747.6,557.0" stroke="#3c3c8c" stroke-width="0.8" fill="none"/>
<path d="M761.9,561.2 L761.9,550.8 M759.5,561.2 L764.3,561.2 M759.5,550.8 L764.3,550.8" stroke="#3c3c8c" stroke-width="0.8" fill="none"/>
<path d="M786.4,512.3 L786.4,504.0 M784.0,512.3 L788.8,512.3 M784.0,504.0 L788.8,504.0" stroke="#3c3c8c" stroke-width="0.8" fill="none"/>
<path d="M605.2,595.8 L607.9,595.6 L610.7,595.4 L613.4,595.1 L616.2,594.8 L618.9,594.4 L621.6,593.9 L624.4,593.4 L627.1,592.7 L629.8,591.9 L632.6,591.0 L635.3,589.9 L638.1,588.5 L640.8,587.0 L643.5,585.1 L646.3,583.0 L649.0,580.5 L651.7,577.7 L654.5,574.5 L657.2,570.9 L660.0,566.9 L662.7,562.6 L665.4,558.0 L668.2,553.2 L670.9,548.2 L673.7,543.2 L676.4,538.1 L679.1,533.2 L681.9,528.5 L684.6,524.1 L687.3,520.0 L690.1,516.2 L692.8,512.9 L695.6,509.9 L698.3,507.2 L701.0,504.9 L703.8,503.0 L706.5,501.3 L709.2,499.8 L712.0,498.6 L714.7,497.6 L717.5,496.7 L720.2,496.0 L722.9,495.4 L725.7,494.9 L728.4,494.5 L731.2,494.1 L733.9,493.8 L736.6,493.6 L739.4,493.4 L742.1,493.3 L744.8,493.1 L747.6,493.0 L750.3,492.9 L753.1,492.8 L755.8,492.8 L758.5,492.7 L761.3,492.7 L764.0,492.7 L766.7,492.6 L769.5,492.6 L772.2,492.6 L775.0,492.6 L777.7,492.6 L780.4,492.6 L783.2,492.5 L785.9,492.5 L788.7,492.5 L791.4,492.5 L794.1,492.5" fill="none" stroke="#d8303c" stroke-width="1.6"/>
<path d="M605.2,590.9 L607.8,590.7 L610.5,590.5 L613.1,590.3 L615.7,590.0 L618.3,589.8 L621.0,589.5 L623.6,589.2 L626.2,588.9 L628.8,588.5 L631.5,588.1 L634.1,587.7 L636.7,587.3 L639.3,586.8 L642.0,586.3 L644.6,585.8 L647.2,585.2 L649.8,584.6 L652.5,584.0 L655.1,583.3 L657.7,582.5 L660.3,581.8 L663.0,580.9 L665.6,580.1 L668.2,579.1 L670.8,578.2 L673.5,577.1 L676.1,576.1 L678.7,574.9 L681.3,573.7 L684.0,572.5 L686.6,571.2 L689.2,569.8 L691.8,568.4 L694.5,567.0 L697.1,565.4 L699.7,563.9 L702.3,562.3 L705.0,560.6 L707.6,558.9 L710.2,557.2 L712.8,555.4 L715.5,553.6 L718.1,551.8 L720.7,550.0 L723.3,548.1 L726.0,546.2 L728.6,544.4 L731.2,542.5 L733.9,540.7 L736.5,538.8 L739.1,537.0 L741.7,535.2 L744.4,533.5 L747.0,531.8 L749.6,530.1 L752.2,528.4 L754.9,526.8 L757.5,525.3 L760.1,523.8 L762.7,522.3 L765.4,520.9 L768.0,519.6 L770.6,518.3 L773.2,517.1 L775.9,515.9 L778.5,514.8 L781.1,513.7 L783.7,512.7 L786.4,511.8" fill="none" stroke="#f0a23a" stroke-width="1.6"/>
<path d="M605.2,596.1 L607.7,596.0 L610.3,595.8 L612.8,595.7 L615.3,595.6 L617.9,595.4 L620.4,595.2 L623.0,595.0 L625.5,594.8 L628.0,594.6 L630.6,594.3 L633.1,594.0 L635.6,593.7 L638.2,593.4 L640.7,593.0 L643.2,592.6 L645.8,592.1 L648.3,591.6 L650.9,591.1 L653.4,590.5 L655.9,589.8 L658.5,589.1 L661.0,588.3 L663.5,587.5 L666.1,586.6 L668.6,585.6 L671.1,584.5 L673.7,583.4 L676.2,582.1 L678.8,580.8 L681.3,579.3 L683.8,577.8 L686.4,576.2 L688.9,574.5 L691.4,572.6 L694.0,570.7 L696.5,568.7 L699.0,566.6 L701.6,564.4 L704.1,562.1 L706.6,559.7 L709.2,557.3 L711.7,554.8 L714.3,552.2 L716.8,549.6 L719.3,547.0 L721.9,544.4 L724.4,541.8 L726.9,539.2 L729.5,536.6 L732.0,534.1 L734.5,531.6 L737.1,529.2 L739.6,526.8 L742.2,524.6 L744.7,522.4 L747.2,520.3 L749.8,518.3 L752.3,516.4 L754.8,514.6 L757.4,512.9 L759.9,511.3 L762.4,509.8 L765.0,508.4 L767.5,507.1 L770.1,505.9 L772.6,504.8 L775.1,503.7 L777.7,502.8 L780.2,501.9" fill="none" stroke="#1f9466" stroke-width="1.6"/>
<path d="M605.2,596.4 L607.8,596.4 L610.5,596.4 L613.1,596.4 L615.7,596.3 L618.3,596.3 L621.0,596.3 L623.6,596.2 L626.2,596.2 L628.8,596.1 L631.5,596.1 L634.1,596.0 L636.7,596.0 L639.3,595.9 L642.0,595.8 L644.6,595.7 L647.2,595.6 L649.8,595.5 L652.5,595.4 L655.1,595.2 L657.7,595.0 L660.3,594.9 L663.0,594.7 L665.6,594.4 L668.2,594.2 L670.8,593.9 L673.5,593.6 L676.1,593.3 L678.7,592.9 L681.3,592.4 L684.0,592.0 L686.6,591.5 L689.2,590.9 L691.8,590.2 L694.5,589.5 L697.1,588.8 L699.7,587.9 L702.3,587.0 L705.0,585.9 L707.6,584.8 L710.2,583.6 L712.8,582.3 L715.5,580.8 L718.1,579.3 L720.7,577.6 L723.3,575.8 L726.0,573.8 L728.6,571.8 L731.2,569.6 L733.9,567.3 L736.5,564.8 L739.1,562.3 L741.7,559.7 L744.4,557.0 L747.0,554.2 L749.6,551.3 L752.2,548.4 L754.9,545.5 L757.5,542.6 L760.1,539.7 L762.7,536.8 L765.4,534.0 L768.0,531.2 L770.6,528.5 L773.2,525.9 L775.9,523.4 L778.5,521.1 L781.1,518.8 L783.7,516.6 L786.4,514.6" fill="none" stroke="#3c3c8c" stroke-width="1.6"/>
<rect x="602.9" y="597.4" width="4.6" height="4.6" fill="#d8303c"/>
<rect x="619.6" y="600.5" width="4.6" height="4.6" fill="#d8303c"/>
<rect x="637.9" y="583.9" width="4.6" height="4.6" fill="#d8303c"/>
<rect x="654.6" y="567.2" width="4.6" height="4.6" fill="#d8303c"/>
<rect x="672.9" y="538.1" width="4.6" height="4.6" fill="#d8303c"/>
<rect x="689.6" y="510.0" width="4.6" height="4.6" fill="#d8303c"/>
<rect x="707.9" y="500.6" width="4.6" height="4.6" fill="#d8303c"/>
<rect x="724.6" y="508.9" width="4.6" height="4.6" fill="#d8303c"/>
<rect x="742.9" y="503.7" width="4.6" height="4.6" fill="#d8303c"/>
<circle cx="605.2" cy="596.6" r="2.5" fill="#f0a23a"/>
<circle cx="621.9" cy="601.8" r="2.5" fill="#f0a23a"/>
<circle cx="640.2" cy="586.2" r="2.5" fill="#f0a23a"/>
<circle cx="656.9" cy="588.3" r="2.5" fill="#f0a23a"/>
<circle cx="675.2" cy="576.8" r="2.5" fill="#f0a23a"/>
<circle cx="691.9" cy="557.0" r="2.5" fill="#f0a23a"/>
<circle cx="710.2" cy="539.3" r="2.5" fill="#f0a23a"/>
<circle cx="726.9" cy="545.6" r="2.5" fill="#f0a23a"/>
<circle cx="745.2" cy="539.3" r="2.5" fill="#f0a23a"/>
<circle cx="761.9" cy="537.3" r="2.5" fill="#f0a23a"/>
<circle cx="780.2" cy="513.3" r="2.5" fill="#f0a23a"/>
<path d="M605.2,592.0 L607.6,596.3 L602.8,596.3 Z" fill="#1f9466"/>
<path d="M621.9,596.2 L624.3,600.4 L619.5,600.4 Z" fill="#1f9466"/>
<path d="M640.2,600.3 L642.6,604.6 L637.8,604.6 Z" fill="#1f9466"/>
<path d="M656.9,591.0 L659.3,595.2 L654.5,595.2 Z" fill="#1f9466"/>
<path d="M675.2,571.2 L677.6,575.4 L672.8,575.4 Z" fill="#1f9466"/>
<path d="M691.9,566.0 L694.3,570.2 L689.5,570.2 Z" fill="#1f9466"/>
<path d="M710.2,532.7 L712.6,536.9 L707.8,536.9 Z" fill="#1f9466"/>
<path d="M726.9,534.8 L729.3,539.0 L724.5,539.0 Z" fill="#1f9466"/>
<path d="M745.2,530.6 L747.6,534.8 L742.8,534.8 Z" fill="#1f9466"/>
<path d="M761.9,511.9 L764.3,516.1 L759.5,516.1 Z" fill="#1f9466"/>
<path d="M780.2,504.6 L782.6,508.8 L777.8,508.8 Z" fill="#1f9466"/>
<path d="M605.2,612.6 L607.6,608.4 L602.8,608.4 Z" fill="#3c3c8c"/>
<path d="M621.9,610.6 L624.3,606.3 L619.5,606.3 Z" fill="#3c3c8c"/>
<path d="M640.2,614.7 L642.6,610.5 L637.8,610.5 Z" fill="#3c3c8c"/>
<path d="M656.9,604.3 L659.3,600.1 L654.5,600.1 Z" fill="#3c3c8c"/>
<path d="M675.2,593.9 L677.6,589.6 L672.8,589.6 Z" fill="#3c3c8c"/>
<path d="M691.9,589.7 L694.3,585.5 L689.5,585.5 Z" fill="#3c3c8c"/>
<path d="M710.2,565.8 L712.6,561.5 L707.8,561.5 Z" fill="#3c3c8c"/>
<path d="M726.9,563.7 L729.3,559.5 L724.5,559.5 Z" fill="#3c3c8c"/>
<path d="M745.2,565.8 L747.6,561.5 L742.8,561.5 Z" fill="#3c3c8c"/>
<path d="M761.9,558.5 L764.3,554.3 L759.5,554.3 Z" fill="#3c3c8c"/>
<path d="M786.4,510.6 L788.7,506.4 L784.0,506.4 Z" fill="#3c3c8c"/>
</g>
<rect x="608.6" y="496.5" width="4.6" height="4.6" fill="#d8303c"/>
<circle cx="610.9" cy="508.9" r="2.4" fill="#f0a23a"/>
<path d="M610.9,517.1 L613.3,521.4 L608.5,521.4 Z" fill="#1f9466"/>
<path d="M610.9,531.7 L613.3,527.5 L608.5,527.5 Z" fill="#3c3c8c"/>
<text x="619.3" y="501.9" font-size="10.3" fill="#222" stroke="#222" stroke-width="0.22">2-D</text>
<text x="619.3" y="512.2" font-size="10.3" fill="#222" stroke="#222" stroke-width="0.22">Spheroids in 2-D</text>
<text x="619.3" y="522.4" font-size="10.3" fill="#222" stroke="#222" stroke-width="0.22">MS</text>
<text x="619.3" y="532.8" font-size="10.3" fill="#222" stroke="#222" stroke-width="0.22">SS</text>
</svg>
</body></html>
